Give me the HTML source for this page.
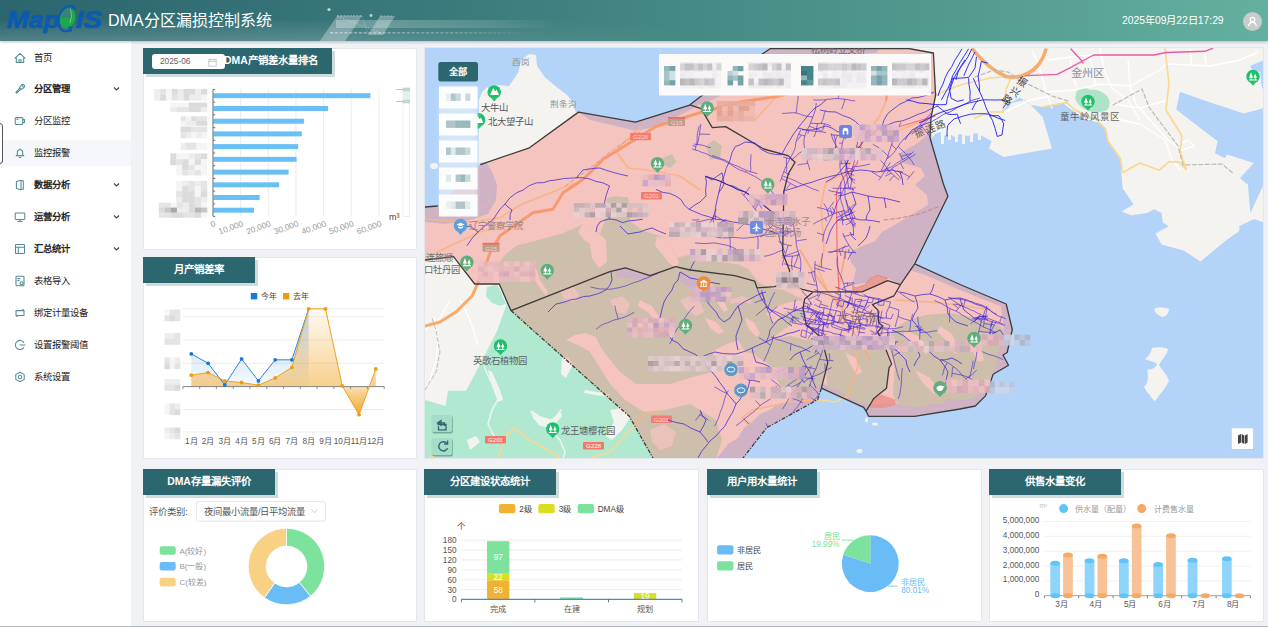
<!DOCTYPE html>
<html lang="zh-CN">
<head>
<meta charset="utf-8">
<title>DMA分区漏损控制系统</title>
<style>
*{box-sizing:border-box;margin:0;padding:0}
html,body{width:1268px;height:627px;overflow:hidden;background:#f0f2f5;font-family:"Liberation Sans",sans-serif;color:#222}
body{position:relative}
.abs{position:absolute}
/* header */
#hdr{position:absolute;left:0;top:0;width:1268px;height:41px;background:linear-gradient(90deg,#2c656e 0%,#3a7a7c 35%,#4f968c 70%,#64b09e 100%);box-shadow:0 1px 3px rgba(0,0,0,.25);z-index:5;overflow:hidden}
#hdr .vg{position:absolute;left:0;top:0;width:700px;height:41px;background:linear-gradient(180deg,rgba(0,0,0,0) 45%,rgba(255,255,255,.18) 100%);-webkit-mask-image:linear-gradient(90deg,#000 0%,#000 50%,transparent 100%)}
#logo{position:absolute;left:6.5px;top:4.5px;-webkit-text-stroke:.7px #0d5bb0;height:30px;font-size:24px;font-weight:bold;font-style:italic;color:#0d5bb0;line-height:30px;white-space:nowrap}
#logo b{position:absolute;top:0;font-weight:bold}
#ttl{position:absolute;left:108px;top:9.5px;font-size:16px;line-height:22px;color:#fff;white-space:nowrap}
#dt{position:absolute;left:1122px;top:13.5px;font-size:10.3px;line-height:14px;color:#fff;white-space:nowrap}
#ava{position:absolute;left:1243px;top:12px;width:19px;height:19px;border-radius:50%;background:#c9cbcc}
/* sidebar */
#side{position:absolute;left:0;top:41px;width:131px;height:586px;background:#fff}
.mi{position:absolute;left:0;width:131px;height:32px;font-size:9.4px;line-height:32px;color:#222;white-space:nowrap}
.mi span{position:absolute;left:34px;top:0}
.mi.b span{font-weight:bold}
.mi svg.ic{position:absolute;left:14px;top:10px;width:12px;height:12px;fill:none;stroke:#4f8c93;stroke-width:1.05;stroke-linecap:round;stroke-linejoin:round}
.mi svg.ch{position:absolute;left:113px;top:13px;width:7px;height:6px;fill:none;stroke:#444;stroke-width:1.2}
.mi.act{background:linear-gradient(#fff 0,#fff 3px,#f5f7fa 3px,#f5f7fa 29px,#fff 29px)}
/* panels */
.pn{position:absolute;background:#fff;border:1px solid #e3e6ea;border-radius:1px}
.tt{position:absolute;left:-1px;top:-1px;height:26px;background:#2c6770;color:#fff;font-size:10.4px;font-weight:bold;line-height:26px;text-align:center;box-shadow:3px 3px 0 #cfdcdd;white-space:nowrap;letter-spacing:0}
svg text{font-family:"Liberation Sans",sans-serif}
</style>
</head>
<body>

<!-- HEADER -->
<div id="hdr">
  <div class="vg"></div>
  <svg class="abs" style="left:318px;top:0" width="260" height="41" viewBox="318 0 260 41">
    <defs><linearGradient id="hf" x1="0" x2="1"><stop offset="0" stop-color="#fff" stop-opacity=".28"/><stop offset=".7" stop-color="#fff" stop-opacity=".12"/><stop offset="1" stop-color="#fff" stop-opacity="0"/></linearGradient><linearGradient id="hf2" gradientUnits="userSpaceOnUse" x1="330" y1="0" x2="535" y2="0"><stop offset="0" stop-color="#fff" stop-opacity=".55"/><stop offset=".6" stop-color="#fff" stop-opacity=".3"/><stop offset="1" stop-color="#fff" stop-opacity="0"/></linearGradient></defs>
    <polygon points="320,41 337,16 362,16 345,41" fill="#fff" fill-opacity=".3"/>
    <polygon points="368,35 380,16 395,16 383,35" fill="#fff" fill-opacity=".3"/>
    <rect x="336" y="20" width="220" height="8" fill="url(#hf)"/>
    <line x1="330" y1="32.800" x2="535" y2="32.800" stroke="url(#hf2)" stroke-width="1.300" stroke-dasharray="3.200 1.600"/>
    <polyline points="337,15.800 362,15.800" fill="none" stroke="#fff" stroke-opacity=".6" stroke-width=".9" stroke-dasharray="2 1.200"/><path d="M337 16 383 34M362 16 368 34" fill="none" stroke="#fff" stroke-opacity=".4" stroke-width=".7" stroke-dasharray="1.500 1.500"/>
    <polyline points="380,16 394,16" fill="none" stroke="#fff" stroke-opacity=".5" stroke-width=".8" stroke-dasharray="2 1.5"/>
    <circle cx="329" cy="9.5" r="1.6" fill="#fff" fill-opacity=".7"/>
    <circle cx="371" cy="15.5" r="1.4" fill="#fff" fill-opacity=".7"/>
  </svg>
  <div id="logo"><b style="left:0;transform:scaleX(1.1);transform-origin:0 0">Map</b><svg class="abs" style="left:45.500px;top:-2px" width="28" height="32" viewBox="52 4 28 32"><ellipse cx="67.600" cy="19" rx="7.800" ry="10.300" transform="rotate(13 67.600 19)" fill="#1ea84c"/><path d="M61.800 18.500l1.600 1.200 1.400-2 1.600 1.800 1.600-1.600 1.400 1.800 1.600-2.400.6-2.500-.4-3.500-2.400-3-3.600.8-2.800 4.200z" fill="#3b7c7c" fill-opacity=".9"/><path d="M70.500 9.800l1 7.500-1.500 7" fill="none" stroke="#9adfae" stroke-width=".6"/><path d="M74.800 9.600C72.500 5.600 66.500 5.800 62.200 11.200 57.800 17 57.200 26 60.600 30 63 32.800 67.500 33 70.800 30.500" fill="none" stroke="#0d5bb0" stroke-width="2.200" stroke-linecap="round"/><path d="M70.600 32.800l1.100-4.600-3.600.3" fill="none" stroke="#0d5bb0" stroke-width="1.600"/></svg><b style="left:69.200px;transform:scaleX(1.16);transform-origin:0 0">IS</b></div>
  <div id="ttl">DMA分区漏损控制系统</div>
  <div id="dt">2025年09月22日17:29</div>
  <div id="ava"><svg width="19" height="19" viewBox="0 0 19 19" fill="none" stroke="#fff" stroke-width="1.2"><circle cx="9.5" cy="7.6" r="2.3"/><path d="M5.6 14.2c.3-2.6 1.8-3.9 3.9-3.9s3.6 1.3 3.9 3.9"/></svg></div>
</div>

<!-- SIDEBAR -->
<div id="side">
  <div class="mi" style="top:0.5px"><svg class="ic" viewBox="0 0 12 12"><path d="M1 6.2 6 1.4l5 4.8M2.3 5.2v5.3h7.4V5.2M5 10.5V7.8h2v2.7"/></svg><span>首页</span></div>
  <div class="mi b" style="top:32.4px"><svg class="ic" viewBox="0 0 12 12"><g transform="rotate(45 6 6)"><rect x="4.300" y=".3" width="3.400" height="5.200" rx="1.600"/><path d="M5.200 5.500 5.500 11.300h1L6.800 5.500M5 2.200h2"/></g></svg><span>分区管理</span><svg class="ch" viewBox="0 0 7 6"><path d="M1 1.500 3.500 4 6 1.500"/></svg></div>
  <div class="mi" style="top:64.300px"><svg class="ic" viewBox="0 0 12 12"><rect x="1.200" y="2.600" width="7.600" height="6.800" rx="1"/><path d="M8.800 4.600h1.700v2.800H8.800M2.800 4.200h1.200"/></svg><span>分区监控</span></div>
  <div class="mi act" style="top:96.200px"><svg class="ic" viewBox="0 0 12 12"><path d="M3.300 8.600V5.400a2.700 2.700 0 0 1 5.400 0v3.200M2.200 8.600h7.600M5.200 10.400h1.600M6 2.700V1.800"/></svg><span>监控报警</span></div>
  <div class="mi b" style="top:128.100px"><svg class="ic" viewBox="0 0 12 12"><path d="M2.400 2.600 7 1.300v9.400L2.400 9.400zM7 1.800h2.300v8.400H7"/></svg><span>数据分析</span><svg class="ch" viewBox="0 0 7 6"><path d="M1 1.500 3.500 4 6 1.500"/></svg></div>
  <div class="mi b" style="top:160px"><svg class="ic" viewBox="0 0 12 12"><rect x="1.200" y="2" width="9.600" height="6.400" rx=".8"/><path d="M3.800 10.400h4.400M6 8.400v2"/></svg><span>运营分析</span><svg class="ch" viewBox="0 0 7 6"><path d="M1 1.500 3.500 4 6 1.500"/></svg></div>
  <div class="mi b" style="top:191.900px"><svg class="ic" viewBox="0 0 12 12"><rect x="1.500" y="1.500" width="9" height="9" rx=".8"/><path d="M1.500 4.300h9M4.300 4.300v6.200"/></svg><span>汇总统计</span><svg class="ch" viewBox="0 0 7 6"><path d="M1 1.500 3.500 4 6 1.500"/></svg></div>
  <div class="mi" style="top:223.800px"><svg class="ic" viewBox="0 0 12 12"><rect x="2" y="1.300" width="8" height="9.400" rx=".8"/><path d="M3.800 3.600h2M3.800 5.600h1.200"/><circle cx="7.600" cy="8.300" r="1.500"/></svg><span>表格导入</span></div>
  <div class="mi" style="top:255.700px"><svg class="ic" viewBox="0 0 12 12"><path d="M2 5V3.600h8v3.200M10 7v1.400H2V5.200M8.800 2.400 10 3.600M3.200 9.600 2 8.400"/></svg><span>绑定计量设备</span></div>
  <div class="mi" style="top:287.600px"><svg class="ic" viewBox="0 0 12 12"><path d="M9.800 3.400A4.600 4.600 0 1 0 9.800 8.600M6 6h5"/></svg><span>设置报警阈值</span></div>
  <div class="mi" style="top:319.500px"><svg class="ic" viewBox="0 0 12 12"><path d="M6 1.200 10.200 3.600v4.800L6 10.800 1.800 8.400V3.600z"/><circle cx="6" cy="6" r="1.700"/></svg><span>系统设置</span></div>
</div>
<div class="abs" style="left:-10px;top:123px;width:13px;height:41px;border:1.2px solid #555;border-radius:3px;background:#fff"></div>

<!-- PANEL 1 : DMA产销差水量排名 -->
<div class="pn" id="p1" style="left:143px;top:48px;width:274px;height:202px">
  <div class="tt" style="width:189px;text-align:left;padding-left:81px">DMA产销差水量排名</div>
  <div class="abs" style="left:8px;top:5px;width:73px;height:15px;background:#fff;border-radius:3px;font-size:8.300px;line-height:15px;color:#606266;padding-left:8px">2025-06
    <svg class="abs" style="left:56px;top:3.500px" width="9" height="9" viewBox="0 0 9 9" fill="none" stroke="#c0c4cc" stroke-width=".9"><rect x=".8" y="1.500" width="7.400" height="6.700"/><path d="M.8 3.600h7.400M2.800.5v2M6.200.5v2"/></svg>
  </div>
  <svg id="c1" class="abs" style="left:0;top:0" width="272" height="200" viewBox="144 49 272 200">
<defs><filter id="bl1" x="-10%" y="-10%" width="120%" height="120%"><feGaussianBlur stdDeviation=".7"/></filter></defs>
<line x1="240.7" y1="89" x2="240.7" y2="216.3" stroke="#e6e6e6" stroke-width=".8"/>
<line x1="268.3" y1="89" x2="268.3" y2="216.3" stroke="#e6e6e6" stroke-width=".8"/>
<line x1="295.9" y1="89" x2="295.9" y2="216.3" stroke="#e6e6e6" stroke-width=".8"/>
<line x1="323.6" y1="89" x2="323.6" y2="216.3" stroke="#e6e6e6" stroke-width=".8"/>
<line x1="351.2" y1="89" x2="351.2" y2="216.3" stroke="#e6e6e6" stroke-width=".8"/>
<line x1="378.9" y1="89" x2="378.9" y2="216.3" stroke="#e6e6e6" stroke-width=".8"/>
<rect x="213.5" y="93.2" width="156.9" height="5" fill="#69c0f7"/>
<rect x="213.5" y="106" width="114.6" height="5" fill="#69c0f7"/>
<rect x="213.5" y="118.7" width="90.6" height="5" fill="#69c0f7"/>
<rect x="213.5" y="131.4" width="88.3" height="5" fill="#69c0f7"/>
<rect x="213.5" y="144.1" width="84.7" height="5" fill="#69c0f7"/>
<rect x="213.5" y="156.8" width="83.1" height="5" fill="#69c0f7"/>
<rect x="213.5" y="169.6" width="75.1" height="5" fill="#69c0f7"/>
<rect x="213.5" y="182.3" width="65.7" height="5" fill="#69c0f7"/>
<rect x="213.5" y="195" width="46.2" height="5" fill="#69c0f7"/>
<rect x="213.5" y="207.7" width="40.5" height="5" fill="#69c0f7"/>
<path d="M213.0 89.400V216.3" stroke="#555" stroke-width=".9" fill="none"/>
<line x1="213.0" y1="89.4" x2="215.2" y2="89.4" stroke="#555" stroke-width=".8"/>
<line x1="213.0" y1="102.1" x2="215.2" y2="102.1" stroke="#555" stroke-width=".8"/>
<line x1="213.0" y1="114.8" x2="215.2" y2="114.8" stroke="#555" stroke-width=".8"/>
<line x1="213.0" y1="127.6" x2="215.2" y2="127.6" stroke="#555" stroke-width=".8"/>
<line x1="213.0" y1="140.3" x2="215.2" y2="140.3" stroke="#555" stroke-width=".8"/>
<line x1="213.0" y1="153" x2="215.2" y2="153" stroke="#555" stroke-width=".8"/>
<line x1="213.0" y1="165.7" x2="215.2" y2="165.7" stroke="#555" stroke-width=".8"/>
<line x1="213.0" y1="178.4" x2="215.2" y2="178.4" stroke="#555" stroke-width=".8"/>
<line x1="213.0" y1="191.2" x2="215.2" y2="191.2" stroke="#555" stroke-width=".8"/>
<line x1="213.0" y1="203.9" x2="215.2" y2="203.9" stroke="#555" stroke-width=".8"/>
<line x1="213.0" y1="216.6" x2="215.2" y2="216.6" stroke="#555" stroke-width=".8"/>
<g filter="url(#bl1)" opacity=".9">
<rect x="154.3" y="88.9" width="6.2" height="6.0" fill="#ececec"/><rect x="154.3" y="94.6" width="6.2" height="6.0" fill="#ececec"/><rect x="160.2" y="88.9" width="6.2" height="6.0" fill="#e2e2e2"/><rect x="160.2" y="94.6" width="6.2" height="6.0" fill="#d8d8d8"/><rect x="166.0" y="88.9" width="6.2" height="6.0" fill="#f4f4f4"/><rect x="166.0" y="94.6" width="6.2" height="6.0" fill="#f4f4f4"/><rect x="171.9" y="88.9" width="6.2" height="6.0" fill="#d8d8d8"/><rect x="171.9" y="94.6" width="6.2" height="6.0" fill="#e2e2e2"/><rect x="177.7" y="88.9" width="6.2" height="6.0" fill="#ececec"/><rect x="177.7" y="94.6" width="6.2" height="6.0" fill="#ececec"/><rect x="183.6" y="88.9" width="6.2" height="6.0" fill="#d8d8d8"/><rect x="183.6" y="94.6" width="6.2" height="6.0" fill="#d8d8d8"/><rect x="189.4" y="88.9" width="6.2" height="6.0" fill="#d8d8d8"/><rect x="189.4" y="94.6" width="6.2" height="6.0" fill="#ececec"/><rect x="195.3" y="88.9" width="6.2" height="6.0" fill="#ececec"/><rect x="195.3" y="94.6" width="6.2" height="6.0" fill="#ececec"/><rect x="201.1" y="88.9" width="6.2" height="6.0" fill="#d8d8d8"/><rect x="201.1" y="94.6" width="6.2" height="6.0" fill="#f4f4f4"/>
<rect x="170.3" y="102.6" width="6.4" height="4.9" fill="#f4f4f4"/><rect x="170.3" y="107.2" width="6.4" height="4.9" fill="#ececec"/><rect x="176.4" y="102.6" width="6.4" height="4.9" fill="#f4f4f4"/><rect x="176.4" y="107.2" width="6.4" height="4.9" fill="#e2e2e2"/><rect x="182.5" y="102.6" width="6.4" height="4.9" fill="#f4f4f4"/><rect x="182.5" y="107.2" width="6.4" height="4.9" fill="#e2e2e2"/><rect x="188.7" y="102.6" width="6.4" height="4.9" fill="#d8d8d8"/><rect x="188.7" y="107.2" width="6.4" height="4.9" fill="#d8d8d8"/><rect x="194.8" y="102.6" width="6.4" height="4.9" fill="#d8d8d8"/><rect x="194.8" y="107.2" width="6.4" height="4.9" fill="#d8d8d8"/><rect x="200.9" y="102.6" width="6.4" height="4.9" fill="#d8d8d8"/><rect x="200.9" y="107.2" width="6.4" height="4.9" fill="#ececec"/>
<rect x="180.6" y="116.3" width="5.6" height="4.9" fill="#e2e2e2"/><rect x="180.6" y="120.9" width="5.6" height="4.9" fill="#f4f4f4"/><rect x="185.9" y="116.3" width="5.6" height="4.9" fill="#f4f4f4"/><rect x="185.9" y="120.9" width="5.6" height="4.9" fill="#ececec"/><rect x="191.2" y="116.3" width="5.6" height="4.9" fill="#d8d8d8"/><rect x="191.2" y="120.9" width="5.6" height="4.9" fill="#ececec"/><rect x="196.4" y="116.3" width="5.6" height="4.9" fill="#e2e2e2"/><rect x="196.4" y="120.9" width="5.6" height="4.9" fill="#d8d8d8"/><rect x="201.7" y="116.3" width="5.6" height="4.9" fill="#e2e2e2"/><rect x="201.7" y="120.9" width="5.6" height="4.9" fill="#d8d8d8"/>
<rect x="180.6" y="126.6" width="5.6" height="6.0" fill="#d8d8d8"/><rect x="180.6" y="132.3" width="5.6" height="6.0" fill="#e2e2e2"/><rect x="185.9" y="126.6" width="5.6" height="6.0" fill="#d8d8d8"/><rect x="185.9" y="132.3" width="5.6" height="6.0" fill="#ececec"/><rect x="191.2" y="126.6" width="5.6" height="6.0" fill="#e2e2e2"/><rect x="191.2" y="132.3" width="5.6" height="6.0" fill="#f4f4f4"/><rect x="196.4" y="126.6" width="5.6" height="6.0" fill="#e2e2e2"/><rect x="196.4" y="132.3" width="5.6" height="6.0" fill="#ececec"/><rect x="201.7" y="126.6" width="5.6" height="6.0" fill="#e2e2e2"/><rect x="201.7" y="132.3" width="5.6" height="6.0" fill="#f4f4f4"/>
<rect x="180.6" y="142.6" width="5.6" height="7.2" fill="#ececec"/><rect x="185.9" y="142.6" width="5.6" height="7.2" fill="#e2e2e2"/><rect x="191.2" y="142.6" width="5.6" height="7.2" fill="#e2e2e2"/><rect x="196.4" y="142.6" width="5.6" height="7.2" fill="#f4f4f4"/><rect x="201.7" y="142.6" width="5.6" height="7.2" fill="#f4f4f4"/>
<rect x="170.3" y="153.4" width="6.4" height="6.0" fill="#d8d8d8"/><rect x="170.3" y="159.2" width="6.4" height="6.0" fill="#d8d8d8"/><rect x="176.4" y="153.4" width="6.4" height="6.0" fill="#f4f4f4"/><rect x="176.4" y="159.2" width="6.4" height="6.0" fill="#e2e2e2"/><rect x="182.5" y="153.4" width="6.4" height="6.0" fill="#f4f4f4"/><rect x="182.5" y="159.2" width="6.4" height="6.0" fill="#d8d8d8"/><rect x="188.7" y="153.4" width="6.4" height="6.0" fill="#ececec"/><rect x="188.7" y="159.2" width="6.4" height="6.0" fill="#f4f4f4"/><rect x="194.8" y="153.4" width="6.4" height="6.0" fill="#e2e2e2"/><rect x="194.8" y="159.2" width="6.4" height="6.0" fill="#d8d8d8"/><rect x="200.9" y="153.4" width="6.4" height="6.0" fill="#d8d8d8"/><rect x="200.9" y="159.2" width="6.4" height="6.0" fill="#f4f4f4"/>
<rect x="176.0" y="164.9" width="6.5" height="5.4" fill="#f4f4f4"/><rect x="176.0" y="170.1" width="6.5" height="5.4" fill="#f4f4f4"/><rect x="182.2" y="164.9" width="6.5" height="5.4" fill="#d8d8d8"/><rect x="182.2" y="170.1" width="6.5" height="5.4" fill="#e2e2e2"/><rect x="188.4" y="164.9" width="6.5" height="5.4" fill="#e2e2e2"/><rect x="188.4" y="170.1" width="6.5" height="5.4" fill="#ececec"/><rect x="194.6" y="164.9" width="6.5" height="5.4" fill="#f4f4f4"/><rect x="194.6" y="170.1" width="6.5" height="5.4" fill="#e2e2e2"/><rect x="200.8" y="164.9" width="6.5" height="5.4" fill="#f4f4f4"/><rect x="200.8" y="170.1" width="6.5" height="5.4" fill="#f4f4f4"/>
<rect x="176.0" y="180.9" width="6.5" height="5.4" fill="#f4f4f4"/><rect x="176.0" y="186.1" width="6.5" height="5.4" fill="#f4f4f4"/><rect x="182.2" y="180.9" width="6.5" height="5.4" fill="#ececec"/><rect x="182.2" y="186.1" width="6.5" height="5.4" fill="#d8d8d8"/><rect x="188.4" y="180.9" width="6.5" height="5.4" fill="#e2e2e2"/><rect x="188.4" y="186.1" width="6.5" height="5.4" fill="#e2e2e2"/><rect x="194.6" y="180.9" width="6.5" height="5.4" fill="#ececec"/><rect x="194.6" y="186.1" width="6.5" height="5.4" fill="#f4f4f4"/><rect x="200.8" y="180.9" width="6.5" height="5.4" fill="#e2e2e2"/><rect x="200.8" y="186.1" width="6.5" height="5.4" fill="#e2e2e2"/>
<rect x="176.0" y="191.2" width="6.5" height="6.0" fill="#e2e2e2"/><rect x="176.0" y="196.9" width="6.5" height="6.0" fill="#ececec"/><rect x="182.2" y="191.2" width="6.5" height="6.0" fill="#d8d8d8"/><rect x="182.2" y="196.9" width="6.5" height="6.0" fill="#d8d8d8"/><rect x="188.4" y="191.2" width="6.5" height="6.0" fill="#d8d8d8"/><rect x="188.4" y="196.9" width="6.5" height="6.0" fill="#d8d8d8"/><rect x="194.6" y="191.2" width="6.5" height="6.0" fill="#f4f4f4"/><rect x="194.6" y="196.9" width="6.5" height="6.0" fill="#e2e2e2"/><rect x="200.8" y="191.2" width="6.5" height="6.0" fill="#d8d8d8"/><rect x="200.8" y="196.9" width="6.5" height="6.0" fill="#ececec"/>
<rect x="158.9" y="202.6" width="6.3" height="5.3" fill="#e2e2e2"/><rect x="158.9" y="207.6" width="6.3" height="5.3" fill="#d8d8d8"/><rect x="158.9" y="212.5" width="6.3" height="5.3" fill="#e2e2e2"/><rect x="164.9" y="202.6" width="6.3" height="5.3" fill="#e2e2e2"/><rect x="164.9" y="207.6" width="6.3" height="5.3" fill="#c0c0c0"/><rect x="164.9" y="212.5" width="6.3" height="5.3" fill="#e2e2e2"/><rect x="170.9" y="202.6" width="6.3" height="5.3" fill="#f4f4f4"/><rect x="170.9" y="207.6" width="6.3" height="5.3" fill="#9e9e9e"/><rect x="170.9" y="212.5" width="6.3" height="5.3" fill="#d8d8d8"/><rect x="176.9" y="202.6" width="6.3" height="5.3" fill="#e2e2e2"/><rect x="176.9" y="207.6" width="6.3" height="5.3" fill="#ececec"/><rect x="176.9" y="212.5" width="6.3" height="5.3" fill="#d8d8d8"/><rect x="182.9" y="202.6" width="6.3" height="5.3" fill="#ececec"/><rect x="182.9" y="207.6" width="6.3" height="5.3" fill="#ececec"/><rect x="182.9" y="212.5" width="6.3" height="5.3" fill="#e2e2e2"/><rect x="189.0" y="202.6" width="6.3" height="5.3" fill="#d8d8d8"/><rect x="189.0" y="207.6" width="6.3" height="5.3" fill="#d8d8d8"/><rect x="189.0" y="212.5" width="6.3" height="5.3" fill="#e2e2e2"/><rect x="195.0" y="202.6" width="6.3" height="5.3" fill="#e2e2e2"/><rect x="195.0" y="207.6" width="6.3" height="5.3" fill="#b0b0b0"/><rect x="195.0" y="212.5" width="6.3" height="5.3" fill="#d8d8d8"/><rect x="201.0" y="202.6" width="6.3" height="5.3" fill="#f4f4f4"/><rect x="201.0" y="207.6" width="6.3" height="5.3" fill="#c0c0c0"/><rect x="201.0" y="212.5" width="6.3" height="5.3" fill="#f4f4f4"/>
</g>
<text x="214" y="219.800" font-size="8.400" fill="#999" text-anchor="end" transform="rotate(-20 214 219.800)" dominant-baseline="hanging">0</text>
<text x="241.7" y="219.800" font-size="8.400" fill="#999" text-anchor="end" transform="rotate(-20 241.7 219.800)" dominant-baseline="hanging">10,000</text>
<text x="269.3" y="219.800" font-size="8.400" fill="#999" text-anchor="end" transform="rotate(-20 269.3 219.800)" dominant-baseline="hanging">20,000</text>
<text x="296.9" y="219.800" font-size="8.400" fill="#999" text-anchor="end" transform="rotate(-20 296.9 219.800)" dominant-baseline="hanging">30,000</text>
<text x="324.6" y="219.800" font-size="8.400" fill="#999" text-anchor="end" transform="rotate(-20 324.6 219.800)" dominant-baseline="hanging">40,000</text>
<text x="352.2" y="219.800" font-size="8.400" fill="#999" text-anchor="end" transform="rotate(-20 352.2 219.800)" dominant-baseline="hanging">50,000</text>
<text x="379.9" y="219.800" font-size="8.400" fill="#999" text-anchor="end" transform="rotate(-20 379.9 219.800)" dominant-baseline="hanging">60,000</text>
<text x="389" y="220" font-size="9" fill="#444">m³</text>
<rect x="403" y="89.500" width="6.500" height="127" fill="#fff" stroke="#e4e7ed" stroke-width=".7"/>
<rect x="403" y="89.500" width="6.500" height="12" fill="#d9f2ee" fill-opacity=".9"/>
<path d="M396 89.500h7M396 101.500h7" stroke="#aab5b5" stroke-width=".8"/>
<rect x="402.500" y="87.700" width="7.500" height="3.600" fill="#c9d2d2"/><rect x="402.500" y="99.700" width="7.500" height="3.600" fill="#c9d2d2"/>
</svg>
</div>

<!-- PANEL 2 : 月产销差率 -->
<div class="pn" id="p2" style="left:143px;top:257px;width:274px;height:202px">
  <div class="tt" style="width:112px">月产销差率</div>
  <svg id="c2" class="abs" style="left:0;top:0" width="272" height="200" viewBox="144 258 272 200">
<line x1="182.9" y1="308.8" x2="384.2" y2="308.8" stroke="#e9e9e9" stroke-width=".8"/>
<line x1="182.9" y1="316.6" x2="384.2" y2="316.6" stroke="#e9e9e9" stroke-width=".8"/>
<line x1="182.9" y1="340.1" x2="384.2" y2="340.1" stroke="#e9e9e9" stroke-width=".8"/>
<line x1="182.9" y1="363.3" x2="384.2" y2="363.3" stroke="#e9e9e9" stroke-width=".8"/>
<line x1="182.9" y1="409.5" x2="384.2" y2="409.5" stroke="#e9e9e9" stroke-width=".8"/>
<line x1="182.9" y1="432" x2="384.2" y2="432" stroke="#e9e9e9" stroke-width=".8"/>
<defs><linearGradient id="gb" x1="0" y1="308" x2="0" y2="387" gradientUnits="userSpaceOnUse"><stop offset="0" stop-color="#1e7fe0" stop-opacity=".32"/><stop offset="1" stop-color="#1e7fe0" stop-opacity=".04"/></linearGradient><linearGradient id="go" x1="0" y1="308" x2="0" y2="387" gradientUnits="userSpaceOnUse"><stop offset="0" stop-color="#f2a01e" stop-opacity=".05"/><stop offset="1" stop-color="#f2a01e" stop-opacity=".5"/></linearGradient><linearGradient id="go2" x1="0" y1="387" x2="0" y2="415" gradientUnits="userSpaceOnUse"><stop offset="0" stop-color="#f2a01e" stop-opacity=".35"/><stop offset="1" stop-color="#f2a01e" stop-opacity=".95"/></linearGradient><filter id="bl2" x="-20%" y="-20%" width="140%" height="140%"><feGaussianBlur stdDeviation=".7"/></filter></defs>
<polygon points="191.3,386.6 191.3,353.9 208.1,363.3 224.8,385 241.6,358.9 258.4,380.9 275.2,359.8 291.9,359.8 308.7,308.8 308.7,386.6" fill="url(#gb)"/>
<polygon points="191.3,386.6 191.3,375.2 208.1,372.6 224.8,380.9 241.6,382.5 258.4,385.2 275.2,377.9 291.9,367.4 308.7,308.8 325.5,308.8 342.3,385.9" fill="url(#go)"/>
<polygon points="342.3,386.6 359,414.7 369.4,386.6" fill="url(#go2)"/>
<polygon points="369.4,386.6 375.8,369 375.8,386.6" fill="url(#go)"/>
<line x1="182.9" y1="386.6" x2="384.2" y2="386.6" stroke="#777" stroke-width=".9"/>
<line x1="182.9" y1="386.6" x2="182.9" y2="389.1" stroke="#777" stroke-width=".8"/>
<line x1="199.7" y1="386.6" x2="199.7" y2="389.1" stroke="#777" stroke-width=".8"/>
<line x1="216.4" y1="386.6" x2="216.4" y2="389.1" stroke="#777" stroke-width=".8"/>
<line x1="233.2" y1="386.6" x2="233.2" y2="389.1" stroke="#777" stroke-width=".8"/>
<line x1="250" y1="386.6" x2="250" y2="389.1" stroke="#777" stroke-width=".8"/>
<line x1="266.8" y1="386.6" x2="266.8" y2="389.1" stroke="#777" stroke-width=".8"/>
<line x1="283.6" y1="386.6" x2="283.6" y2="389.1" stroke="#777" stroke-width=".8"/>
<line x1="300.3" y1="386.6" x2="300.3" y2="389.1" stroke="#777" stroke-width=".8"/>
<line x1="317.1" y1="386.6" x2="317.1" y2="389.1" stroke="#777" stroke-width=".8"/>
<line x1="333.9" y1="386.6" x2="333.9" y2="389.1" stroke="#777" stroke-width=".8"/>
<line x1="350.6" y1="386.6" x2="350.6" y2="389.1" stroke="#777" stroke-width=".8"/>
<line x1="367.4" y1="386.6" x2="367.4" y2="389.1" stroke="#777" stroke-width=".8"/>
<line x1="384.2" y1="386.6" x2="384.2" y2="389.1" stroke="#777" stroke-width=".8"/>
<polyline points="191.3,353.9 208.1,363.3 224.8,385 241.6,358.9 258.4,380.9 275.2,359.8 291.9,359.8 308.7,308.8" fill="none" stroke="#2a86e2" stroke-width="1"/>
<polyline points="191.3,375.2 208.1,372.6 224.8,380.9 241.6,382.5 258.4,385.2 275.2,377.9 291.9,367.4 308.7,308.8 325.5,308.8 342.3,385.9 359,414.7 375.8,369" fill="none" stroke="#f0a01c" stroke-width="1"/>
<circle cx="191.3" cy="353.9" r="1.900" fill="#1777dc"/>
<circle cx="208.1" cy="363.3" r="1.900" fill="#1777dc"/>
<circle cx="224.8" cy="385" r="1.900" fill="#1777dc"/>
<circle cx="241.6" cy="358.9" r="1.900" fill="#1777dc"/>
<circle cx="258.4" cy="380.9" r="1.900" fill="#1777dc"/>
<circle cx="275.2" cy="359.8" r="1.900" fill="#1777dc"/>
<circle cx="291.9" cy="359.8" r="1.900" fill="#1777dc"/>
<circle cx="191.3" cy="375.2" r="1.900" fill="#f09a12"/>
<circle cx="208.1" cy="372.6" r="1.900" fill="#f09a12"/>
<circle cx="224.8" cy="380.9" r="1.900" fill="#f09a12"/>
<circle cx="241.6" cy="382.5" r="1.900" fill="#f09a12"/>
<circle cx="258.4" cy="385.2" r="1.900" fill="#f09a12"/>
<circle cx="275.2" cy="377.9" r="1.900" fill="#f09a12"/>
<circle cx="291.9" cy="367.4" r="1.900" fill="#f09a12"/>
<circle cx="308.7" cy="308.8" r="1.900" fill="#f09a12"/>
<circle cx="325.5" cy="308.8" r="1.900" fill="#f09a12"/>
<circle cx="342.3" cy="385.9" r="1.900" fill="#f09a12"/>
<circle cx="359" cy="414.7" r="1.900" fill="#f09a12"/>
<circle cx="375.8" cy="369" r="1.900" fill="#f09a12"/>
<rect x="250.800" y="293" width="6.400" height="6.400" fill="#1777dc"/><text x="260.500" y="299.400" font-size="8" fill="#444">今年</text>
<rect x="283" y="293" width="6.400" height="6.400" fill="#f09a12"/><text x="293" y="299.400" font-size="8" fill="#444">去年</text>
<text x="191.3" y="444" font-size="8.200" fill="#555" text-anchor="middle">1月</text>
<text x="208.1" y="444" font-size="8.200" fill="#555" text-anchor="middle">2月</text>
<text x="224.8" y="444" font-size="8.200" fill="#555" text-anchor="middle">3月</text>
<text x="241.6" y="444" font-size="8.200" fill="#555" text-anchor="middle">4月</text>
<text x="258.4" y="444" font-size="8.200" fill="#555" text-anchor="middle">5月</text>
<text x="275.2" y="444" font-size="8.200" fill="#555" text-anchor="middle">6月</text>
<text x="291.9" y="444" font-size="8.200" fill="#555" text-anchor="middle">7月</text>
<text x="308.7" y="444" font-size="8.200" fill="#555" text-anchor="middle">8月</text>
<text x="325.5" y="444" font-size="8.200" fill="#555" text-anchor="middle">9月</text>
<text x="342.3" y="444" font-size="8.200" fill="#555" text-anchor="middle">10月</text>
<text x="359" y="444" font-size="8.200" fill="#555" text-anchor="middle">11月</text>
<text x="375.8" y="444" font-size="8.200" fill="#555" text-anchor="middle">12月</text>
<g filter="url(#bl2)" opacity=".9">
<rect x="164.5" y="309.5" width="5.5" height="6.0" fill="#f4f4f4"/><rect x="164.5" y="315.2" width="5.5" height="6.0" fill="#e2e2e2"/><rect x="169.7" y="309.5" width="5.5" height="6.0" fill="#e2e2e2"/><rect x="169.7" y="315.2" width="5.5" height="6.0" fill="#d8d8d8"/><rect x="174.8" y="309.5" width="5.5" height="6.0" fill="#e2e2e2"/><rect x="174.8" y="315.2" width="5.5" height="6.0" fill="#e2e2e2"/>
<rect x="164.5" y="333.0" width="5.5" height="6.0" fill="#ececec"/><rect x="164.5" y="338.8" width="5.5" height="6.0" fill="#e2e2e2"/><rect x="169.7" y="333.0" width="5.5" height="6.0" fill="#ececec"/><rect x="169.7" y="338.8" width="5.5" height="6.0" fill="#e2e2e2"/><rect x="174.8" y="333.0" width="5.5" height="6.0" fill="#e2e2e2"/><rect x="174.8" y="338.8" width="5.5" height="6.0" fill="#e2e2e2"/>
<rect x="164.5" y="357.5" width="5.5" height="6.0" fill="#e2e2e2"/><rect x="164.5" y="363.2" width="5.5" height="6.0" fill="#d8d8d8"/><rect x="169.7" y="357.5" width="5.5" height="6.0" fill="#f4f4f4"/><rect x="169.7" y="363.2" width="5.5" height="6.0" fill="#f4f4f4"/><rect x="174.8" y="357.5" width="5.5" height="6.0" fill="#ececec"/><rect x="174.8" y="363.2" width="5.5" height="6.0" fill="#e2e2e2"/>
<rect x="164.5" y="379.0" width="5.5" height="6.0" fill="#ececec"/><rect x="164.5" y="384.8" width="5.5" height="6.0" fill="#e2e2e2"/><rect x="169.7" y="379.0" width="5.5" height="6.0" fill="#ececec"/><rect x="169.7" y="384.8" width="5.5" height="6.0" fill="#e2e2e2"/><rect x="174.8" y="379.0" width="5.5" height="6.0" fill="#ececec"/><rect x="174.8" y="384.8" width="5.5" height="6.0" fill="#d8d8d8"/>
<rect x="164.5" y="403.5" width="5.5" height="6.0" fill="#f4f4f4"/><rect x="164.5" y="409.2" width="5.5" height="6.0" fill="#f4f4f4"/><rect x="169.7" y="403.5" width="5.5" height="6.0" fill="#e2e2e2"/><rect x="169.7" y="409.2" width="5.5" height="6.0" fill="#e2e2e2"/><rect x="174.8" y="403.5" width="5.5" height="6.0" fill="#ececec"/><rect x="174.8" y="409.2" width="5.5" height="6.0" fill="#d8d8d8"/>
<rect x="164.5" y="427.5" width="5.5" height="6.0" fill="#ececec"/><rect x="164.5" y="433.2" width="5.5" height="6.0" fill="#f4f4f4"/><rect x="169.7" y="427.5" width="5.5" height="6.0" fill="#e2e2e2"/><rect x="169.7" y="433.2" width="5.5" height="6.0" fill="#ececec"/><rect x="174.8" y="427.5" width="5.5" height="6.0" fill="#d8d8d8"/><rect x="174.8" y="433.2" width="5.5" height="6.0" fill="#e2e2e2"/>
</g>
</svg>
</div>

<!-- MAP -->
<div class="pn" id="map" style="left:424px;top:47px;width:840px;height:412px;overflow:hidden;background:#b3d4f8;border-color:#e3e6ea">
<svg class="abs" style="left:0;top:0" width="838" height="410" viewBox="425 48 838 410">
<defs><filter id="mbl" x="-10%" y="-20%" width="120%" height="140%"><feGaussianBlur stdDeviation="1.600"/></filter><filter id="mb2" x="-10%" y="-20%" width="120%" height="140%"><feGaussianBlur stdDeviation=".75"/></filter><clipPath id="ovc"><polygon points="425,207 438,206 480.3,164.6 529.4,147.8 578.5,112.1 635.5,122.1 689,105.4 700,97 770.4,48 908.8,48 933.4,53 935.6,95.4 931,117.7 930,137.8 940.5,174 943.4,184 947.9,196.3 913.3,264.4 960,284.5 1006.2,304 1012.3,329.5 1007.2,352.5 1003,355 1008.5,365.2 993.2,374.2 985.5,395.9 975.3,406 960,409 914.6,416.3 868.7,416.3 863.6,407.4 821.4,388.2 817.6,399.7 766.6,427.8 742.3,459 653.5,459 629.3,416.3 510.6,310.4 499.3,284 474.7,284 453.5,256.6 425,260"/></clipPath></defs>
<rect x="425" y="48" width="839" height="411" fill="#f5f3ef"/>
<polygon points="425,48 770,48 745,66 720,84 700,98 689,106 660,115 636,123.5 610,119 578.5,113 575,111 574,103 567,95 556,86.4 545,77.5 537,66 536,55 529.4,54 521.6,59.6 518,73 509,86 496,85 487,87.5 482,92 479,100 478.5,163 484,175 490,190 489,206 470,207 425,207" fill="#b3d4f8"/>
<ellipse cx="434" cy="166" rx="4" ry="3" fill="#f5f3ef"/>
<polygon points="935,134 940,132 945,136 949,133 954,137 960,134 968,136 976,133 984,137 991.5,141 989,148.5 1003.7,157 1052,148.5 1042.6,117 1030.5,104.7 1025,100 1012,103 1008,108 1003,112 1008,104 1020,97.5 1030.5,104.7 1042.6,107 1066.9,102.3 1074,109.6 1096,119.3 1105.7,129 1108,141.2 1120.3,158.2 1121.5,174 1122.7,188.6 1133.7,204.4 1121.5,211.6 1131.2,215.3 1147,212.9 1154.3,209.2 1161.6,212.9 1162.8,222.6 1168.9,226.2 1155.5,233.5 1161.6,244.4 1183.5,250.5 1200.5,261.4 1227.2,239.6 1239.3,231 1239.3,226 1254,219 1264,222.6 1264,459 742,459 766.6,427.8 817.6,399.7 821.4,388.2 863.6,407.4 868.7,416.3 914.6,416.3 960,409 975.3,406 985.5,395.9 993.2,374.2 1008.5,365.2 1003,356 1007.2,352.5 1012.3,329.5 1006.2,304 960,284.5 913.3,264.4 947.9,196.3 943.4,184 936,160 931,140" fill="#b3d4f8"/>
<rect x="941" y="132" width="3" height="12" fill="#f5f3ef"/>
<rect x="948" y="132" width="3" height="8" fill="#f5f3ef"/>
<rect x="955" y="132" width="3" height="10" fill="#f5f3ef"/>
<rect x="962" y="132" width="3" height="12" fill="#f5f3ef"/>
<rect x="970" y="132" width="3" height="10" fill="#f5f3ef"/>
<rect x="978" y="132" width="3" height="8" fill="#f5f3ef"/>
<polygon points="1180,91.7 1203,100 1244,113.6 1264,108 1264,184 1250.3,212.9 1247.8,183.7 1246.6,184 1240,178 1253.8,163 1227,154.5 1224.8,158.2 1215,153.3 1217.5,141.2 1176.2,109.6" fill="#b3d4f8"/>
<polygon points="1250,66 1264,60 1264,90 1262,88 1260,72 1252,70" fill="#b3d4f8"/>
<polygon points="931,131 918,143 898,154 903,163 921,168 925,176 915,185 927,195 928,205 916,212 900,222 882,232 875,241 860,247 848.5,253 851,262 856,268.7 852.5,284.7 866,283 871,277 878,275 887.6,278.3 900,284 913.3,264.4 947.9,196.3 943.4,184 936,160 933,140" fill="#b3d4f8"/>
<path d="M1154 309c3-2 10-2 15 0 0 4-3 8-7 8-4-2-7-4-8-8z" fill="#f5f3ef"/>
<path d="M1152 348c5-1 12-1 16 1-1 6-6 10-9 16 4 6 9 11 10 16-4 8-10 14-14 20-4-2-4-6-8-9l-3-5c4-4 5-10 3-17 5-1 9-2 10-6-3-3-8-3-12-5 4-3 6-6 7-11z" fill="#f5f3ef"/>
<ellipse cx="866.500" cy="420" rx="1.500" ry="2.600" fill="#f5f3ef"/><ellipse cx="875" cy="424" rx="3" ry="1.500" fill="#f5f3ef"/><ellipse cx="859.500" cy="451" rx="3" ry="2" fill="#f5f3ef"/>
<polygon points="500,262 504.8,255 516.7,245.5 535.9,240.7 562.2,233.5 583.7,223.9 600.5,233.5 605.3,219.1 612,197 628,197 630.4,221.5 643.5,231.1 667.5,238.3 672.2,247.8 677,257.4 689,255 703.3,259.8 739.2,264.6 748.8,269.4 758,282 770,288 784,290 796,296 805,300 805,318 792,324 780,332 770,340 766,352 772,370 780,385 790,396 800,398 812,392 815,399 790,414 766,428 742,459 425,459 425,400 445.5,406 448,390.8 466,390.8 481,362.7 496.6,332 506.8,304 499.3,284" fill="#b1e8d0"/>
<polygon points="487,287 497,284.5 500,290 506,304 500,306 492,303 486,296" fill="#b1e8d0"/>
<polygon points="566,340 575,335 585.5,333 596,337 600,346 608.5,358 620,372 636,384 670,384 693,377 712,372 716,360 712,352 722,346 738,340 750,332 760,322 768,312 778,306 790,302 805,300 805,308 794,310 784,314 775,321 767,330 758,340 752,348 756,356 766,362 772,370 780,385 790,396 800,398 812,392 815,399 766,428 742,459 716,459 722,440 716,420 700,410 690,404 665,410 644,412 625,400 610,384 600.8,369 590,352 580,346" fill="#f5f3ef"/>
<polygon points="583,224 592,228 600,234 606,240 607,262 599,268 592,258 590,244 584,240 578,232" fill="#f5f3ef"/>
<polygon points="656.7,236.5 668,238 672,248 679,262 676,268 668,262 662,254 655,246" fill="#f5f3ef"/>
<polygon points="530,262 536,268 540,280 548,292 546,296 537,284 531,272" fill="#f5f3ef"/>
<polygon points="700,280 712,284 722,296 728,310 724,312 715,300 704,290" fill="#f5f3ef"/>
<polygon points="640,300 652,306 660,318 656,322 648,312 638,306" fill="#f5f3ef"/>
<polygon points="705,318 716,322 724,332 718,334 710,328" fill="#f5f3ef"/>
<polygon points="722,420 735,410 750,404 762,408 752,420 740,432 728,440" fill="#f5f3ef" fill-opacity=".75"/>
<polygon points="730,300 742,296 752,300 748,310 738,314 730,310" fill="#f5f3ef" fill-opacity=".75"/>
<polygon points="680,300 690,296 700,302 704,312 696,316 686,310" fill="#f5f3ef" fill-opacity=".75"/>
<polygon points="610,300 622,296 630,304 626,314 616,312" fill="#f5f3ef" fill-opacity=".75"/>
<polygon points="560,290 572,286 580,294 574,302 564,300" fill="#f5f3ef" fill-opacity=".75"/>
<polygon points="776,350 786,346 794,354 796,366 788,372 780,364" fill="#f5f3ef" fill-opacity=".75"/>
<polygon points="650,430 664,424 676,432 672,446 660,450 652,442" fill="#f5f3ef" fill-opacity=".75"/>
<polygon points="561.7,359 568,357 573,364 566,378 561,374" fill="#f5f3ef"/>
<polygon points="585,390 610,394 608,397 584,393" fill="#f5f3ef"/>
<polygon points="531,410 540,416 552,420 560,411 562,416 552,428 540,426 533,418" fill="#f5f3ef"/>
<polygon points="610,410 622,408 630,418 622,430 612,440 606,436 614,422" fill="#f5f3ef"/>
<polygon points="488,370 492,372 500,390 503,400 498,402 492,386" fill="#f5f3ef"/>
<polygon points="467,440 476,436 480,442 470,450" fill="#f5f3ef"/>
<polygon points="826,346 835,340 850,338 868,345 878,336 884,345 890,365 887,388 874,398 864,407 845,400 828,392 826,370" fill="#b1e8d0"/>
<polygon points="893,330 905,322 925,315 950,313 975,318 1000,326 1009,334 1005,352 1003,365 992,374 985,395 975,405 960,408 930,410 900,408 893,395 895,365 888,345" fill="#b1e8d0"/>
<polygon points="728,304 745,302 762,310 774,322 772,340 760,355 745,352 738,340 740,322 730,314" fill="#b1e8d0"/>
<polygon points="770,340 790,336 806,340 818,336 822.7,342.3 827.8,362.7 821.4,388.2 812,392 800,398 790,396 780,385 772,370 766,352" fill="#b1e8d0"/>
<polygon points="905,330 918,336 930,350 926,354 914,344 903,336" fill="#f5f3ef"/>
<polygon points="940,326 952,334 960,350 955,354 946,340 937,332" fill="#f5f3ef"/>
<polygon points="970,340 980,346 984,360 978,362 972,350" fill="#f5f3ef"/>
<polygon points="915,370 930,378 940,392 934,394 922,382" fill="#f5f3ef"/>
<polygon points="845,352 856,358 862,372 857,375 850,364" fill="#f5f3ef"/>
<polygon points="745,318 754,322 760,334 756,337 748,328" fill="#f5f3ef"/>
<polygon points="607,198 616,196 628,198 631,212 626,228 612,230 606,220" fill="#b1e8d0"/>
<polygon points="706,146 714,140 722,146 720,158 710,160" fill="#b1e8d0"/>
<polygon points="663,158 672,154 676,162 670,168 664,165" fill="#b1e8d0"/>
<path d="M1077 90c4-4 10-2 14 0 6-1 12 2 16 6 3 4 4 10 0 14-6 3-14 3-20 0-6-2-10-6-12-12z" fill="#aee3c8"/>
<polygon points="612.4,271 625,268 638,273 650.7,276 648,280 632,279 618,277" fill="#b3d4f8"/>
<polygon points="679.4,272 690,276 703.3,286 732,288 731,293 704,292 690,288 681,282" fill="#b3d4f8"/>
<polygon points="578.5,112 600,117 636,123 660,115 689,105.5 700,97.5 770,48.5 880,48.5 876,53 840,55 790,56 760,70 735,88 712,100 700,104 690,110 668,121 650,128 636,131 612,125 590,120" fill="#b3d4f8"/>
<polygon points="478.5,163 484,175 490,190 489,206 470,207 425,207 425,222 445,224 470,220 488,214 496,200 497,185 492,172 486,162" fill="#b3d4f8"/>
<polygon points="742,459 766.6,427.8 817.6,399.7 821.4,388.2 840,396.6 863.6,407.4 868.7,416.3 914.6,416.3 947.6,412.3 976.4,404.4 986.4,394.4 995,377.2 1008.5,365.2 1003,356 1007.2,352.5 1012.3,329.5 1006.2,304 1001,306 1004,330 999,350 997,362 989.3,384.4 983.5,394.4 977.8,394.4 972,398.7 963.4,400.1 946.2,398.7 943.3,404.4 931.9,403.7 920.4,407.3 908.9,406.6 897.4,403.7 868.7,403.7 858.7,403 848.6,397.3 840,391.5 828,386 822,383 814,388 806,393 796,395 788,402 778,404 770,410 760,414 752,422 744,428 738,438 728,444 722,452 716,459" fill="#b3d4f8"/>
<polygon points="913.3,264.4 960,284.5 1006.2,304 1000,306 960,290 925,275 910,270" fill="#b3d4f8"/>
<polyline points="1033,52 1040,70 1046,92 1052,108" fill="none" stroke="#ffffff" stroke-width="1.4" stroke-linecap="round" stroke-linejoin="round" />
<polyline points="1048,60 1080,56 1093,55" fill="none" stroke="#ffffff" stroke-width="1.4" stroke-linecap="round" stroke-linejoin="round" />
<polyline points="1046,92 1075,90 1100,84 1130,86" fill="none" stroke="#ffffff" stroke-width="1.4" stroke-linecap="round" stroke-linejoin="round" />
<polyline points="1100,48 1104,70 1112,88 1128,100 1140,120" fill="none" stroke="#ffffff" stroke-width="1.4" stroke-linecap="round" stroke-linejoin="round" />
<polyline points="1128,60 1130,86 1136,104" fill="none" stroke="#ffffff" stroke-width="1.4" stroke-linecap="round" stroke-linejoin="round" />
<polyline points="1130,86 1160,70 1166,64" fill="none" stroke="#ffffff" stroke-width="1.4" stroke-linecap="round" stroke-linejoin="round" />
<polyline points="1166,64 1210,66 1240,60 1258,52" fill="none" stroke="#ffffff" stroke-width="1.4" stroke-linecap="round" stroke-linejoin="round" />
<polyline points="1190,50 1192,65" fill="none" stroke="#ffffff" stroke-width="1.4" stroke-linecap="round" stroke-linejoin="round" />
<polyline points="1204,50 1206,65" fill="none" stroke="#ffffff" stroke-width="1.4" stroke-linecap="round" stroke-linejoin="round" />
<polyline points="1112,104 1140,108 1168,100" fill="none" stroke="#ffffff" stroke-width="1.4" stroke-linecap="round" stroke-linejoin="round" />
<polyline points="1112,118 1140,124 1165,140 1172,160 1180,170" fill="none" stroke="#ffffff" stroke-width="1.4" stroke-linecap="round" stroke-linejoin="round" />
<polyline points="1060,100 1084,118 1100,122" fill="none" stroke="#ffffff" stroke-width="1.4" stroke-linecap="round" stroke-linejoin="round" />
<polyline points="1005,112 1030,100 1050,96" fill="none" stroke="#ffffff" stroke-width="1.4" stroke-linecap="round" stroke-linejoin="round" />
<polyline points="1136,104 1150,120 1168,140 1182,150 1194,146 1188,140 1180,144" fill="none" stroke="#ffffff" stroke-width="1.4" stroke-linecap="round" stroke-linejoin="round" />
<polyline points="1070,60 1076,86" fill="none" stroke="#ffffff" stroke-width="1.4" stroke-linecap="round" stroke-linejoin="round" />
<polyline points="1090,56 1095,84" fill="none" stroke="#ffffff" stroke-width="1.4" stroke-linecap="round" stroke-linejoin="round" />
<polyline points="425,330 440,318 450,300" fill="none" stroke="#ffffff" stroke-width="1.2" stroke-linecap="round" stroke-linejoin="round" />
<polyline points="430,380 436,360 438,340 434,318" fill="none" stroke="#ffffff" stroke-width="1.2" stroke-linecap="round" stroke-linejoin="round" />
<polyline points="460,300 470,320 478,345" fill="none" stroke="#ffffff" stroke-width="1.2" stroke-linecap="round" stroke-linejoin="round" />
<polyline points="484,366 490,380 500,396 492,410 488,424 494,436" fill="none" stroke="#e9f6ef" stroke-width="1.6" stroke-linecap="round" stroke-linejoin="round" />
<polyline points="531,412 545,424 555,418 561,410" fill="none" stroke="#e9f6ef" stroke-width="1.6" stroke-linecap="round" stroke-linejoin="round" />
<polyline points="545,424 560,440 565,452 563,459" fill="none" stroke="#e9f6ef" stroke-width="1.6" stroke-linecap="round" stroke-linejoin="round" />
<polyline points="1165,49 1169,83 1166,110 1182,136 1180,151 1186,169" fill="none" stroke="#fbd792" stroke-width="1.7" stroke-linecap="round" stroke-linejoin="round" />
<polyline points="1042.6,107 1066.9,102.3 1074,109.6 1096,119.3 1105.7,129 1108,141.2 1120.3,158.2 1122.7,172.7 1139.7,163 1159,170.3 1169,161.8 1178.6,161.8 1186,169" fill="none" stroke="#fbd792" stroke-width="1.7" stroke-linecap="round" stroke-linejoin="round" />
<polyline points="1003,112 1006,90 1010,80" fill="none" stroke="#fbd792" stroke-width="1.7" stroke-linecap="round" stroke-linejoin="round" />
<polyline points="975,118 990,112 1003,112" fill="none" stroke="#fbd792" stroke-width="1.7" stroke-linecap="round" stroke-linejoin="round" />
<polyline points="887.6,97.7 880,115.5 862,141 844,174 826,182 821,205 824,250 818,270 828,292" fill="none" stroke="#fbd792" stroke-width="1.7" stroke-linecap="round" stroke-linejoin="round" />
<polyline points="640,127 618,148 618,154 628,168 655,171 680,176 700,190" fill="none" stroke="#fbd792" stroke-width="1.7" stroke-linecap="round" stroke-linejoin="round" />
<polyline points="425,258 450,246 480,232 505,225" fill="none" stroke="#fbd792" stroke-width="1.7" stroke-linecap="round" stroke-linejoin="round" />
<polyline points="425,219 470,222 500,218 520,205 545,195 583,180" fill="none" stroke="#fbd792" stroke-width="1.7" stroke-linecap="round" stroke-linejoin="round" />
<polyline points="817.6,399.7 835,402 848,396 853,380 858,366 856,352" fill="none" stroke="#fbd792" stroke-width="1.7" stroke-linecap="round" stroke-linejoin="round" />
<polyline points="742,418 752,410 790,402 817.6,399.7" fill="none" stroke="#fbd792" stroke-width="1.7" stroke-linecap="round" stroke-linejoin="round" />
<polyline points="742,418 748,424" fill="none" stroke="#fbd792" stroke-width="1.7" stroke-linecap="round" stroke-linejoin="round" />
<polyline points="425,459 438,455" fill="none" stroke="#fbd792" stroke-width="1.7" stroke-linecap="round" stroke-linejoin="round" />
<polyline points="498,459 506,436 514,428 530,440 548,450 562,459" fill="none" stroke="#fbd792" stroke-width="1.7" stroke-linecap="round" stroke-linejoin="round" />
<polyline points="586,459 610,452 632,428 645,414 660,412" fill="none" stroke="#fbd792" stroke-width="1.7" stroke-linecap="round" stroke-linejoin="round" />
<polyline points="935,95 960,85 990,78 1006,77" fill="none" stroke="#fbd792" stroke-width="1.7" stroke-linecap="round" stroke-linejoin="round" />
<polyline points="900,130 920,122 940,112" fill="none" stroke="#fbd792" stroke-width="1.7" stroke-linecap="round" stroke-linejoin="round" />
<polyline points="895,300 930,302 960,305 990,310" fill="none" stroke="#fbd792" stroke-width="1.7" stroke-linecap="round" stroke-linejoin="round" />
<polyline points="755,120 775,98 800,92 830,88" fill="none" stroke="#fbd792" stroke-width="1.4" stroke-linecap="round" stroke-linejoin="round" />
<polyline points="425,326 440,322 456,312 472,296 484,270 490,253 500,235.8 533.3,212.6 553,209.3 563,192.7 583,179.5 602.9,159.6 629.4,143 655.9,126.5 699,113 740,102 775,96.7 800,90 830,84" fill="none" stroke="#f8ab6b" stroke-width="3" stroke-linecap="round" stroke-linejoin="round" />
<path d="M972 48.500Q988 69 1006 76.500 1026 80 1039 64 1044.500 56 1046 48.500" fill="none" stroke="#f8ab6b" stroke-width="3.600"/>
<polyline points="887.6,60 889,80 886,100" fill="none" stroke="#f8ab6b" stroke-width="2" stroke-linecap="round" stroke-linejoin="round" />
<polyline points="846,250 842,270 838,292 845,320 862,345 870,360" fill="none" stroke="#f9c98a" stroke-width="2" stroke-linecap="round" stroke-linejoin="round" />
<polyline points="800,250 812,270 828,292 845,312" fill="none" stroke="#f9c98a" stroke-width="2" stroke-linecap="round" stroke-linejoin="round" />
<polyline points="1025.6,75.6 1057,74.4 1069,68.3 1093.6,55 1154,55 1166,52.5 1205,51.3 1212.6,48.4" fill="none" stroke="#ec5aa6" stroke-width="1.4" stroke-linecap="round" stroke-linejoin="round" />
<polyline points="1071,49 1081,60 1083,63" fill="none" stroke="#ec5aa6" stroke-width="1.4" stroke-linecap="round" stroke-linejoin="round" />
<polyline points="895,128 915,122 935,116" fill="none" stroke="#f05a90" stroke-width="1.3" stroke-linecap="round" stroke-linejoin="round" />
<polyline points="839,292 837,250 836.5,192 844,176.7 857,164 862,141" fill="none" stroke="#f0607e" stroke-width="1.2" stroke-linecap="round" stroke-linejoin="round" />
<polyline points="975,77 994,70 1008,72 1020,80 1052,96 1068,101" fill="none" stroke="#b9b9b9" stroke-width="1.2" stroke-linecap="round" stroke-linejoin="round" stroke-dasharray="4 2.5"/>
<polyline points="1113,105 1142,89 1149,107 1178,146 1183,165 1222,164 1234,174" fill="none" stroke="#b9b9b9" stroke-width="1.2" stroke-linecap="round" stroke-linejoin="round" stroke-dasharray="4 2.5"/>
<polyline points="425,390 436,372 440,352 436,330 432,318" fill="none" stroke="#bbb" stroke-width="1" stroke-linecap="round" stroke-linejoin="round" stroke-dasharray="4 2.5"/>
<polyline points="565,186 585,172 610,152 640,132" fill="none" stroke="#caa9a0" stroke-width="1" stroke-linecap="round" stroke-linejoin="round" stroke-dasharray="4 2.5"/>
<polyline points="884,220 900,218 920,214 940,206" fill="none" stroke="#a88" stroke-width="1" stroke-linecap="round" stroke-linejoin="round" stroke-dasharray="4 2.5"/>
<rect x="630" y="132.8" width="21" height="7.500" rx="1" fill="#f4786a"/><text x="640.5" y="139.0" font-size="6.200" fill="#fff" text-anchor="middle">G228</text>
<rect x="668" y="118.5" width="17" height="7.500" rx="1" fill="#8fb59a"/><text x="676.5" y="124.7" font-size="6.200" fill="#fff" text-anchor="middle">G15</text>
<rect x="482.5" y="244.3" width="17" height="7.500" rx="1" fill="#8fb59a"/><text x="491.0" y="250.5" font-size="6.200" fill="#fff" text-anchor="middle">G15</text>
<rect x="485" y="436" width="21" height="7.500" rx="1" fill="#f4786a"/><text x="495.5" y="442.2" font-size="6.200" fill="#fff" text-anchor="middle">G201</text>
<rect x="583" y="442" width="21" height="7.500" rx="1" fill="#f4786a"/><text x="593.5" y="448.2" font-size="6.200" fill="#fff" text-anchor="middle">G228</text>
<rect x="641" y="192" width="21" height="7.500" rx="1" fill="#f4786a"/><text x="651.5" y="198.2" font-size="6.200" fill="#fff" text-anchor="middle">G201</text>
<rect x="651" y="415.5" width="21" height="7.500" rx="1" fill="#f4786a"/><text x="661.5" y="421.7" font-size="6.200" fill="#fff" text-anchor="middle">G201</text>
<rect x="668" y="117" width="17" height="1.800" fill="#e8554a"/><rect x="482.500" y="242.800" width="17" height="1.800" fill="#e8554a"/>
<polygon id="ovp" points="425,207 438,206 480.3,164.6 529.4,147.8 578.5,112.1 635.5,122.1 689,105.4 700,97 770.4,48 908.8,48 933.4,53 935.6,95.4 931,117.7 930,137.8 940.5,174 943.4,184 947.9,196.3 913.3,264.4 960,284.5 1006.2,304 1012.3,329.5 1007.2,352.5 1003,355 1008.5,365.2 993.2,374.2 985.5,395.9 975.3,406 960,409 914.6,416.3 868.7,416.3 863.6,407.4 821.4,388.2 817.6,399.7 766.6,427.8 742.3,459 653.5,459 629.3,416.3 510.6,310.4 499.3,284 474.7,284 453.5,256.6 425,260" fill="#f5827a" fill-opacity=".42"/>
<polygon points="852.5,285.5 856,288 865.3,284.7 870,278.3 878,275 887.6,278.3 884.4,281.5 874.8,286.3 863.7,291 853.3,291.8" fill="#e58f86" fill-opacity=".75" stroke="#c88078" stroke-width=".6"/>
<polygon points="873.8,398.4 881.4,394.6 895.5,399.7 895.5,404.8 884,408.1 868.7,407.4" fill="#ee8f88" fill-opacity=".8"/>
<polyline points="425,207 438,206" stroke="#3c3c3c" stroke-width="1.300" fill="none" stroke-linejoin="round"/>
<polyline points="480.3,164.6 529.4,147.8 578.5,112.1 635.5,122.1 689,105.4 700,97 770.4,48.5 908.8,48.5 933.4,53 935.6,95.4 931,117.7 930,137.8 940.5,174 943.4,184 947.9,196.3 914.7,263.9 900.4,284.7 894,295.8 872.4,304.6 878,310.2 878.8,323 882.8,326 877.6,332 884,344.8 891.6,364 889,367.8 886.5,388.2 873.8,398.4 866.1,411.2 868.7,416.3 914.6,416.3 960,409 975.3,406 985.5,395.9 993.2,374.2 1008.5,365.2 1003,355 1007.2,352.5 1012.3,329.5 1006.2,304 960,284.5 914.7,263.9" stroke="#3c3c3c" stroke-width="1.300" fill="none" stroke-linejoin="round"/>
<polyline points="821.4,388.2 863.6,407.4 866.1,411.2" stroke="#3c3c3c" stroke-width="1.300" fill="none" stroke-linejoin="round"/>
<polyline points="425,260 453.5,256.6 474.7,284 499.3,284 511,310.6 609.8,271.6 625.4,267.8 650,275.6 675.6,266.7 690,270 734.7,275.6 754.7,281.2 757,287.9 774.8,286.7 789.5,281 802.3,289.4 812.6,291.8 862,291.8 874.8,286.3 887.6,280.7 900.4,284.7" stroke="#3c3c3c" stroke-width="1.300" fill="none" stroke-linejoin="round"/>
<polyline points="690,104.8 701,108.7 712.3,127.7 725.7,126.6 763.7,149 788,155.6 795,162.3 788.2,174 783.8,191.9 782.7,252 783.9,256 789.5,270.3 789.5,281" stroke="#3c3c3c" stroke-width="1.300" fill="none" stroke-linejoin="round"/>
<polyline points="812.6,292.6 804.7,299 803,308.6 806.3,324.5 819,335.7 822.7,342.3 827.8,362.7 821.4,388.2" stroke="#3c3c3c" stroke-width="1.300" fill="none" stroke-linejoin="round"/>
<polyline points="511,310.6 629.3,416.3 653.5,459" stroke="#3c3c3c" stroke-width="1.300" fill="none" stroke-linejoin="round" stroke-dasharray="4 1.500 1.200 1.500"/>
<polyline points="821.4,388.2 817.6,399.7 766.6,427.8 742.3,459" stroke="#3c3c3c" stroke-width="1.300" fill="none" stroke-linejoin="round" stroke-dasharray="4 1.500 1.200 1.500"/>
<path d="M467 245.7 L472.2 238.2 L478 232 L483.5 227 L488.5 223.2 L493.6 219.2 L496.6 214.1 L500.4 208.9 L505 204 L510.1 197.6 L516.7 192.7 L523.2 190 L529.3 185.6 L536.6 182.8 L543.3 182.7 L549.7 180.7 L556 180 L563.7 178.5 L570.2 178.2 L576.4 177.8 L582.6 177.7 L590 179 L596.1 181.5 L602.9 182.8 L609.5 186 L606.4 194.5 L604.5 202.7 L607.3 210.6 L609.5 219 L616.2 220 L622.7 222.6 L628.5 220.9 L636.3 220.2 L642.6 219.2 M576.4 177.8 L579.4 174.1 L583 170 L591.4 168.6 L600 168 L606.5 170.4 L612 172 L619.5 174.1 L628 176 M655.9 189.4 L662.6 192.3 L669.6 193.4 L675.8 196 L681.1 199.7 L684.5 205.3 L689 209.3 L695 211.8 L701.4 214.6 L709.4 216.9 L715.5 219.2 L724.3 220.1 L732.2 221.9 L740 223 L747.7 224.4 L755.2 225.9 L762.4 228.9 L768.4 230.6 L775 232.5 M705.5 176.2 L712 180 L716.3 176.8 L722.1 172.9 L723.3 179.3 L724 184 L722 188 L718.8 192.7 L717.2 199.2 L716 205 L714.9 212 L715.5 219.2 M718.8 192.7 L720.8 183.7 L724 176 L726.2 168.5 L730 160 L732 152.7 L735.4 146.4 L740 144.9 L745 142 L749.3 142.4 L755.2 143 L758.7 147.2 L762 150 L768.5 153 L775.7 154.5 L781.7 154.7 M689 209.3 L694.1 205.5 L700 202 L706 196 L705.6 190.1 L706.5 182.2 L705.5 176.2 M620 226 L623.4 229.5 L628 234 L633.5 233 L640 232 L646.2 229.6 L652 228 L658.1 230.9 L666 234 M548 312 L551.8 308.1 L556 304 L563.8 302.3 L570 300 L576.7 298.9 L583.7 296.5 L590 296 L598.7 293.5 L606 290 L609.7 285.5 L612 280 L611 272 M660 318 L661.8 309.8 L664 302 L667.3 296.2 L672 290 L674.2 284.2 L678 280 L680 272 M680 272 L684.5 274.4 L690 278 L696.7 279.2 L704 282 L711.1 282.4 L720 284 M706 300 L710.3 305.8 L716 312 L719.1 317.7 L724 322 L730 318 L734.2 311.4 L738 306 L744.6 301.7 L752 298 L758.8 294.3 L766 292 M738 306 L740.6 313.9 L742 320 L738.9 328 L736 336 L736.3 342.3 L738 350 M664 330 L667.7 334.6 L672 340 L678.6 343.4 L683.1 348.8 L690 352 L695.1 354.4 L700 358 L704.1 361.8 L708.1 368.2 L712 372 L716.7 377.7 L719.6 382.4 L724 388 L727.4 393.8 L732.1 399.2 L736 404 M700 358 L707.2 354.5 L715 352 L722.6 353.5 L729.6 353.9 L736 354 L744.6 351.4 L752 348 L758.5 345 L766 342 L773.7 338.2 L782 336 L787.2 333.6 L793.6 332.3 L800 330 M736 404 L732.8 411.9 L728 420 L724.8 426.2 L720.8 430.4 L716 436 L710.5 440.5 L706 446 L701.5 451.5 L698 458 M736 404 L739.2 400.7 L742 396 L745.6 392 L748 388 L750 380 M668 420 L676.3 422.5 L684 424 L691.3 428.3 L700 432 L704.7 437.5 L708 442 M700 432 L703.5 426 L706 420 L702.4 415.5 L700 410 M752 348 L753.7 355.5 L756 362 L762.8 363.8 L768 366 L772.8 369.8 L778 372 L786 368 M740 372 L744.4 375.4 L748 380 L753.3 380.4 L760 382 M766 342 L768.7 336.6 L770 330 L773.4 325.6 L778 320 L785.9 316.3 L792 312 L798.7 309.1 L806 306 M790 360 L794.3 355.1 L800 352 L806.8 349.3 L812 346 L816 341.8 L820 336 M800 352 L802.9 359.7 L806 366 L809.6 371.5 L812 378 L813.6 382.6 L816 388 M781.7 154.7 L785.4 147.5 L790 140 L793.6 133.9 L798 128 L801.3 123.7 L806 118 L810.2 112.9 L815 108 L820.7 104.7 L826 100 M798 128 L804.9 129.8 L812 130 L819 128.1 L826 126 L832 128.1 L838 132 L843.9 129.4 L850 128 M783 191 L790.6 189 L800 186 L805.4 184 L812.4 182.1 L818 180 L824.7 178 L832 176 L839.1 174.5 L846 172 L852.3 171.1 L860 170 L867.5 170.6 L876 172 L884.5 171 L892 170 L897.6 171.5 L903 172 M900 172 L902.2 178.4 L903 185 M826 182 L831.2 179 L836 176 L841 170.3 L846 164 L850.9 157.1 L856 150 L861 144.8 L866 138 L873.4 133.7 L880 128 L888.3 124.6 L895 122 L902.6 120.8 L910 118 L918.1 114.3 L925 112 L930.8 108.9 L938 106 M846 172 L846.2 165.5 L848 160 L851.2 155.3 L856 150 M820 110 L828.5 111.7 L836 112 L842.4 115.4 L850 118 L855.3 121.4 L860 126 L863.7 132.8 L866 138 M838 196 L844.5 194.8 L852 192 L859.8 194 L868 196 L876.9 197.6 L884 198 L891.4 199.9 L900 202 M852 192 L854 197.7 L856 204 L852.5 208.7 L850 214 L844.4 216.1 L838 220 M868 196 L869.1 202.9 L870 210 L867.1 214.7 L866 220 M884 198 L885.2 203 L886 208 M838 220 L844.2 219.9 L852 218 L859.5 219.8 L866 220 L872.3 220.6 L880 222 M850 232 L852.2 236.5 L856 240 M838 220 L833.6 225.3 L830 232 L827.9 238.7 L826 244 M870 226 L868.6 231.6 L866 238 L861.4 242.8 L858 246 M880 132 L882.1 126.4 L884 120 L887.3 114.2 L892 110 L896.3 106.9 L900 104 L905.2 101.8 L912 98 M912 98 L918.2 97.5 L924 96 L928.3 94.6 L934 92 M905 140 L907.7 135.7 L912 130 L918.4 126.7 L925 124 L931.6 121.8 L938 118 L943.6 114.3 L950 112 L957.5 107.5 L965 104 L971.8 100.4 L980 98 M900 292 L906.7 293.5 L915 296 L922.2 294.6 L930 294 L938 296.6 L945 300 L952.5 298.4 L960 298 L967.2 300.1 L975 304 L982.1 306.1 L990 310 M915 296 L916.9 302.1 L918 308 L914.4 314 L912 320 L916.8 325.3 L920 332 M945 300 L947.1 306.9 L948 314 L952 318.6 L956 322 L961.8 324 L968 326 M930 294 L932.3 289.9 L934 284 M960 298 L961.7 304.6 L964 310 L969.4 314.2 L974 318 L980.8 316.7 L988 316 M892 330 L897.2 332.3 L904 336 L909.2 340.4 L916 344 L921.6 346.4 L928 350 L933.3 355.6 L940 360 L944.7 366.3 L948 372 L946.6 377.5 L946 384 M916 344 L917.6 349.9 L920 356 L916.4 360.9 L914 366 M940 360 L945.6 359.8 L952 358 L957.9 361.1 L962 364 M884 344.8 L889.5 348.2 L896 350 L900.7 354.7 L906 360 L907.1 365.8 L910 372 M974 322 L980 316 L988 320 M992 334 L1000 330 L1004 336 L998 342 M478 232 L474 229 L470 226 L462 228 M505 204 L508 207 L512 210 L510.1 214.6 L510 220 M609.5 219 L604 220.3 L600 222 L597.2 226.1 L596 232 M757 287.9 L759.1 293.5 L762 300 L766.2 305.1 L770 310 L776.5 314.3 L782 318 L787.4 322.7 L792 326 M690 270 L694 262 L700 256 L706 250" fill="none" stroke="#3d22d4" stroke-width=".75" stroke-linejoin="round"/>
<path d="M705.5 176.2 L712.2 178.6 L719.7 181 L726 184 L732.6 186.8 L738.1 189.7 L745 192 L750.5 195.5 L755.3 199 L760 202 L764.6 206 L770 210.4 L775 214" fill="none" stroke="#30208f" stroke-width="1.100"/>
<g clip-path="url(#ovc)"><path d="M837.5 256.7 L837.1 260.1 L837.0 263.6 L837.5 267.1 L838.5 270.5 L839.6 273.8 L841.2 276.9 L842.4 280.2 L843.5 283.5 L844.5 286.9 L845.3 290.3 L845.9 293.7 M843.5 283.5 L847.0 283.2 L850.5 283.0 L853.9 282.4 M844.5 286.9 L847.8 285.8 L851.1 284.7 L854.4 283.5 M847.8 285.8 L847.1 282.4 M845.3 290.3 L841.9 289.4 L838.7 288.0 L835.3 287.1 M841.9 289.4 L844.4 286.9 M842.8 233.0 L843.9 236.3 L845.6 239.4 L847.3 242.5 L849.1 245.5 L851.1 248.3 L853.4 251.0 L855.9 253.4 M843.9 236.3 L847.3 235.7 L850.7 234.7 L854.2 234.3 M849.1 245.5 L845.8 246.7 L842.5 247.7 L839.3 249.2 L836.0 250.4 L832.8 251.7 L829.4 252.6 M839.3 249.2 L840.1 252.6 L841.1 255.9 M853.4 251.0 L851.2 253.7 L849.4 256.7 L847.9 259.8 M800.1 272.0 L800.7 268.6 L800.9 265.1 L800.8 261.6 L800.2 258.1 L799.3 254.7 L798.2 251.4 L797.1 248.1 L796.4 244.7 L796.1 241.2 L795.7 237.7 L795.2 234.3 L794.6 230.8 L794.0 227.4 L793.1 224.0 L791.8 220.7 L790.1 217.6 L789.0 214.3 M800.7 268.6 L797.4 267.7 L794.0 266.6 L790.7 265.6 L787.3 264.8 L784.0 263.6 M794.0 266.6 L795.3 263.3 L796.8 260.1 L797.6 256.7 L798.3 253.3 M799.3 254.7 L796.0 255.6 L792.5 256.1 L789.0 256.3 L785.5 256.1 L782.1 255.4 M792.5 256.1 L791.9 259.6 L791.6 263.0 L791.7 266.5 L792.2 270.0 M798.2 251.4 L794.8 252.4 L791.6 253.7 L788.2 254.7 L785.0 256.2 L781.9 257.7 M796.1 241.2 L799.5 240.5 L803.0 239.8 L806.5 239.4 M794.6 230.8 L791.3 231.9 L788.1 233.2 L785.1 235.0 L782.3 237.1 M788.1 233.2 L787.5 229.8 L786.5 226.4 M785.1 235.0 L782.5 232.7 L780.2 230.0 M793.1 224.0 L790.7 226.5 M831.4 133.3 L832.0 136.8 L833.1 140.1 L834.6 143.3 L836.5 146.3 L838.1 149.3 L839.8 152.4 L841.5 155.5 L843.3 158.4 L845.0 161.5 L846.2 164.8 L846.9 168.2 L847.6 171.7 L848.8 175.0 L850.5 178.0 L852.6 180.8 L854.9 183.5 M836.5 146.3 L833.8 148.6 L831.3 151.0 L828.7 153.3 L826.0 155.6 M845.0 161.5 L848.0 159.7 L850.8 157.6 L853.9 156.1 M846.9 168.2 L850.4 168.5 L853.8 169.4 M845.4 133.1 L844.4 136.5 L843.3 139.8 L842.4 143.2 L841.8 146.6 L841.3 150.1 L840.4 153.5 L840.1 157.0 L840.2 160.5 L839.9 164.0 L840.0 167.5 L840.6 170.9 L841.8 174.2 L842.9 177.5 L844.2 180.8 L844.9 184.2 L845.2 187.7 L844.8 191.2 L844.8 194.7 L845.2 198.1 L846.2 201.5 L847.2 204.9 L847.9 208.3 L848.7 211.7 L849.7 215.0 L850.9 218.3 L852.0 221.7 L852.8 225.1 L853.4 228.5 L853.5 232.0 L853.4 235.5 M844.4 136.5 L841.0 136.0 L837.5 135.3 L834.1 134.9 L830.6 134.9 M837.5 135.3 L836.2 138.5 L834.8 141.7 M834.1 134.9 L834.8 138.4 L835.5 141.8 L835.8 145.3 L835.7 148.8 M842.4 143.2 L839.0 143.0 M841.3 150.1 L844.6 151.2 L848.0 152.0 L851.3 153.2 L854.4 154.8 M851.3 153.2 L849.5 156.1 M840.4 153.5 L843.9 153.1 L847.4 152.6 L850.9 152.2 L854.2 151.3 M839.9 164.0 L843.4 163.4 L846.9 163.4 L850.4 163.6 M846.9 163.4 L846.6 166.9 M845.2 187.7 L848.7 187.9 L852.2 188.1 L855.7 187.9 M848.7 187.9 L848.1 184.5 L847.7 181.0 L847.2 177.5 L846.6 174.1 M852.2 188.1 L853.7 191.3 M848.7 211.7 L845.4 213.1 L842.4 214.9 L839.3 216.5 L836.1 217.9 M852.0 221.7 L848.9 223.3 L845.8 224.9 M852.8 225.1 L855.9 223.3 M815.2 261.0 L814.9 264.5 L814.8 268.0 L814.8 271.5 L814.8 275.0 L815.3 278.5 L816.3 281.8 L816.8 285.3 L817.3 288.7 L817.8 292.2 L818.2 295.7 M814.9 264.5 L818.1 265.9 L821.3 267.3 L824.7 268.2 L828.1 269.0 L831.5 269.8 M821.3 267.3 L821.6 263.8 L821.6 260.3 L822.1 256.8 L822.6 253.4 M814.8 268.0 L818.0 269.2 L821.4 270.1 L824.7 271.4 M814.8 271.5 L811.4 272.2 L808.0 273.1 M811.4 272.2 L812.3 275.6 L813.5 278.9 L814.7 282.1 M816.8 285.3 L813.3 284.8 L809.9 284.2 L806.6 283.0 M809.8 170.1 L809.0 166.7 L807.9 163.4 L806.9 160.1 L806.5 156.6 L805.8 153.2 L805.1 149.7 L804.2 146.3 L803.9 142.8 L804.1 139.3 L804.8 135.9 L806.0 132.6 L807.4 129.4 L809.1 126.4 L810.5 123.2 L811.7 119.9 L813.0 116.6 L814.2 113.3 L815.3 110.0 L815.8 106.5 L816.3 103.1 M807.9 163.4 L804.4 163.8 L800.9 164.3 L797.5 165.2 M806.9 160.1 L810.3 159.2 M805.1 149.7 L802.0 151.4 L799.1 153.3 L796.6 155.7 L793.9 157.9 L791.2 160.1 M804.8 135.9 L801.4 135.0 L798.1 133.8 M801.4 135.0 L799.3 137.8 L797.2 140.6 M809.1 126.4 L812.5 127.4 L815.7 128.8 L818.9 130.1 L822.2 131.4 M810.5 123.2 L814.0 123.3 L817.5 123.6 L821.0 123.5 L824.5 123.8 L827.9 124.7 L831.1 126.0 M817.5 123.6 L816.8 127.0 L816.3 130.5 L815.3 133.9 L813.8 137.0 M821.0 123.5 L822.5 120.3 L823.6 117.0 L824.3 113.6 L825.6 110.3 M824.5 123.8 L823.6 127.2 L822.5 130.5 M840.9 181.9 L840.8 185.4 L840.5 188.9 L840.8 192.4 L840.5 195.9 L840.7 199.4 L841.5 202.8 L842.8 206.1 L843.5 209.5 L844.5 212.9 L845.8 216.1 L847.7 219.1 L850.0 221.6 L852.2 224.4 L854.2 227.3 M840.8 192.4 L837.5 193.5 L834.4 195.2 M844.5 212.9 L847.3 210.8 L850.0 208.6 L852.5 206.2 L854.9 203.6 M850.0 208.6 L851.7 211.7 L853.4 214.7 L855.4 217.6 M845.8 216.1 L849.0 214.6 L852.0 212.8 L855.2 211.4 M852.0 212.8 L850.9 209.5 L849.3 206.4 M850.0 221.6 L852.6 219.2 L855.1 216.8 M800.8 129.8 L799.3 133.0 L797.8 136.1 L796.7 139.5 L795.8 142.8 L795.4 146.3 L794.5 149.7 L793.1 152.9 L791.4 156.0 L789.8 159.1 L788.1 162.2 L786.5 165.3 L785.1 168.5 L783.8 171.7 L782.5 175.0 L781.6 178.3 L780.0 181.5 M789.8 159.1 L786.6 157.8 L783.2 156.9 M786.6 157.8 L786.4 161.3 L786.5 164.8 L786.8 168.3 L786.6 171.8 M783.8 171.7 L787.0 173.3 L790.2 174.7 M781.6 178.3 L784.5 180.3 L787.7 181.7 L790.7 183.5 L793.7 185.2 L796.9 186.6 M790.7 183.5 L788.6 186.3 L786.1 188.7 M822.7 241.8 L823.0 238.3 L823.7 234.9 L824.6 231.5 L825.9 228.3 L827.5 225.1 L829.1 222.1 L830.8 219.0 L832.2 215.8 L833.8 212.6 L834.9 209.3 L835.9 206.0 L837.2 202.7 L838.8 199.6 L840.5 196.6 L842.0 193.4 L843.3 190.2 L844.6 186.9 L846.1 183.7 L847.4 180.5 L849.0 177.4 L851.0 174.5 L852.7 171.4 L854.5 168.4 M823.7 234.9 L820.4 233.9 L817.0 232.8 M833.8 212.6 L830.4 211.7 L827.2 210.2 L824.0 208.9 L820.6 208.1 L817.1 207.5 M827.2 210.2 L829.4 207.5 L831.7 204.8 L833.6 201.9 M842.0 193.4 L838.6 192.6 L835.2 191.8 L831.7 191.3 L828.4 190.2 M849.0 177.4 L852.2 178.8 L855.4 180.1 M852.2 178.8 L851.5 182.2 L850.8 185.6 L849.9 189.0 M851.0 174.5 L854.4 175.3 M846.3 199.9 L847.0 203.3 L848.2 206.6 L849.7 209.8 L851.0 213.0 L852.2 216.3 L853.0 219.7 L854.2 223.0 L855.4 226.3 M801.8 129.6 L805.3 129.9 L808.7 130.5 L812.2 131.1 L815.7 131.4 L819.1 131.7 L822.6 131.9 L826.0 132.7 M808.7 130.5 L807.8 133.9 M818.7 191.1 L815.4 189.7 L812.1 188.6 L809.0 187.1 L805.8 185.7 L802.5 184.3 L799.3 183.0 L796.3 181.3 L793.0 179.9 L789.8 178.6 L786.5 177.4 L783.2 176.1 M807.2 158.9 L810.7 159.2 L814.2 158.9 L817.7 158.9 L821.1 159.3 L824.6 159.9 L828.1 159.8 L831.6 159.5 L835.0 158.6 L838.2 157.4 L841.6 156.6 L845.1 156.0 M841.6 156.6 L841.9 160.1 L841.6 163.6 M813.0 117.3 L809.6 116.5 L806.1 116.0 L802.7 115.2 L799.4 113.9 L796.1 113.0 L792.6 112.7 L789.1 113.0 L785.6 113.3 L782.1 113.4 M796.1 113.0 L796.7 109.6 L796.9 106.1 L797.4 102.6 L798.0 99.2 L798.0 95.7 M813.3 99.8 L816.8 100.1 L820.3 100.0 L823.8 99.9 L827.3 99.4 L830.8 99.1 L834.2 98.6 L837.7 98.5 L841.2 98.9 L844.7 99.2 L848.2 99.8 L851.6 100.6 L855.0 100.9 M837.7 98.5 L839.4 95.4 M844.7 99.2 L844.0 102.6 L842.9 106.0 L841.7 109.2 M832.6 188.2 L836.1 188.4 L839.6 188.2 L843.1 188.4 L846.6 188.5 L850.0 189.0 L853.5 189.5 M827.7 252.0 L831.2 251.9 L834.6 251.4 L838.1 251.4 L841.6 251.4 L845.1 252.0 L848.6 252.3 L852.0 252.5 L855.5 252.5 M841.6 251.4 L843.2 248.3 L845.3 245.5 M845.1 252.0 L845.1 255.5 L844.7 259.0 M848.6 252.3 L849.1 248.9 M845.3 210.6 L841.8 211.2 L838.4 212.0 L835.2 213.4 L832.0 214.8 L828.8 216.2 L825.7 217.9 L822.5 219.3 L819.3 220.8 L816.2 222.3 L813.2 224.2 M841.8 211.2 L842.1 214.7 L842.2 218.2 L842.5 221.7 L842.8 225.2 M838.4 212.0 L840.1 215.1 L841.9 218.1 L843.7 221.1 M835.2 213.4 L833.9 210.1 L832.0 207.1 M832.0 214.8 L831.2 211.4 L830.1 208.1 M828.8 216.2 L828.1 212.8 L827.1 209.5 L825.6 206.3 L823.7 203.4 M825.7 217.9 L826.2 221.4 M778.5 241.4 L781.7 243.0 L784.9 244.3 L788.3 245.3 L791.8 245.7 M788.3 245.3 L787.1 248.6 L786.2 251.9 L785.2 255.3 L783.9 258.5 L783.0 261.9 L782.4 265.4 M699.1 219.6 L695.7 220.0 L692.2 219.9 M722.4 237.9 L718.9 237.6 L715.5 236.7 L712.0 236.3 L708.7 235.4 L705.2 234.9 L701.8 234.0 L698.5 232.9 L695.1 232.1 M715.5 236.7 L715.0 233.3 L714.5 229.8 L714.0 226.3 L713.5 222.9 L713.3 219.4 L713.6 215.9 M714.0 226.3 L717.1 224.7 L720.0 222.7 L723.1 221.1 L726.3 219.6 M713.3 219.4 L709.8 219.4 L706.3 219.9 L702.9 220.8 L699.5 221.5 L696.0 222.0 M705.2 234.9 L706.7 231.8 L708.1 228.6 L709.2 225.2 L710.5 222.0 L712.3 219.0 L713.6 215.7 L714.8 212.4 L716.3 209.3 M713.6 215.7 L716.9 216.8 L720.0 218.5 L722.8 220.6 L725.9 222.2 L729.0 223.7 L732.3 224.9 M776.1 198.4 L774.4 195.4 L772.5 192.4 L770.2 189.8 L768.2 186.9 L765.8 184.4 L763.3 182.0 L760.3 180.1 L757.5 178.0 L754.5 176.3 L751.3 174.8 L748.2 173.2 L745.3 171.2 M774.4 195.4 L771.1 196.6 L767.8 197.8 L764.6 199.3 L761.5 200.8 L758.4 202.6 L755.7 204.7 L753.2 207.2 M758.4 202.6 L760.3 205.6 L761.7 208.7 M782.7 228.5 L779.3 228.0 L775.9 226.9 L772.8 225.4 L769.8 223.5 L767.2 221.3 L764.8 218.7 L762.0 216.6 L759.2 214.4 L756.9 211.8 L755.0 208.9 L752.8 206.1 L750.5 203.5 L748.4 200.7 L746.1 198.0 L743.9 195.3 L741.3 193.0 M772.8 225.4 L770.2 227.8 L767.6 230.2 L765.5 233.0 L763.0 235.4 L760.0 237.3 M770.2 227.8 L768.6 224.7 L767.3 221.4 L765.5 218.4 L763.3 215.7 L760.7 213.3 M767.6 230.2 L770.9 231.3 L774.2 232.6 L777.6 233.5 M756.9 211.8 L754.4 214.2 L752.0 216.9 L749.5 219.3 L746.8 221.5 L744.2 223.8 L741.7 226.3 L739.0 228.5 L736.6 231.0 M755.0 208.9 L757.1 206.1 L759.4 203.5 L761.1 200.4 L762.7 197.3 L764.7 194.4 M743.9 195.3 L746.0 192.5 L747.9 189.6 L750.2 186.9 M746.0 192.5 L742.9 190.8 L739.7 189.3 L736.7 187.6 L733.4 186.2 L730.1 185.3 M722.9 237.8 L726.4 237.9 L729.9 237.6 L733.4 237.5 L736.9 237.6 L740.4 238.0 L743.9 238.2 L747.4 237.9 L750.8 237.5 L754.3 237.2 L757.7 236.4 L761.1 235.5 L764.6 235.2 L768.0 234.4 L771.5 234.1 L775.0 233.5 L778.4 233.1 L781.8 232.2 L785.3 231.7 L788.8 231.4 L792.2 230.9 M729.9 237.6 L730.3 241.1 L730.2 244.6 L730.3 248.1 L730.5 251.6 M757.7 236.4 L758.1 239.9 L758.1 243.4 L758.0 246.9 L757.3 250.3 L756.6 253.8 M778.4 233.1 L778.9 236.6 L779.8 239.9 L781.0 243.2 L782.4 246.4 L783.8 249.6 L785.0 252.9 M783.8 249.6 L780.6 250.8 L777.3 252.0 L774.2 253.6 L770.9 254.8 L767.5 255.7 L764.0 256.3 M712.1 155.5 L715.4 156.5 L718.7 157.7 L721.9 159.0 L725.3 160.2 L728.3 161.9 L731.3 163.8 L734.5 165.1 L737.8 166.3 L740.9 167.9 L744.1 169.3 L747.3 170.8 L750.6 171.8 L754.0 172.6 L757.3 173.8 M750.6 171.8 L750.8 168.3 L750.5 164.9 L750.7 161.4 L750.9 157.9 L751.1 154.4 M711.0 147.7 L707.5 147.0 L704.3 145.7 L700.9 144.9 L697.4 144.6 L693.9 144.0 M697.4 144.6 L698.1 141.1 L698.7 137.7 L699.5 134.3 L699.8 130.8 L700.5 127.4 L700.7 123.9 M699.5 134.3 L703.0 134.1 L706.5 134.3 L710.0 134.3 M736.0 248.9 L732.8 247.5 L729.6 246.2 L726.3 245.1 L722.8 244.6 L719.4 243.7 L716.0 243.1 L712.5 243.0 L709.0 243.3 L705.5 243.5 L702.0 243.4 L698.5 243.2 L695.0 243.0 M746.1 172.6 L743.0 171.0 L739.7 169.9 L736.6 168.3 L733.6 166.5 L730.8 164.4 L727.6 162.9 L724.6 161.0 L721.4 159.6 L718.1 158.8 L714.7 157.7 L711.5 156.3 L708.4 154.7 L705.2 153.3 L701.8 152.4 L698.6 150.9 L695.2 150.0 L692.0 148.6 M695.2 150.0 L695.9 146.6 L696.7 143.2 L697.2 139.7 L697.1 136.2 L697.6 132.7 L698.3 129.3 L699.3 126.0 M695.9 146.6 L692.5 145.6 M796.6 306.2 L794.8 311.5 M793.5 316.7 L799.0 318.9 M793.5 316.7 L792.0 322.5 M792.0 322.5 L796.7 323.6 M803.1 302.4 L808.4 304.1 M801.9 308.3 L806.9 308.6 M800.2 313.5 L805.3 314.4 M796.7 323.6 L802.4 324.8 M808.4 304.1 L806.9 308.6 M806.9 308.6 L813.0 310.9 M805.3 314.4 L803.2 320.2 M803.2 320.2 L810.5 321.1 M801.9 329.8 L806.4 331.4 M801.9 329.8 L800.8 336.1 M800.8 336.1 L805.9 337.8 M815.3 298.8 L821.4 301.6 M814.3 304.5 L819.2 307.1 M813.0 310.9 L818.2 312.8 M813.0 310.9 L810.8 315.6 M810.5 321.1 L815.7 323.1 M810.5 321.1 L807.9 326.5 M807.9 326.5 L813.5 327.8 M807.9 326.5 L806.4 331.4 M806.4 331.4 L812.5 334.3 M806.4 331.4 L805.9 337.8 M821.4 301.6 L819.2 307.1 M819.2 307.1 L825.3 308.1 M818.2 312.8 L824.0 312.5 M818.2 312.8 L816.0 316.5 M816.0 316.5 L821.4 318.8 M816.0 316.5 L815.7 323.1 M813.5 327.8 L818.3 328.9 M813.5 327.8 L812.5 334.3 M811.1 338.3 L816.1 340.5 M825.3 308.1 L830.4 309.6 M824.0 312.5 L821.4 318.8 M821.4 318.8 L827.5 319.9 M821.4 318.8 L819.7 323.5 M819.7 323.5 L818.3 328.9 M818.3 328.9 L824.0 330.9 M818.3 328.9 L818.5 334.2 M818.5 334.2 L822.2 336.7 M816.1 340.5 L822.6 341.4 M834.8 292.6 L840.3 295.3 M833.1 299.0 L838.9 299.7 M833.1 299.0 L831.8 303.0 M831.8 303.0 L830.4 309.6 M830.4 309.6 L836.4 310.7 M830.4 309.6 L828.8 315.1 M828.8 315.1 L834.3 316.8 M828.8 315.1 L827.5 319.9 M827.5 319.9 L832.1 320.5 M827.5 319.9 L826.0 325.1 M824.0 330.9 L829.7 332.0 M824.0 330.9 L822.2 336.7 M822.2 336.7 L828.4 337.3 M822.6 341.4 L827.6 343.4 M840.3 295.3 L838.9 299.7 M838.9 299.7 L836.6 305.0 M836.6 305.0 L842.9 306.8 M836.4 310.7 L840.9 312.0 M836.4 310.7 L834.3 316.8 M834.3 316.8 L832.1 320.5 M832.1 320.5 L838.0 322.6 M832.1 320.5 L831.8 326.6 M831.8 326.6 L837.4 328.7 M829.7 332.0 L834.7 333.9 M828.4 337.3 L827.6 343.4 M827.6 343.4 L832.5 344.8 M846.0 291.1 L851.9 291.0 M844.8 295.4 L851.1 298.3 M844.0 301.1 L849.0 302.4 M844.0 301.1 L842.9 306.8 M840.9 312.0 L839.8 317.9 M839.8 317.9 L838.0 322.6 M838.0 322.6 L844.1 324.1 M837.4 328.7 L842.0 329.9 M834.7 333.9 L840.6 334.6 M851.9 291.0 L858.3 293.3 M851.1 298.3 L849.0 302.4 M849.0 302.4 L847.1 307.9 M846.1 313.2 L852.3 315.5 M846.1 313.2 L844.6 319.8 M844.6 319.8 L851.0 321.1 M842.0 329.9 L848.2 331.2 M842.0 329.9 L840.6 334.6 M840.6 334.6 L839.5 341.4 M839.5 341.4 L845.7 341.6 M839.5 341.4 L838.1 346.9 M838.1 346.9 L843.7 347.4 M855.2 299.4 L861.8 299.4 M855.2 299.4 L854.3 304.4 M854.1 309.0 L858.9 311.3 M852.3 315.5 L857.2 317.0 M851.0 321.1 L855.4 321.9 M851.0 321.1 L848.4 326.3 M848.4 326.3 L853.6 326.6 M848.4 326.3 L848.2 331.2 M846.2 336.8 L845.7 341.6 M845.7 341.6 L849.7 343.0 M845.7 341.6 L843.7 347.4 M863.6 294.4 L868.1 297.0 M861.8 299.4 L859.5 305.5 M859.5 305.5 L864.8 307.0 M858.9 311.3 L864.8 313.0 M857.2 317.0 L855.4 321.9 M855.4 321.9 L853.6 326.6 M853.6 326.6 L859.8 328.0 M853.6 326.6 L853.2 332.4 M853.2 332.4 L851.4 338.9 M851.4 338.9 L856.6 338.9 M868.1 297.0 L873.6 297.9 M867.1 302.2 L872.1 302.8 M867.1 302.2 L864.8 307.0 M864.8 313.0 L869.3 313.4 M864.8 313.0 L862.3 318.7 M862.3 318.7 L867.9 319.2 M860.9 322.4 L859.8 328.0 M859.8 328.0 L864.7 329.5 M859.8 328.0 L859.0 333.4 M859.0 333.4 L856.6 338.9 M873.6 297.9 L878.8 298.5 M873.6 297.9 L872.1 302.8 M869.3 313.4 L874.2 315.7 M867.9 319.2 L866.8 324.4 M863.8 336.4 L868.5 337.5 M878.8 298.5 L884.1 300.7 M878.8 298.5 L878.1 305.1 M878.1 305.1 L883.5 305.3 M874.2 315.7 L880.7 317.6 M874.2 315.7 L873.9 320.9 M873.9 320.9 L872.1 325.7 M870.1 330.6 L876.1 333.5 M868.5 337.5 L874.1 338.3 M868.5 337.5 L868.1 342.4 M884.1 300.7 L890.6 301.9 M884.1 300.7 L883.5 305.3 M882.0 310.6 L880.7 317.6 M880.7 317.6 L886.4 318.1 M880.7 317.6 L879.8 321.9 M879.8 321.9 L884.1 322.9 M879.8 321.9 L877.2 327.2 M877.2 327.2 L882.6 328.4 M877.2 327.2 L876.1 333.5 M890.6 301.9 L889.1 306.8 M889.1 306.8 L893.5 308.2 M889.1 306.8 L886.3 312.9 M886.3 312.9 L886.4 318.1 M886.4 318.1 L891.0 318.9 M884.1 322.9 L890.1 325.4 M882.6 328.4 L887.8 330.1 M882.6 328.4 L881.0 334.5 M881.0 334.5 L879.8 339.4 M893.5 308.2 L898.9 310.0 M893.2 313.8 L891.0 318.9 M890.1 325.4 L887.8 330.1 M887.8 330.1 L887.5 336.6 M898.9 310.0 L898.1 316.5 M898.1 316.5 L896.5 321.6 M896.5 321.6 L895.2 326.9 M800.8 315.8 L807.6 318.7 M807.6 318.7 L816.8 320.6 M805.9 326.3 L813.7 329.2 M821.1 304.1 L828.3 306.7 M816.8 320.6 L824.0 322.7 M813.7 329.2 L822.7 331.2 M827.0 314.1 L834.6 317.0 M824.0 322.7 L833.3 324.5 M824.0 322.7 L822.7 331.2 M839.7 300.2 L847.5 302.3 M839.7 300.2 L836.7 308.4 M834.6 317.0 L833.3 324.5 M833.3 324.5 L840.9 327.7 M847.5 302.3 L855.6 304.4 M844.9 311.2 L842.9 318.5 M842.9 318.5 L851.0 321.1 M840.9 327.7 L849.4 330.0 M839.4 334.9 L846.9 336.8 M855.6 304.4 L863.6 307.1 M855.6 304.4 L853.4 313.1 M851.0 321.1 L849.4 330.0 M861.3 314.6 L869.1 317.0 M861.3 314.6 L859.2 323.3 M859.2 323.3 L867.1 326.0 M857.6 332.0 L865.1 332.9 M872.0 309.6 L869.1 317.0 M879.6 311.3 L877.1 319.2 M877.1 319.2 L875.9 328.1 M860.0 307.2 L856.6 306.1 L853.4 304.8 L850.1 303.5 L847.0 301.9 L844.0 300.1 L840.8 298.7 L837.5 297.8 L834.1 296.9 L830.7 295.9 L827.5 294.5 L824.1 293.7 L820.8 292.4 L817.6 291.0 L814.4 289.7 M853.4 304.8 L853.1 308.2 M850.1 303.5 L847.6 305.9 L845.5 308.7 L843.8 311.8 M840.8 298.7 L840.5 295.2 L840.5 291.7 M820.8 292.4 L819.4 295.6 L817.7 298.7 M845.1 301.8 L848.4 303.0 L851.6 304.4 L854.9 305.6 L858.0 307.1 L861.3 308.3 L864.5 309.9 L867.4 311.7 L870.6 313.2 L873.8 314.7 L877.1 315.8 L880.3 317.2 L883.3 319.0 M851.6 304.4 L852.2 300.9 L852.2 297.4 M858.0 307.1 L857.5 310.6 L857.0 314.0 M864.5 309.9 L867.0 307.4 L869.7 305.2 M873.8 314.7 L872.2 317.8 L871.1 321.1 L870.0 324.4 M865.6 328.5 L862.3 327.4 L859.1 325.9 L855.8 324.6 L852.5 323.6 L849.1 322.8 L845.6 322.4 L842.1 322.3 L838.6 322.1 L835.1 322.2 L831.7 322.9 L828.3 323.8 L824.8 324.4 L821.3 324.7 L817.8 324.5 L814.4 324.1 L810.9 323.7 L807.4 323.5 L803.9 323.9 M852.5 323.6 L851.0 326.8 L849.6 330.0 L848.0 333.1 M835.1 322.2 L833.1 319.3 L831.5 316.2 L830.5 312.9 M828.3 323.8 L828.0 327.3 M817.8 324.5 L818.9 321.1 L819.3 317.7 L820.3 314.3 M826.1 334.6 L822.7 333.7 L819.5 332.4 L816.3 330.9 L813.1 329.5 L810.1 327.7 L807.1 326.0 L804.1 324.2 L800.8 322.8 L797.9 321.0 L795.2 318.7 L792.7 316.2 L790.2 313.8 L787.4 311.7 M813.1 329.5 L811.7 332.7 L809.9 335.7 L808.1 338.7 M807.1 326.0 L809.8 323.8 L812.5 321.6 L815.2 319.3 M792.7 316.2 L791.5 319.5 L789.9 322.6 M889.1 341.5 L892.6 341.8 L896.1 341.9 L899.6 341.8 L903.1 341.6 M892.6 341.8 L891.7 345.2 M896.1 341.9 L894.9 345.2 M865.1 325.9 L868.6 326.0 L872.1 325.8 L875.6 326.0 L879.1 326.5 L882.4 327.5 L885.9 328.1 L889.3 328.6 L892.8 328.7 L896.3 328.3 L899.8 327.7 L903.1 326.6 M934.3 300.4 L937.5 301.9 L940.7 303.2 L943.8 304.9 L946.7 306.8 L949.8 308.4 L953.0 309.9 L956.2 311.2 L959.2 313.0 L962.1 315.0 L965.2 316.6 L968.1 318.6 L971.2 320.2 L974.3 321.8 L977.4 323.4 L980.4 325.2 L983.4 327.0 L986.7 328.3 L989.9 329.6 L993.0 331.2 L995.9 333.2 M949.8 308.4 L949.6 311.9 L949.6 315.4 L949.7 318.9 L949.3 322.4 M956.2 311.2 L958.3 308.3 L960.7 305.8 L962.8 303.0 M958.3 308.3 L955.6 306.0 L952.8 304.0 M960.7 305.8 L958.0 303.6 L955.0 301.8 L952.1 299.8 L949.4 297.5 M980.4 325.2 L981.2 321.8 L982.4 318.5 L983.6 315.3 L984.5 311.9 L985.8 308.6 M982.4 318.5 L978.9 318.7 L975.4 318.9 L971.9 319.0 M983.6 315.3 L986.4 317.4 M983.4 327.0 L983.9 323.5 L984.1 320.0 L983.9 316.5 M983.9 323.5 L987.3 324.1 L990.8 324.3 L994.2 325.0 M914.6 302.0 L911.4 300.6 L908.3 298.9 L905.5 296.9 L902.7 294.8 L899.8 292.7 L896.9 290.9 M974.5 319.0 L978.0 319.0 L981.5 319.2 L985.0 319.6 L988.3 320.6 L991.7 321.8 L995.1 322.5 L998.5 323.4 L1001.7 324.6 L1005.2 325.2 M985.0 319.6 L985.8 316.2 L986.2 312.7 L986.7 309.3 L986.7 305.8 M991.7 321.8 L990.9 325.2 L990.4 328.7 L990.1 332.1 L989.9 335.6 M870.7 325.0 L867.2 324.7 L863.7 324.9 L860.2 325.4 L856.9 326.5 L853.7 327.8 L850.3 328.9 L846.9 329.6 L843.4 329.9 M860.2 325.4 L859.3 322.0 L858.9 318.5 L858.8 315.0 M856.9 326.5 L857.7 329.9 M850.3 328.9 L848.9 325.6 L847.7 322.4 M996.8 314.2 L993.6 312.8 L990.7 310.8 L988.0 308.6 L985.1 306.7 L981.9 305.1 L978.6 304.0 L975.2 303.1 L972.0 301.8 L968.5 301.1 L965.1 300.4 L961.7 299.4 L958.3 299.0 L954.8 298.7 L951.3 298.1 L947.9 297.3 M965.1 300.4 L964.3 303.8 L963.5 307.2 M954.7 303.9 L958.1 304.8 L961.4 305.7 L964.6 307.3 L967.9 308.4 L971.0 310.0 L974.3 311.2 L977.3 313.0 L980.5 314.4 L983.6 316.1 L986.6 317.9 L989.9 319.1 L993.1 320.4 L996.4 321.5 L999.7 322.7 L1002.9 324.1 M980.5 314.4 L978.0 316.9 L975.5 319.4 L973.1 321.9 L970.3 324.0 M978.0 316.9 L980.1 319.7 L981.9 322.8 M993.1 320.4 L991.9 323.7 L991.1 327.1 M996.4 321.5 L994.6 324.4 L992.9 327.5 L991.2 330.5 L989.6 333.7 M999.7 322.7 L1000.6 319.4 L1002.0 316.1 M990.4 310.8 L993.2 312.8 L996.1 314.9 L999.2 316.4 L1002.6 317.4 L1005.8 318.7 M871.3 334.1 L874.8 334.2 L878.3 333.8 L881.7 333.0 L885.2 332.8 L888.6 332.3 L892.1 332.5 L895.6 332.1 L899.1 331.6 L902.5 331.2 L906.0 331.4 L909.5 331.3 L913.0 331.0 L916.5 330.7 L920.0 330.2 L923.3 329.1 M888.6 332.3 L889.2 335.8 L889.9 339.2 L890.9 342.5 M909.5 331.3 L910.2 327.8 L910.5 324.3 L910.8 320.9 L911.8 317.5 L912.6 314.1 M910.8 320.9 L907.5 319.8 L904.1 319.0 L900.8 317.7 L897.8 316.0 M920.0 330.2 L919.0 326.8 L918.6 323.3 L917.9 319.9 L917.8 316.4 M919.0 326.8 L915.5 326.5 M882.5 300.6 L879.1 299.9 L875.7 299.0 L872.3 298.3 L869.0 297.1 L865.6 296.4 L862.1 296.0 L858.7 295.0 L855.4 293.9 L852.2 292.7 L848.8 291.7 L845.5 290.4 M869.0 297.1 L867.7 300.4 L866.7 303.7 L865.1 306.8 L863.6 310.0 L861.8 313.0 M867.7 300.4 L864.2 300.5 L860.8 301.0 L857.4 301.7 M855.4 293.9 L857.1 290.8 M852.2 292.7 L850.8 295.9 L849.6 299.2 L848.3 302.4 L847.6 305.9 M919.8 339.8 L919.7 336.3 L919.9 332.8 L920.5 329.4 L921.2 326.0 M919.9 332.8 L923.3 332.4 L926.8 332.3 L930.3 331.7 L933.7 331.0 L937.2 330.9 M920.5 329.4 L923.6 330.9 L926.5 332.9 L929.1 335.2 L931.6 337.7 M981.0 385.3 L978.0 383.4 L975.2 381.3 L972.2 379.5 L969.2 377.8 L966.0 376.4 L962.6 375.4 L959.2 374.6 L955.8 373.9 L952.3 373.5 M969.2 377.8 L970.3 374.5 L971.2 371.1 L971.8 367.7 L972.6 364.3 L973.1 360.8 M902.4 368.0 L902.0 371.5 L901.6 375.0 L901.6 378.5 L901.4 382.0 L901.2 385.5 L900.6 388.9 L900.2 392.4 L899.4 395.8 L898.1 399.0 M899.7 380.1 L898.5 376.8 L897.4 373.5 L896.6 370.1 L895.6 366.7 L894.8 363.3 L893.9 359.9 L893.2 356.5 L892.2 353.1 L891.9 349.6 L891.4 346.2 L890.4 342.8 M893.2 356.5 L895.9 354.3 L899.0 352.6 L901.7 350.3 M973.6 369.1 L974.1 365.7 L974.9 362.3 L975.8 358.9 L976.5 355.5 L976.8 352.0 L977.4 348.5 L977.5 345.0 L977.5 341.5 L977.5 338.0 L978.1 334.6 L978.9 331.2 L979.8 327.8 L980.3 324.3 M978.9 331.2 L982.3 331.7 L985.8 332.1 L989.3 332.4 L992.8 332.4 L996.3 332.3 M972.0 344.5 L975.0 346.3 L977.9 348.2 L980.7 350.4 L983.6 352.3 L986.8 353.7 L990.1 354.9 L993.5 355.6 L996.8 356.9 L1000.1 358.2 L1003.2 359.6 M941.1 359.5 L944.2 361.1 L947.5 362.5 L950.4 364.3 L953.2 366.5 L956.0 368.5 L958.6 370.9 L960.8 373.6 L963.1 376.3 L965.6 378.6 L968.0 381.3 M947.5 362.5 L945.7 365.5 L944.2 368.6 L943.3 372.0 L942.5 375.4 M953.2 366.5 L952.3 369.9 L952.1 373.4 L951.6 376.9 M965.6 378.6 L968.7 376.9 L971.6 375.0 L974.2 372.6 L976.6 370.1 M782.5 409.2 L784.4 406.3 L786.2 403.3 L787.9 400.2 L789.9 397.4 L791.6 394.3 L793.8 391.6 L795.7 388.7 L798.0 386.0 L800.0 383.2 L802.2 380.4 L804.2 377.5 L805.6 374.3 L807.5 371.3 L809.6 368.6 L811.5 365.6 M789.9 397.4 L793.2 398.6 L796.5 399.8 L799.8 401.1 L802.8 402.9 M793.2 398.6 L793.9 395.1 L795.1 391.9 L796.8 388.8 L798.2 385.6 M791.6 394.3 L789.3 391.7 M804.2 377.5 L807.6 378.2 L811.1 378.6 L814.6 378.8 M779.1 422.4 L782.2 420.8 L785.1 418.8 L788.1 417.0 L790.8 414.8 L793.2 412.2 L795.2 409.3 L797.5 406.7 L799.6 403.9 L801.1 400.8 L803.2 398.0 L805.0 394.9 L806.8 391.9 L808.4 388.8 L809.8 385.6 L810.8 382.3 L812.0 379.0 L812.8 375.6 L814.1 372.3 L815.8 369.3 L817.0 366.0 L818.0 362.6 L819.5 359.4 L820.7 356.2 L821.9 352.9 L822.5 349.4 L823.1 346.0 L824.2 342.6 L825.2 339.3 L825.8 335.8 M805.0 394.9 L808.2 396.4 L811.3 397.9 L814.3 399.8 L817.2 401.7 M815.8 369.3 L812.5 368.2 L809.0 367.5 L805.7 366.5 L802.2 366.0 M805.7 366.5 L804.8 369.9 L803.8 373.3 L802.4 376.5 L801.4 379.8 M819.5 359.4 L822.9 359.8 L826.4 360.4 L829.9 360.5 L833.4 360.8 M829.9 360.5 L829.6 357.0 L829.1 353.5 M824.2 342.6 L827.6 343.4 L830.9 344.5 M736.0 425.7 L738.9 423.7 L741.6 421.5 L744.1 419.1 L747.0 417.0 L749.7 414.9 L752.5 412.7 L755.2 410.6 L757.6 408.0 L760.2 405.6 L762.9 403.5 L766.0 401.7 L768.9 399.9 L771.7 397.7 L774.3 395.3 L777.1 393.2 L780.0 391.3 L782.8 389.3 L785.7 387.2 L788.3 384.9 L791.2 382.9 L794.1 381.0 L797.0 379.0 L800.1 377.4 L803.0 375.4 L806.0 373.6 M744.1 419.1 L746.6 421.5 L749.1 424.0 M760.2 405.6 L757.9 402.9 L755.3 400.6 M780.0 391.3 L777.7 388.6 L775.8 385.7 M782.8 389.3 L780.2 386.9 L777.7 384.5 L774.9 382.4 L772.2 380.2 L769.5 378.0 M780.2 386.9 L777.6 389.2 L775.2 391.9 L773.0 394.5 L770.5 396.9 M788.3 384.9 L790.9 387.2 L793.4 389.7 L795.7 392.3 M790.9 387.2 L794.2 386.0 L797.3 384.4 L800.2 382.5 M800.1 377.4 L802.2 380.1 L804.4 382.9 M714.6 426.2 L716.2 423.1 L717.7 419.9 L718.9 416.6 L719.9 413.3 L721.2 410.0 L722.5 406.8 L723.5 403.4 L724.3 400.0 L725.3 396.7 L726.7 393.4 L728.4 390.4 M726.7 393.4 L723.5 391.9 L720.4 390.4 L717.5 388.4 L714.4 386.9 M701.7 412.1 L699.6 414.9 L697.6 417.8 L695.5 420.6 M699.6 414.9 L702.8 416.3 L705.8 418.1 L708.6 420.2 M814.6 353.5 L816.1 350.4 L818.1 347.5 L819.9 344.5 L821.4 341.4 L822.9 338.2 L824.6 335.1 M816.1 350.4 L818.4 353.0 L820.8 355.5 M818.4 353.0 L815.4 354.8 L812.5 356.6 L809.3 358.2 L806.5 360.2 M803.8 381.9 L806.7 379.9 L809.7 378.2 L812.9 376.7 L816.1 375.4 L819.4 374.1 L822.4 372.4 L825.3 370.5 L828.5 369.0 L831.7 367.5 M825.3 370.5 L825.0 367.0 L824.8 363.5 M763.6 361.5 L765.2 358.4 L766.6 355.1 L768.1 352.0 L769.2 348.6 L770.6 345.4 L771.9 342.2 L773.0 338.9 L773.6 335.4 M770.6 345.4 L767.8 343.3 L765.0 341.2 L761.9 339.5 L759.0 337.6 M753.7 443.0 L756.8 441.4 L759.9 439.9 L763.1 438.4 L766.5 437.6 L769.9 436.5 L773.2 435.5 L776.6 434.5 L779.9 433.3 L783.1 432.0 L786.2 430.3 L789.2 428.6 L792.2 426.7 L795.2 424.9 L797.8 422.6 L800.1 420.0 L802.6 417.5 L804.6 414.6 L806.7 411.8 L808.5 408.8 L810.1 405.7 L812.0 402.8 L814.3 400.1 L816.5 397.5 L818.6 394.7 L820.8 391.9 M769.9 436.5 L769.3 433.0 L768.6 429.6 L767.5 426.3 L765.9 423.2 M789.2 428.6 L791.7 431.1 L794.0 433.7 L796.0 436.6 M791.7 431.1 L794.5 429.1 L797.4 427.0 M795.2 424.9 L797.9 427.1 L800.3 429.7 L802.2 432.6 L804.5 435.2 L806.5 438.1 L809.0 440.6 M797.8 422.6 L801.0 424.1 L804.1 425.8 L807.1 427.6 M814.3 400.1 L817.0 402.4 L819.8 404.4 L822.9 406.1 L825.9 407.8 L829.0 409.5 M818.6 394.7 L816.7 391.7 L814.4 389.1 L811.8 386.8 L809.2 384.4 M886.5 159.1 L889.4 157.0 L891.9 154.6 L894.3 152.1 L896.3 149.2 L898.2 146.3 L900.1 143.3 L902.4 140.7 L904.7 138.0 L907.2 135.6 L910.0 133.5 L912.9 131.5 L915.5 129.2 L918.0 126.7 L920.5 124.2 L922.8 121.7 L925.4 119.2 L927.9 116.8 L930.2 114.2 L932.7 111.7 L935.5 109.7 M889.4 157.0 L886.8 154.7 L884.2 152.3 L881.6 150.0 L878.9 147.8 L875.9 146.0 L872.8 144.3 M896.3 149.2 L893.7 146.8 L891.5 144.1 M898.2 146.3 L900.5 148.9 L903.2 151.1 L905.6 153.7 L907.8 156.4 L910.2 159.0 L912.2 161.8 L913.9 164.9 M920.5 124.2 L922.4 127.1 L924.7 129.8 L926.8 132.6 L929.0 135.3 L930.9 138.3 M922.4 127.1 L919.4 128.9 M926.8 132.6 L930.1 131.6 L933.4 130.3 L936.5 128.8 M913.9 171.3 L911.9 174.1 L909.5 176.7 L907.5 179.6 M909.5 176.7 L906.4 175.1 L903.4 173.4 L900.1 172.2 L897.0 170.6 M890.0 162.5 L888.3 165.6 L886.3 168.4 L884.7 171.5 L882.7 174.4 L880.9 177.4 L878.8 180.2 M886.3 168.4 L889.0 170.6 L891.5 173.0 L893.9 175.6 L896.5 177.9 L899.3 180.0 M891.5 173.0 L888.4 174.6 L885.2 176.0 M893.9 175.6 L891.6 178.2 L889.5 181.0 M880.9 177.4 L877.8 175.8 L875.0 173.7 L871.9 172.1 M860.3 132.9 L859.1 136.2 L858.1 139.6 L857.4 143.0 L856.6 146.4 L855.9 149.8 L855.3 153.3 L854.9 156.8 L854.5 160.2 L853.8 163.7 L852.6 167.0 L851.9 170.4 L851.4 173.8 L851.1 177.3 L851.2 180.8 M856.6 146.4 L859.8 147.7 L863.2 148.8 L866.6 149.5 L870.1 149.8 L873.6 150.0 M852.6 167.0 L856.1 166.6 L859.6 166.2 L863.0 165.6 L866.4 164.9 L869.9 164.1 M851.4 173.8 L847.9 173.4 L844.6 172.4 M911.7 134.1 L914.5 132.0 L916.9 129.5 L919.8 127.4 L922.4 125.1 L924.9 122.7 L927.4 120.2 L929.9 117.7 L932.7 115.7 L935.8 114.1 M886.6 173.4 L889.3 171.1 L891.8 168.7 L894.6 166.6 L897.6 164.9 L900.5 162.9 L903.6 161.2 L906.6 159.4 L909.6 157.7 L912.7 156.0 L915.4 153.8 M889.3 171.1 L887.0 168.5 L885.1 165.5 L883.0 162.8 L880.4 160.4 M891.8 168.7 L894.4 171.1 L896.7 173.7 L899.2 176.2 L901.2 179.1 M900.5 162.9 L902.0 166.0 L903.7 169.1 M900.8 122.6 L899.2 125.7 L897.7 128.8 L896.2 132.0 L894.6 135.1 L893.4 138.4 L892.5 141.8 L891.4 145.1 L890.3 148.4 L889.1 151.7 L888.2 155.1 L887.0 158.4 L885.4 161.5 L884.2 164.8 L882.6 167.9 L880.9 171.0 M913.8 151.5 L911.2 153.9 L908.4 156.0 L905.5 158.0 L902.4 159.6 L899.5 161.5 L896.5 163.3 L893.8 165.5 L890.7 167.3 L887.4 168.5 L884.2 169.8 L881.2 171.7 M902.4 159.6 L901.2 156.4 L899.6 153.2 M901.2 156.4 L904.6 155.4 L907.9 154.3 L911.4 153.7 M806.6 307.1 L809.9 308.5 L813.2 309.6 L816.4 311.1 L819.5 312.7 L822.7 314.0 L825.9 315.4 L828.9 317.3 M816.4 311.1 L814.0 313.7 L811.7 316.3 L809.6 319.1 L807.8 322.1 L805.6 324.9 M822.7 314.0 L823.6 310.7 L824.2 307.2 M813.4 313.5 L816.0 315.9 L818.6 318.2 L820.8 320.9 L823.3 323.4 L825.6 326.0 L828.3 328.2 M816.0 315.9 L818.2 313.2 L820.2 310.3 M823.3 323.4 L820.5 325.6 L817.9 327.9 L815.0 329.7 M772.8 323.3 L771.4 320.1 L770.3 316.8 L769.3 313.4 L767.8 310.3 L766.8 306.9 L765.4 303.7 L764.3 300.4 L763.5 296.9 L762.5 293.6 L761.7 290.2 M769.3 313.4 L771.9 311.2 L774.6 309.0 L777.1 306.5 M766.8 306.9 L763.9 308.8 L761.2 311.1 L758.6 313.3 L755.9 315.6 M796.2 322.4 L793.4 320.3 L790.4 318.5 L787.2 317.1 L784.0 315.7 L780.9 314.0 L777.7 312.6 L774.5 311.2 L771.2 310.0 L768.2 308.3 L765.1 306.7 M768.2 308.3 L769.0 304.9 L770.2 301.6 L771.5 298.3 L773.2 295.3 L774.7 292.1 M765.4 301.8 L764.1 298.5 L762.7 295.3 L761.0 292.2 M764.1 298.5 L761.0 300.2 L757.8 301.6 L754.5 302.7 M806.7 306.3 L809.5 308.3 L812.5 310.2 L815.2 312.4 L817.6 314.9 L819.6 317.8 L822.0 320.4 L824.6 322.7 L827.5 324.7 M819.6 317.8 L817.1 320.3 L814.6 322.7 M824.6 322.7 L823.4 326.0 L822.9 329.5 L822.0 332.9 L821.3 336.3 L820.6 339.7 L819.9 343.2 M783.5 308.0 L786.9 308.8 L790.3 309.5 L793.8 310.1 L797.3 310.1 L800.7 310.6 L804.1 311.5 L807.6 312.1 L811.0 312.4 L814.5 312.9 L817.9 313.8 L821.3 314.7 L824.7 315.4 L828.2 315.8 M793.8 310.1 L794.3 306.6 L794.7 303.2 L795.3 299.7 M807.6 312.1 L808.6 308.8 L809.9 305.5 L810.8 302.1 M812.1 305.1 L810.3 302.1 L808.3 299.2 L806.5 296.2 L804.2 293.5 L801.9 290.9 M808.3 299.2 L811.5 297.8 L814.8 296.4 L818.0 295.1 M771.1 336.9 L774.3 338.4 L777.6 339.6 L781.0 340.4 L784.3 341.5 L787.6 342.8 L790.9 343.7 L794.1 345.1 L797.4 346.3 L800.8 347.1 L804.0 348.6 L807.0 350.3 L810.2 351.7 M790.9 343.7 L790.7 347.2 L790.4 350.7 M657.6 273.8 L654.2 274.7 L651.0 276.2 L647.8 277.7 L644.5 278.7 L641.3 280.1 L638.1 281.5 L634.7 282.4 L631.4 283.6 L628.2 284.9 L624.9 286.2 L621.5 287.0 L618.1 287.9 L614.7 288.4 L611.2 289.2 L607.7 289.3 L604.2 289.0 L600.7 289.0 L597.3 288.5 L593.9 287.7 L590.5 286.9 M694.5 306.1 L691.9 308.5 L689.7 311.2 L687.6 314.0 L685.6 316.8 L683.9 319.9 L681.7 322.7 L679.7 325.5 L677.5 328.3 L675.7 331.3 L674.0 334.3 L672.8 337.6 L671.5 340.8 L669.7 343.9 M634.1 312.4 L631.0 314.1 L627.9 315.7 L624.7 317.1 L621.4 318.2 L618.0 319.1 L614.6 319.9 L611.3 321.1 L608.1 322.6 L604.8 323.6 L601.6 325.1 L598.8 327.1 L596.1 329.4 M618.0 319.1 L617.3 315.7 L616.2 312.3 L615.5 308.9 L614.8 305.5" fill="none" stroke="#3d22d4" stroke-width=".6" stroke-linejoin="round"/></g>
<path d="M968.6 48.8 L964.5 55.3 L960.6 61.5 L956.5 69.1 L952.6 75.9 L950.5 82.3 L947.8 88.6 L944.5 94 L941.5 99.8 M971.8 48.8 L968.2 56.3 L963.8 63.1 L958.8 69.9 L954.2 77.5 L951.5 85.1 L949.4 91.8 L947.3 98.5 L946.2 104.6 M975 52 L971.8 58.4 L968.6 64.7 L966.2 70.2 L963.8 75.9 M976.5 56.8 L975.8 61.9 L975 67.9 L972.2 72.3 L968.6 77.5 L960.2 78.1 L952.6 78.3 L951.1 83.8 L949.4 88.6 L950.4 93.8 L951 98.2 L957.4 101.4 L963.8 99.8 M968.6 78.3 L969 84.6 L970.2 91.8 L969.9 96.9 L970.2 101.4 M973.4 78.3 L976.2 85.1 L979.7 91.8 L983.2 99.5 L986.1 107.8 L989.3 114.6 L992.5 120.5 L995.1 128.4 L997.3 136.5 L1002 134.9 L1002.8 129.1 L1003.7 123.7 L1001.8 120 L998.9 115.8 L994.3 115.6 L989.3 115.8 M987.7 63.1 L981.3 61.5 L979.9 68.7 L978.1 75.9 L979.2 83.7 L979.7 91.8 M1002 99.8 L996 100 L989.2 99.9 L982.9 99.8 L976.8 101.4 L970.6 102.5 L963.8 104.6 L957.8 106.9 L951.1 109.2 L944.7 111 L937.1 114 L930.3 117.4 L924.9 120.5 L919.1 122.9 M1005.2 120.5 L997.1 117.8 L989.3 114.2 L983.1 113.7 L976.2 113.8 L970.2 114.2 L962.3 116.4 L954.2 118.9 L950.8 122 L947.8 125.3 L947 131.3 L947 136.5 M946 104.6 L940.8 104.7 L935 104.6 L927 103.6 L919.1 103 L912.9 101.2 L906.4 99.8 M936.7 105.4 L942.7 110.3 L947.8 114.2 L952.8 114.5 L957.4 114.2 L958.6 118.6 L960.6 123.7 M965 60 L961.3 65.6 L958 72 L956 80 M972 110 L975 104 L978 100 M1002 99.8 L1008 102 L1003 108 M962 48.8 L958.4 54.9 L955 60 L951.8 66.5 L948 72 L945.2 77.7 L943 84 L940 89.8 L938 96" fill="none" stroke="#1d1dfa" stroke-width=".9" stroke-linejoin="round"/>
<g filter="url(#mb2)" opacity="0.9"><rect x="716.8" y="101.0" width="5.8" height="5.4" fill="#e8aca0"/><rect x="716.8" y="106.0" width="5.8" height="5.4" fill="#e4a698"/><rect x="716.8" y="111.0" width="5.8" height="5.4" fill="#dfa090"/><rect x="716.8" y="116.0" width="5.8" height="5.4" fill="#e8aca0"/><rect x="722.2" y="101.0" width="5.8" height="5.4" fill="#e8aca0"/><rect x="722.2" y="106.0" width="5.8" height="5.4" fill="#f0bcb0"/><rect x="722.2" y="111.0" width="5.8" height="5.4" fill="#ecb4a8"/><rect x="722.2" y="116.0" width="5.8" height="5.4" fill="#e8aca0"/><rect x="727.7" y="101.0" width="5.8" height="5.4" fill="#e8aca0"/><rect x="727.7" y="106.0" width="5.8" height="5.4" fill="#e4a698"/><rect x="727.7" y="111.0" width="5.8" height="5.4" fill="#dfa090"/><rect x="727.7" y="116.0" width="5.8" height="5.4" fill="#e8aca0"/><rect x="733.1" y="101.0" width="5.8" height="5.4" fill="#e8aca0"/><rect x="733.1" y="106.0" width="5.8" height="5.4" fill="#f0bcb0"/><rect x="733.1" y="111.0" width="5.8" height="5.4" fill="#ecb4a8"/><rect x="733.1" y="116.0" width="5.8" height="5.4" fill="#ecb4a8"/><rect x="738.5" y="101.0" width="5.8" height="5.4" fill="#e8aca0"/><rect x="738.5" y="106.0" width="5.8" height="5.4" fill="#dfa090"/><rect x="738.5" y="111.0" width="5.8" height="5.4" fill="#e8aca0"/><rect x="738.5" y="116.0" width="5.8" height="5.4" fill="#e8aca0"/><rect x="743.9" y="101.0" width="5.8" height="5.4" fill="#e8aca0"/><rect x="743.9" y="106.0" width="5.8" height="5.4" fill="#dfa090"/><rect x="743.9" y="111.0" width="5.8" height="5.4" fill="#f0bcb0"/><rect x="743.9" y="116.0" width="5.8" height="5.4" fill="#ecb4a8"/><rect x="749.4" y="101.0" width="5.8" height="5.4" fill="#e8aca0"/><rect x="749.4" y="106.0" width="5.8" height="5.4" fill="#f0bcb0"/><rect x="749.4" y="111.0" width="5.8" height="5.4" fill="#f0bcb0"/><rect x="749.4" y="116.0" width="5.8" height="5.4" fill="#ecb4a8"/></g>
<g filter="url(#mb2)" opacity="0.9"><rect x="854.0" y="124.5" width="6.0" height="6.1" fill="#e8c0cc"/><rect x="854.0" y="130.2" width="6.0" height="6.1" fill="#e8c0cc"/><rect x="854.0" y="135.8" width="6.0" height="6.1" fill="#e8c0cc"/><rect x="859.6" y="124.5" width="6.0" height="6.1" fill="#c0a0c5"/><rect x="859.6" y="130.2" width="6.0" height="6.1" fill="#e2b9cc"/><rect x="859.6" y="135.8" width="6.0" height="6.1" fill="#e2b9cc"/><rect x="865.1" y="124.5" width="6.0" height="6.1" fill="#dab3cc"/><rect x="865.1" y="130.2" width="6.0" height="6.1" fill="#c9a6c8"/><rect x="865.1" y="135.8" width="6.0" height="6.1" fill="#d2adca"/><rect x="870.7" y="124.5" width="6.0" height="6.1" fill="#e8c0cc"/><rect x="870.7" y="130.2" width="6.0" height="6.1" fill="#e2b3bc"/><rect x="870.7" y="135.8" width="6.0" height="6.1" fill="#e8c0cc"/><rect x="876.2" y="124.5" width="6.0" height="6.1" fill="#d2adca"/><rect x="876.2" y="130.2" width="6.0" height="6.1" fill="#edbfc0"/><rect x="876.2" y="135.8" width="6.0" height="6.1" fill="#c9a6c8"/><rect x="881.8" y="124.5" width="6.0" height="6.1" fill="#c0a0c5"/><rect x="881.8" y="130.2" width="6.0" height="6.1" fill="#b69ac2"/><rect x="881.8" y="135.8" width="6.0" height="6.1" fill="#e8c0cc"/><rect x="887.4" y="124.5" width="6.0" height="6.1" fill="#e2b9cc"/><rect x="887.4" y="130.2" width="6.0" height="6.1" fill="#d6a8b8"/><rect x="887.4" y="135.8" width="6.0" height="6.1" fill="#b69ac2"/><rect x="892.9" y="124.5" width="6.0" height="6.1" fill="#e8c0cc"/><rect x="892.9" y="130.2" width="6.0" height="6.1" fill="#b69ac2"/><rect x="892.9" y="135.8" width="6.0" height="6.1" fill="#c9a6c8"/></g>
<g filter="url(#mb2)" opacity="0.9"><rect x="801.6" y="148.0" width="5.7" height="6.4" fill="#e3cccd"/><rect x="801.6" y="154.0" width="5.7" height="6.4" fill="#dcc6c9"/><rect x="806.9" y="148.0" width="5.7" height="6.4" fill="#cbb8be"/><rect x="806.9" y="154.0" width="5.7" height="6.4" fill="#e2b9cc"/><rect x="812.3" y="148.0" width="5.7" height="6.4" fill="#cbb8be"/><rect x="812.3" y="154.0" width="5.7" height="6.4" fill="#e3cccd"/><rect x="817.6" y="148.0" width="5.7" height="6.4" fill="#e2b9cc"/><rect x="817.6" y="154.0" width="5.7" height="6.4" fill="#ebd2d2"/><rect x="822.9" y="148.0" width="5.7" height="6.4" fill="#c2b0b8"/><rect x="822.9" y="154.0" width="5.7" height="6.4" fill="#dcc6c9"/><rect x="828.3" y="148.0" width="5.7" height="6.4" fill="#a99ca6"/><rect x="828.3" y="154.0" width="5.7" height="6.4" fill="#dcc6c9"/><rect x="833.6" y="148.0" width="5.7" height="6.4" fill="#dcc6c9"/><rect x="833.6" y="154.0" width="5.7" height="6.4" fill="#cbb8be"/><rect x="838.9" y="148.0" width="5.7" height="6.4" fill="#c0a0c5"/><rect x="838.9" y="154.0" width="5.7" height="6.4" fill="#d2adca"/><rect x="844.3" y="148.0" width="5.7" height="6.4" fill="#d2adca"/><rect x="844.3" y="154.0" width="5.7" height="6.4" fill="#e8c0cc"/><rect x="849.6" y="148.0" width="5.7" height="6.4" fill="#b6a7b0"/><rect x="849.6" y="154.0" width="5.7" height="6.4" fill="#e2b9cc"/><rect x="854.9" y="148.0" width="5.7" height="6.4" fill="#ebd2d2"/><rect x="854.9" y="154.0" width="5.7" height="6.4" fill="#ebd2d2"/><rect x="860.3" y="148.0" width="5.7" height="6.4" fill="#cbb8be"/><rect x="860.3" y="154.0" width="5.7" height="6.4" fill="#d2adca"/><rect x="865.6" y="148.0" width="5.7" height="6.4" fill="#b6a7b0"/><rect x="865.6" y="154.0" width="5.7" height="6.4" fill="#e2b9cc"/><rect x="870.9" y="148.0" width="5.7" height="6.4" fill="#e8c0cc"/><rect x="870.9" y="154.0" width="5.7" height="6.4" fill="#d2adca"/><rect x="876.3" y="148.0" width="5.7" height="6.4" fill="#dcc6c9"/><rect x="876.3" y="154.0" width="5.7" height="6.4" fill="#e8c0cc"/></g>
<g filter="url(#mb2)" opacity="0.9"><rect x="642.6" y="174.5" width="6.0" height="6.2" fill="#e9bbc0"/><rect x="642.6" y="180.2" width="6.0" height="6.2" fill="#c9a6c8"/><rect x="648.2" y="174.5" width="6.0" height="6.2" fill="#e4b0b4"/><rect x="648.2" y="180.2" width="6.0" height="6.2" fill="#e8c0cc"/><rect x="653.8" y="174.5" width="6.0" height="6.2" fill="#b69ac2"/><rect x="653.8" y="180.2" width="6.0" height="6.2" fill="#e8c0cc"/><rect x="659.4" y="174.5" width="6.0" height="6.2" fill="#c9a6c8"/><rect x="659.4" y="180.2" width="6.0" height="6.2" fill="#e9bbc0"/><rect x="665.0" y="174.5" width="6.0" height="6.2" fill="#e2b9cc"/><rect x="665.0" y="180.2" width="6.0" height="6.2" fill="#e4b0b4"/></g>
<g filter="url(#mb2)" opacity="0.9"><rect x="574.0" y="203.0" width="5.7" height="5.1" fill="#c2b0b8"/><rect x="574.0" y="207.7" width="5.7" height="5.1" fill="#cbb8be"/><rect x="574.0" y="212.3" width="5.7" height="5.1" fill="#ebd2d2"/><rect x="579.3" y="203.0" width="5.7" height="5.1" fill="#c2b0b8"/><rect x="579.3" y="207.7" width="5.7" height="5.1" fill="#e3cccd"/><rect x="579.3" y="212.3" width="5.7" height="5.1" fill="#e3cccd"/><rect x="584.6" y="203.0" width="5.7" height="5.1" fill="#cbb8be"/><rect x="584.6" y="207.7" width="5.7" height="5.1" fill="#dcc6c9"/><rect x="584.6" y="212.3" width="5.7" height="5.1" fill="#c2b0b8"/><rect x="589.9" y="203.0" width="5.7" height="5.1" fill="#dcc6c9"/><rect x="589.9" y="207.7" width="5.7" height="5.1" fill="#e9bbc0"/><rect x="589.9" y="212.3" width="5.7" height="5.1" fill="#a99ca6"/><rect x="595.1" y="203.0" width="5.7" height="5.1" fill="#b6a7b0"/><rect x="595.1" y="207.7" width="5.7" height="5.1" fill="#ebd2d2"/><rect x="595.1" y="212.3" width="5.7" height="5.1" fill="#ebd2d2"/><rect x="600.4" y="203.0" width="5.7" height="5.1" fill="#b6a7b0"/><rect x="600.4" y="207.7" width="5.7" height="5.1" fill="#ebd2d2"/><rect x="600.4" y="212.3" width="5.7" height="5.1" fill="#e3cccd"/><rect x="605.7" y="203.0" width="5.7" height="5.1" fill="#e3cccd"/><rect x="605.7" y="207.7" width="5.7" height="5.1" fill="#dcadba"/><rect x="605.7" y="212.3" width="5.7" height="5.1" fill="#b6a7b0"/><rect x="611.0" y="203.0" width="5.7" height="5.1" fill="#a99ca6"/><rect x="611.0" y="207.7" width="5.7" height="5.1" fill="#dcc6c9"/><rect x="611.0" y="212.3" width="5.7" height="5.1" fill="#ebd2d2"/><rect x="616.3" y="203.0" width="5.7" height="5.1" fill="#e3cccd"/><rect x="616.3" y="207.7" width="5.7" height="5.1" fill="#a99ca6"/><rect x="616.3" y="212.3" width="5.7" height="5.1" fill="#e3cccd"/><rect x="621.6" y="203.0" width="5.7" height="5.1" fill="#a99ca6"/><rect x="621.6" y="207.7" width="5.7" height="5.1" fill="#ebd2d2"/><rect x="621.6" y="212.3" width="5.7" height="5.1" fill="#dcc6c9"/><rect x="626.9" y="203.0" width="5.7" height="5.1" fill="#d4bfc4"/><rect x="626.9" y="207.7" width="5.7" height="5.1" fill="#e9bbc0"/><rect x="626.9" y="212.3" width="5.7" height="5.1" fill="#a99ca6"/><rect x="632.1" y="203.0" width="5.7" height="5.1" fill="#d4bfc4"/><rect x="632.1" y="207.7" width="5.7" height="5.1" fill="#f0c4c2"/><rect x="632.1" y="212.3" width="5.7" height="5.1" fill="#b6a7b0"/><rect x="637.4" y="203.0" width="5.7" height="5.1" fill="#d4bfc4"/><rect x="637.4" y="207.7" width="5.7" height="5.1" fill="#e2b3bc"/><rect x="637.4" y="212.3" width="5.7" height="5.1" fill="#c2b0b8"/><rect x="642.7" y="203.0" width="5.7" height="5.1" fill="#dcc6c9"/><rect x="642.7" y="207.7" width="5.7" height="5.1" fill="#e3cccd"/><rect x="642.7" y="212.3" width="5.7" height="5.1" fill="#cbb8be"/></g>
<g filter="url(#mb2)" opacity="0.9"><rect x="669.0" y="222.5" width="5.8" height="5.1" fill="#ebd2d2"/><rect x="669.0" y="227.2" width="5.8" height="5.1" fill="#cbb8be"/><rect x="669.0" y="231.8" width="5.8" height="5.1" fill="#b6a7b0"/><rect x="674.4" y="222.5" width="5.8" height="5.1" fill="#c2b0b8"/><rect x="674.4" y="227.2" width="5.8" height="5.1" fill="#dab3cc"/><rect x="674.4" y="231.8" width="5.8" height="5.1" fill="#b6a7b0"/><rect x="679.8" y="222.5" width="5.8" height="5.1" fill="#cbb8be"/><rect x="679.8" y="227.2" width="5.8" height="5.1" fill="#e3cccd"/><rect x="679.8" y="231.8" width="5.8" height="5.1" fill="#dcc6c9"/><rect x="685.1" y="222.5" width="5.8" height="5.1" fill="#ebd2d2"/><rect x="685.1" y="227.2" width="5.8" height="5.1" fill="#cbb8be"/><rect x="685.1" y="231.8" width="5.8" height="5.1" fill="#dcc6c9"/><rect x="690.5" y="222.5" width="5.8" height="5.1" fill="#cbb8be"/><rect x="690.5" y="227.2" width="5.8" height="5.1" fill="#dcc6c9"/><rect x="690.5" y="231.8" width="5.8" height="5.1" fill="#e3cccd"/><rect x="695.9" y="222.5" width="5.8" height="5.1" fill="#b6a7b0"/><rect x="695.9" y="227.2" width="5.8" height="5.1" fill="#c9a6c8"/><rect x="695.9" y="231.8" width="5.8" height="5.1" fill="#ebd2d2"/><rect x="701.2" y="222.5" width="5.8" height="5.1" fill="#ebd2d2"/><rect x="701.2" y="227.2" width="5.8" height="5.1" fill="#dab3cc"/><rect x="701.2" y="231.8" width="5.8" height="5.1" fill="#c2b0b8"/><rect x="706.6" y="222.5" width="5.8" height="5.1" fill="#ebd2d2"/><rect x="706.6" y="227.2" width="5.8" height="5.1" fill="#d4bfc4"/><rect x="706.6" y="231.8" width="5.8" height="5.1" fill="#dcc6c9"/><rect x="712.0" y="222.5" width="5.8" height="5.1" fill="#ebd2d2"/><rect x="712.0" y="227.2" width="5.8" height="5.1" fill="#e8c0cc"/><rect x="712.0" y="231.8" width="5.8" height="5.1" fill="#e3cccd"/><rect x="717.4" y="222.5" width="5.8" height="5.1" fill="#b6a7b0"/><rect x="717.4" y="227.2" width="5.8" height="5.1" fill="#d2adca"/><rect x="717.4" y="231.8" width="5.8" height="5.1" fill="#cbb8be"/><rect x="722.8" y="222.5" width="5.8" height="5.1" fill="#b6a7b0"/><rect x="722.8" y="227.2" width="5.8" height="5.1" fill="#c0a0c5"/><rect x="722.8" y="231.8" width="5.8" height="5.1" fill="#e3cccd"/><rect x="728.1" y="222.5" width="5.8" height="5.1" fill="#c2b0b8"/><rect x="728.1" y="227.2" width="5.8" height="5.1" fill="#a99ca6"/><rect x="728.1" y="231.8" width="5.8" height="5.1" fill="#c2b0b8"/></g>
<g filter="url(#mb2)" opacity="0.9"><rect x="749.0" y="194.0" width="5.8" height="5.9" fill="#e8c0cc"/><rect x="749.0" y="199.5" width="5.8" height="5.9" fill="#e9bbc0"/><rect x="754.4" y="194.0" width="5.8" height="5.9" fill="#edbfc0"/><rect x="754.4" y="199.5" width="5.8" height="5.9" fill="#c0a0c5"/><rect x="759.9" y="194.0" width="5.8" height="5.9" fill="#e6b7be"/><rect x="759.9" y="199.5" width="5.8" height="5.9" fill="#e2b9cc"/><rect x="765.3" y="194.0" width="5.8" height="5.9" fill="#d6a8b8"/><rect x="765.3" y="199.5" width="5.8" height="5.9" fill="#e4b0b4"/><rect x="770.7" y="194.0" width="5.8" height="5.9" fill="#d2adca"/><rect x="770.7" y="199.5" width="5.8" height="5.9" fill="#b69ac2"/><rect x="776.1" y="194.0" width="5.8" height="5.9" fill="#c9a6c8"/><rect x="776.1" y="199.5" width="5.8" height="5.9" fill="#dcadba"/><rect x="781.6" y="194.0" width="5.8" height="5.9" fill="#c9a6c8"/><rect x="781.6" y="199.5" width="5.8" height="5.9" fill="#d6a8b8"/></g>
<g filter="url(#mb2)" opacity="0.9"><rect x="738.0" y="211.0" width="5.6" height="6.9" fill="#e8c0cc"/><rect x="738.0" y="217.5" width="5.6" height="6.9" fill="#a99ca6"/><rect x="743.2" y="211.0" width="5.6" height="6.9" fill="#b6a7b0"/><rect x="743.2" y="217.5" width="5.6" height="6.9" fill="#a99ca6"/><rect x="748.4" y="211.0" width="5.6" height="6.9" fill="#d4bfc4"/><rect x="748.4" y="217.5" width="5.6" height="6.9" fill="#e3cccd"/><rect x="753.5" y="211.0" width="5.6" height="6.9" fill="#ebd2d2"/><rect x="753.5" y="217.5" width="5.6" height="6.9" fill="#c2b0b8"/><rect x="758.7" y="211.0" width="5.6" height="6.9" fill="#b69ac2"/><rect x="758.7" y="217.5" width="5.6" height="6.9" fill="#dcc6c9"/><rect x="763.9" y="211.0" width="5.6" height="6.9" fill="#b69ac2"/><rect x="763.9" y="217.5" width="5.6" height="6.9" fill="#c0a0c5"/><rect x="769.1" y="211.0" width="5.6" height="6.9" fill="#a99ca6"/><rect x="769.1" y="217.5" width="5.6" height="6.9" fill="#a99ca6"/><rect x="774.3" y="211.0" width="5.6" height="6.9" fill="#d2adca"/><rect x="774.3" y="217.5" width="5.6" height="6.9" fill="#d4bfc4"/><rect x="779.5" y="211.0" width="5.6" height="6.9" fill="#e8c0cc"/><rect x="779.5" y="217.5" width="5.6" height="6.9" fill="#d2adca"/><rect x="784.6" y="211.0" width="5.6" height="6.9" fill="#dcc6c9"/><rect x="784.6" y="217.5" width="5.6" height="6.9" fill="#c0a0c5"/><rect x="789.8" y="211.0" width="5.6" height="6.9" fill="#cbb8be"/><rect x="789.8" y="217.5" width="5.6" height="6.9" fill="#b6a7b0"/></g>
<g filter="url(#mb2)" opacity="0.9"><rect x="690.0" y="249.0" width="5.8" height="6.4" fill="#c0a0c5"/><rect x="690.0" y="255.0" width="5.8" height="6.4" fill="#d4bfc4"/><rect x="695.4" y="249.0" width="5.8" height="6.4" fill="#dcc6c9"/><rect x="695.4" y="255.0" width="5.8" height="6.4" fill="#e8c0cc"/><rect x="700.8" y="249.0" width="5.8" height="6.4" fill="#a99ca6"/><rect x="700.8" y="255.0" width="5.8" height="6.4" fill="#e8c0cc"/><rect x="706.2" y="249.0" width="5.8" height="6.4" fill="#ebd2d2"/><rect x="706.2" y="255.0" width="5.8" height="6.4" fill="#ebd2d2"/><rect x="711.5" y="249.0" width="5.8" height="6.4" fill="#ebd2d2"/><rect x="711.5" y="255.0" width="5.8" height="6.4" fill="#b6a7b0"/><rect x="716.9" y="249.0" width="5.8" height="6.4" fill="#e2b9cc"/><rect x="716.9" y="255.0" width="5.8" height="6.4" fill="#e3cccd"/><rect x="722.3" y="249.0" width="5.8" height="6.4" fill="#e3cccd"/><rect x="722.3" y="255.0" width="5.8" height="6.4" fill="#a99ca6"/><rect x="727.7" y="249.0" width="5.8" height="6.4" fill="#c9a6c8"/><rect x="727.7" y="255.0" width="5.8" height="6.4" fill="#cbb8be"/><rect x="733.1" y="249.0" width="5.8" height="6.4" fill="#a99ca6"/><rect x="733.1" y="255.0" width="5.8" height="6.4" fill="#b6a7b0"/><rect x="738.5" y="249.0" width="5.8" height="6.4" fill="#b69ac2"/><rect x="738.5" y="255.0" width="5.8" height="6.4" fill="#a99ca6"/><rect x="743.8" y="249.0" width="5.8" height="6.4" fill="#e3cccd"/><rect x="743.8" y="255.0" width="5.8" height="6.4" fill="#e2b9cc"/><rect x="749.2" y="249.0" width="5.8" height="6.4" fill="#cbb8be"/><rect x="749.2" y="255.0" width="5.8" height="6.4" fill="#c9a6c8"/><rect x="754.6" y="249.0" width="5.8" height="6.4" fill="#ebd2d2"/><rect x="754.6" y="255.0" width="5.8" height="6.4" fill="#d4bfc4"/></g>
<g filter="url(#mb2)" opacity="0.9"><rect x="776.0" y="272.0" width="6.0" height="5.7" fill="#dcc6c9"/><rect x="776.0" y="277.3" width="6.0" height="5.7" fill="#c2b0b8"/><rect x="776.0" y="282.7" width="6.0" height="5.7" fill="#d4bfc4"/><rect x="781.6" y="272.0" width="6.0" height="5.7" fill="#cbb8be"/><rect x="781.6" y="277.3" width="6.0" height="5.7" fill="#7f7a88"/><rect x="781.6" y="282.7" width="6.0" height="5.7" fill="#e3cccd"/><rect x="787.2" y="272.0" width="6.0" height="5.7" fill="#d4bfc4"/><rect x="787.2" y="277.3" width="6.0" height="5.7" fill="#b6a7b0"/><rect x="787.2" y="282.7" width="6.0" height="5.7" fill="#cbb8be"/><rect x="792.8" y="272.0" width="6.0" height="5.7" fill="#e3cccd"/><rect x="792.8" y="277.3" width="6.0" height="5.7" fill="#7f7a88"/><rect x="792.8" y="282.7" width="6.0" height="5.7" fill="#cbb8be"/><rect x="798.4" y="272.0" width="6.0" height="5.7" fill="#cbb8be"/><rect x="798.4" y="277.3" width="6.0" height="5.7" fill="#dcc6c9"/><rect x="798.4" y="282.7" width="6.0" height="5.7" fill="#dcc6c9"/></g>
<g filter="url(#mb2)" opacity="0.9"><rect x="690.0" y="287.0" width="5.5" height="5.2" fill="#dab3cc"/><rect x="690.0" y="291.8" width="5.5" height="5.2" fill="#e4b0b4"/><rect x="690.0" y="296.7" width="5.5" height="5.2" fill="#e2b9cc"/><rect x="695.1" y="287.0" width="5.5" height="5.2" fill="#e2b9cc"/><rect x="695.1" y="291.8" width="5.5" height="5.2" fill="#dab3cc"/><rect x="695.1" y="296.7" width="5.5" height="5.2" fill="#e2b9cc"/><rect x="700.2" y="287.0" width="5.5" height="5.2" fill="#dab3cc"/><rect x="700.2" y="291.8" width="5.5" height="5.2" fill="#b69ac2"/><rect x="700.2" y="296.7" width="5.5" height="5.2" fill="#d2adca"/><rect x="705.4" y="287.0" width="5.5" height="5.2" fill="#c0a0c5"/><rect x="705.4" y="291.8" width="5.5" height="5.2" fill="#b69ac2"/><rect x="705.4" y="296.7" width="5.5" height="5.2" fill="#b69ac2"/><rect x="710.5" y="287.0" width="5.5" height="5.2" fill="#e2b9cc"/><rect x="710.5" y="291.8" width="5.5" height="5.2" fill="#c0a0c5"/><rect x="710.5" y="296.7" width="5.5" height="5.2" fill="#dab3cc"/><rect x="715.6" y="287.0" width="5.5" height="5.2" fill="#c9a6c8"/><rect x="715.6" y="291.8" width="5.5" height="5.2" fill="#c0a0c5"/><rect x="715.6" y="296.7" width="5.5" height="5.2" fill="#c0a0c5"/><rect x="720.8" y="287.0" width="5.5" height="5.2" fill="#b69ac2"/><rect x="720.8" y="291.8" width="5.5" height="5.2" fill="#e2b9cc"/><rect x="720.8" y="296.7" width="5.5" height="5.2" fill="#b69ac2"/><rect x="725.9" y="287.0" width="5.5" height="5.2" fill="#c9a6c8"/><rect x="725.9" y="291.8" width="5.5" height="5.2" fill="#f0c4c2"/><rect x="725.9" y="296.7" width="5.5" height="5.2" fill="#e2b9cc"/></g>
<g filter="url(#mb2)" opacity="0.9"><rect x="478.0" y="261.5" width="5.6" height="5.4" fill="#edbfc0"/><rect x="478.0" y="266.5" width="5.6" height="5.4" fill="#e2b3bc"/><rect x="478.0" y="271.5" width="5.6" height="5.4" fill="#edbfc0"/><rect x="478.0" y="276.5" width="5.6" height="5.4" fill="#edbfc0"/><rect x="483.2" y="261.5" width="5.6" height="5.4" fill="#e6b7be"/><rect x="483.2" y="266.5" width="5.6" height="5.4" fill="#edbfc0"/><rect x="483.2" y="271.5" width="5.6" height="5.4" fill="#e4b0b4"/><rect x="483.2" y="276.5" width="5.6" height="5.4" fill="#e9bbc0"/><rect x="488.4" y="261.5" width="5.6" height="5.4" fill="#e9bbc0"/><rect x="488.4" y="266.5" width="5.6" height="5.4" fill="#f0c4c2"/><rect x="488.4" y="271.5" width="5.6" height="5.4" fill="#e9bbc0"/><rect x="488.4" y="276.5" width="5.6" height="5.4" fill="#e9bbc0"/><rect x="493.5" y="261.5" width="5.6" height="5.4" fill="#e6b7be"/><rect x="493.5" y="266.5" width="5.6" height="5.4" fill="#e9bbc0"/><rect x="493.5" y="271.5" width="5.6" height="5.4" fill="#f0c4c2"/><rect x="493.5" y="276.5" width="5.6" height="5.4" fill="#f0c4c2"/><rect x="498.7" y="261.5" width="5.6" height="5.4" fill="#e6b7be"/><rect x="498.7" y="266.5" width="5.6" height="5.4" fill="#e6b7be"/><rect x="498.7" y="271.5" width="5.6" height="5.4" fill="#dcadba"/><rect x="498.7" y="276.5" width="5.6" height="5.4" fill="#e9bbc0"/><rect x="503.9" y="261.5" width="5.6" height="5.4" fill="#f0c4c2"/><rect x="503.9" y="266.5" width="5.6" height="5.4" fill="#e9bbc0"/><rect x="503.9" y="271.5" width="5.6" height="5.4" fill="#d6a8b8"/><rect x="503.9" y="276.5" width="5.6" height="5.4" fill="#e9bbc0"/><rect x="509.1" y="261.5" width="5.6" height="5.4" fill="#e9bbc0"/><rect x="509.1" y="266.5" width="5.6" height="5.4" fill="#e9bbc0"/><rect x="509.1" y="271.5" width="5.6" height="5.4" fill="#e9bbc0"/><rect x="509.1" y="276.5" width="5.6" height="5.4" fill="#e9bbc0"/><rect x="514.3" y="261.5" width="5.6" height="5.4" fill="#f0c4c2"/><rect x="514.3" y="266.5" width="5.6" height="5.4" fill="#dcadba"/><rect x="514.3" y="271.5" width="5.6" height="5.4" fill="#f0c4c2"/><rect x="514.3" y="276.5" width="5.6" height="5.4" fill="#e9bbc0"/><rect x="519.5" y="261.5" width="5.6" height="5.4" fill="#e6b7be"/><rect x="519.5" y="266.5" width="5.6" height="5.4" fill="#edbfc0"/><rect x="519.5" y="271.5" width="5.6" height="5.4" fill="#e4b0b4"/><rect x="519.5" y="276.5" width="5.6" height="5.4" fill="#f0c4c2"/><rect x="524.6" y="261.5" width="5.6" height="5.4" fill="#f0c4c2"/><rect x="524.6" y="266.5" width="5.6" height="5.4" fill="#edbfc0"/><rect x="524.6" y="271.5" width="5.6" height="5.4" fill="#e2b3bc"/><rect x="524.6" y="276.5" width="5.6" height="5.4" fill="#f0c4c2"/><rect x="529.8" y="261.5" width="5.6" height="5.4" fill="#e6b7be"/><rect x="529.8" y="266.5" width="5.6" height="5.4" fill="#e2b3bc"/><rect x="529.8" y="271.5" width="5.6" height="5.4" fill="#dcadba"/><rect x="529.8" y="276.5" width="5.6" height="5.4" fill="#e6b7be"/></g>
<g filter="url(#mb2)" opacity="0.9"><rect x="627.0" y="318.0" width="5.7" height="5.2" fill="#e2b3bc"/><rect x="627.0" y="322.8" width="5.7" height="5.2" fill="#edbfc0"/><rect x="627.0" y="327.5" width="5.7" height="5.2" fill="#c9a6c8"/><rect x="627.0" y="332.2" width="5.7" height="5.2" fill="#e2b3bc"/><rect x="632.3" y="318.0" width="5.7" height="5.2" fill="#d6a8b8"/><rect x="632.3" y="322.8" width="5.7" height="5.2" fill="#d6a8b8"/><rect x="632.3" y="327.5" width="5.7" height="5.2" fill="#e9bbc0"/><rect x="632.3" y="332.2" width="5.7" height="5.2" fill="#edbfc0"/><rect x="637.6" y="318.0" width="5.7" height="5.2" fill="#e2b3bc"/><rect x="637.6" y="322.8" width="5.7" height="5.2" fill="#f0c4c2"/><rect x="637.6" y="327.5" width="5.7" height="5.2" fill="#e4b0b4"/><rect x="637.6" y="332.2" width="5.7" height="5.2" fill="#e2b3bc"/><rect x="642.8" y="318.0" width="5.7" height="5.2" fill="#e9bbc0"/><rect x="642.8" y="322.8" width="5.7" height="5.2" fill="#e2b3bc"/><rect x="642.8" y="327.5" width="5.7" height="5.2" fill="#e2b3bc"/><rect x="642.8" y="332.2" width="5.7" height="5.2" fill="#e9bbc0"/><rect x="648.1" y="318.0" width="5.7" height="5.2" fill="#dcadba"/><rect x="648.1" y="322.8" width="5.7" height="5.2" fill="#f0c4c2"/><rect x="648.1" y="327.5" width="5.7" height="5.2" fill="#e2b9cc"/><rect x="648.1" y="332.2" width="5.7" height="5.2" fill="#edbfc0"/><rect x="653.4" y="318.0" width="5.7" height="5.2" fill="#dcadba"/><rect x="653.4" y="322.8" width="5.7" height="5.2" fill="#b69ac2"/><rect x="653.4" y="327.5" width="5.7" height="5.2" fill="#d6a8b8"/><rect x="653.4" y="332.2" width="5.7" height="5.2" fill="#dcadba"/><rect x="658.7" y="318.0" width="5.7" height="5.2" fill="#f0c4c2"/><rect x="658.7" y="322.8" width="5.7" height="5.2" fill="#e6b7be"/><rect x="658.7" y="327.5" width="5.7" height="5.2" fill="#e4b0b4"/><rect x="658.7" y="332.2" width="5.7" height="5.2" fill="#d6a8b8"/><rect x="663.9" y="318.0" width="5.7" height="5.2" fill="#e2b3bc"/><rect x="663.9" y="322.8" width="5.7" height="5.2" fill="#c9a6c8"/><rect x="663.9" y="327.5" width="5.7" height="5.2" fill="#e4b0b4"/><rect x="663.9" y="332.2" width="5.7" height="5.2" fill="#d6a8b8"/><rect x="669.2" y="318.0" width="5.7" height="5.2" fill="#dcadba"/><rect x="669.2" y="322.8" width="5.7" height="5.2" fill="#e2b9cc"/><rect x="669.2" y="327.5" width="5.7" height="5.2" fill="#edbfc0"/><rect x="669.2" y="332.2" width="5.7" height="5.2" fill="#f0c4c2"/></g>
<g filter="url(#mb2)" opacity="0.9"><rect x="648.0" y="356.0" width="5.7" height="5.4" fill="#e3cccd"/><rect x="648.0" y="361.0" width="5.7" height="5.4" fill="#a99ca6"/><rect x="648.0" y="366.0" width="5.7" height="5.4" fill="#d4bfc4"/><rect x="653.3" y="356.0" width="5.7" height="5.4" fill="#dcc6c9"/><rect x="653.3" y="361.0" width="5.7" height="5.4" fill="#b6a7b0"/><rect x="653.3" y="366.0" width="5.7" height="5.4" fill="#e3cccd"/><rect x="658.6" y="356.0" width="5.7" height="5.4" fill="#e3cccd"/><rect x="658.6" y="361.0" width="5.7" height="5.4" fill="#e3cccd"/><rect x="658.6" y="366.0" width="5.7" height="5.4" fill="#dcc6c9"/><rect x="663.8" y="356.0" width="5.7" height="5.4" fill="#dcc6c9"/><rect x="663.8" y="361.0" width="5.7" height="5.4" fill="#d4bfc4"/><rect x="663.8" y="366.0" width="5.7" height="5.4" fill="#e3cccd"/><rect x="669.1" y="356.0" width="5.7" height="5.4" fill="#e3cccd"/><rect x="669.1" y="361.0" width="5.7" height="5.4" fill="#d4bfc4"/><rect x="669.1" y="366.0" width="5.7" height="5.4" fill="#ebd2d2"/><rect x="674.4" y="356.0" width="5.7" height="5.4" fill="#ebd2d2"/><rect x="674.4" y="361.0" width="5.7" height="5.4" fill="#b6a7b0"/><rect x="674.4" y="366.0" width="5.7" height="5.4" fill="#ebd2d2"/><rect x="679.7" y="356.0" width="5.7" height="5.4" fill="#dcc6c9"/><rect x="679.7" y="361.0" width="5.7" height="5.4" fill="#e3cccd"/><rect x="679.7" y="366.0" width="5.7" height="5.4" fill="#e3cccd"/><rect x="684.9" y="356.0" width="5.7" height="5.4" fill="#dcc6c9"/><rect x="684.9" y="361.0" width="5.7" height="5.4" fill="#c2b0b8"/><rect x="684.9" y="366.0" width="5.7" height="5.4" fill="#dcc6c9"/><rect x="690.2" y="356.0" width="5.7" height="5.4" fill="#e3cccd"/><rect x="690.2" y="361.0" width="5.7" height="5.4" fill="#e3cccd"/><rect x="690.2" y="366.0" width="5.7" height="5.4" fill="#d4bfc4"/><rect x="695.5" y="356.0" width="5.7" height="5.4" fill="#e3cccd"/><rect x="695.5" y="361.0" width="5.7" height="5.4" fill="#cbb8be"/><rect x="695.5" y="366.0" width="5.7" height="5.4" fill="#e3cccd"/><rect x="700.8" y="356.0" width="5.7" height="5.4" fill="#dcc6c9"/><rect x="700.8" y="361.0" width="5.7" height="5.4" fill="#dcc6c9"/><rect x="700.8" y="366.0" width="5.7" height="5.4" fill="#dcc6c9"/><rect x="706.1" y="356.0" width="5.7" height="5.4" fill="#d4bfc4"/><rect x="706.1" y="361.0" width="5.7" height="5.4" fill="#e3cccd"/><rect x="706.1" y="366.0" width="5.7" height="5.4" fill="#d4bfc4"/><rect x="711.3" y="356.0" width="5.7" height="5.4" fill="#d4bfc4"/><rect x="711.3" y="361.0" width="5.7" height="5.4" fill="#a99ca6"/><rect x="711.3" y="366.0" width="5.7" height="5.4" fill="#ebd2d2"/><rect x="716.6" y="356.0" width="5.7" height="5.4" fill="#e3cccd"/><rect x="716.6" y="361.0" width="5.7" height="5.4" fill="#e3cccd"/><rect x="716.6" y="366.0" width="5.7" height="5.4" fill="#d4bfc4"/><rect x="721.9" y="356.0" width="5.7" height="5.4" fill="#dcc6c9"/><rect x="721.9" y="361.0" width="5.7" height="5.4" fill="#dcc6c9"/><rect x="721.9" y="366.0" width="5.7" height="5.4" fill="#dcc6c9"/><rect x="727.2" y="356.0" width="5.7" height="5.4" fill="#ebd2d2"/><rect x="727.2" y="361.0" width="5.7" height="5.4" fill="#a99ca6"/><rect x="727.2" y="366.0" width="5.7" height="5.4" fill="#dcc6c9"/><rect x="732.4" y="356.0" width="5.7" height="5.4" fill="#dcc6c9"/><rect x="732.4" y="361.0" width="5.7" height="5.4" fill="#d4bfc4"/><rect x="732.4" y="366.0" width="5.7" height="5.4" fill="#e3cccd"/><rect x="737.7" y="356.0" width="5.7" height="5.4" fill="#dcc6c9"/><rect x="737.7" y="361.0" width="5.7" height="5.4" fill="#b6a7b0"/><rect x="737.7" y="366.0" width="5.7" height="5.4" fill="#e3cccd"/></g>
<g filter="url(#mb2)" opacity="0.9"><rect x="738.6" y="367.0" width="5.9" height="6.4" fill="#c0a0c5"/><rect x="738.6" y="373.0" width="5.9" height="6.4" fill="#edbfc0"/><rect x="744.1" y="367.0" width="5.9" height="6.4" fill="#e9bbc0"/><rect x="744.1" y="373.0" width="5.9" height="6.4" fill="#dab3cc"/><rect x="749.6" y="367.0" width="5.9" height="6.4" fill="#f0c4c2"/><rect x="749.6" y="373.0" width="5.9" height="6.4" fill="#c9a6c8"/><rect x="755.1" y="367.0" width="5.9" height="6.4" fill="#d2adca"/><rect x="755.1" y="373.0" width="5.9" height="6.4" fill="#edbfc0"/><rect x="760.6" y="367.0" width="5.9" height="6.4" fill="#c9a6c8"/><rect x="760.6" y="373.0" width="5.9" height="6.4" fill="#e6b7be"/><rect x="766.1" y="367.0" width="5.9" height="6.4" fill="#b69ac2"/><rect x="766.1" y="373.0" width="5.9" height="6.4" fill="#edbfc0"/><rect x="771.6" y="367.0" width="5.9" height="6.4" fill="#edbfc0"/><rect x="771.6" y="373.0" width="5.9" height="6.4" fill="#e2b9cc"/><rect x="777.1" y="367.0" width="5.9" height="6.4" fill="#e2b9cc"/><rect x="777.1" y="373.0" width="5.9" height="6.4" fill="#e2b9cc"/><rect x="782.6" y="367.0" width="5.9" height="6.4" fill="#e6b7be"/><rect x="782.6" y="373.0" width="5.9" height="6.4" fill="#e2b3bc"/><rect x="788.1" y="367.0" width="5.9" height="6.4" fill="#b69ac2"/><rect x="788.1" y="373.0" width="5.9" height="6.4" fill="#d2adca"/><rect x="793.6" y="367.0" width="5.9" height="6.4" fill="#e4b0b4"/><rect x="793.6" y="373.0" width="5.9" height="6.4" fill="#dcadba"/><rect x="799.1" y="367.0" width="5.9" height="6.4" fill="#c0a0c5"/><rect x="799.1" y="373.0" width="5.9" height="6.4" fill="#c0a0c5"/></g>
<g filter="url(#mb2)" opacity="0.9"><rect x="750.0" y="386.7" width="5.6" height="6.2" fill="#a99ca6"/><rect x="750.0" y="392.4" width="5.6" height="6.2" fill="#e9bbc0"/><rect x="755.2" y="386.7" width="5.6" height="6.2" fill="#edbfc0"/><rect x="755.2" y="392.4" width="5.6" height="6.2" fill="#d4bfc4"/><rect x="760.3" y="386.7" width="5.6" height="6.2" fill="#cbb8be"/><rect x="760.3" y="392.4" width="5.6" height="6.2" fill="#b6a7b0"/><rect x="765.5" y="386.7" width="5.6" height="6.2" fill="#f0c4c2"/><rect x="765.5" y="392.4" width="5.6" height="6.2" fill="#f0c4c2"/><rect x="770.7" y="386.7" width="5.6" height="6.2" fill="#c2b0b8"/><rect x="770.7" y="392.4" width="5.6" height="6.2" fill="#e2b3bc"/><rect x="775.8" y="386.7" width="5.6" height="6.2" fill="#dcadba"/><rect x="775.8" y="392.4" width="5.6" height="6.2" fill="#cbb8be"/><rect x="781.0" y="386.7" width="5.6" height="6.2" fill="#dcc6c9"/><rect x="781.0" y="392.4" width="5.6" height="6.2" fill="#c2b0b8"/><rect x="786.2" y="386.7" width="5.6" height="6.2" fill="#ebd2d2"/><rect x="786.2" y="392.4" width="5.6" height="6.2" fill="#edbfc0"/><rect x="791.3" y="386.7" width="5.6" height="6.2" fill="#e6b7be"/><rect x="791.3" y="392.4" width="5.6" height="6.2" fill="#e2b3bc"/><rect x="796.5" y="386.7" width="5.6" height="6.2" fill="#dcadba"/><rect x="796.5" y="392.4" width="5.6" height="6.2" fill="#b6a7b0"/><rect x="801.7" y="386.7" width="5.6" height="6.2" fill="#a99ca6"/><rect x="801.7" y="392.4" width="5.6" height="6.2" fill="#edbfc0"/><rect x="806.8" y="386.7" width="5.6" height="6.2" fill="#d6a8b8"/><rect x="806.8" y="392.4" width="5.6" height="6.2" fill="#d6a8b8"/></g>
<g filter="url(#mb2)" opacity="0.9"><rect x="812.5" y="336.0" width="5.9" height="4.9" fill="#c9a6c8"/><rect x="812.5" y="340.5" width="5.9" height="4.9" fill="#dcc6c9"/><rect x="812.5" y="345.0" width="5.9" height="4.9" fill="#d2adca"/><rect x="818.0" y="336.0" width="5.9" height="4.9" fill="#dab3cc"/><rect x="818.0" y="340.5" width="5.9" height="4.9" fill="#a99ca6"/><rect x="818.0" y="345.0" width="5.9" height="4.9" fill="#dab3cc"/><rect x="823.4" y="336.0" width="5.9" height="4.9" fill="#b69ac2"/><rect x="823.4" y="340.5" width="5.9" height="4.9" fill="#b6a7b0"/><rect x="823.4" y="345.0" width="5.9" height="4.9" fill="#d2adca"/><rect x="828.9" y="336.0" width="5.9" height="4.9" fill="#dab3cc"/><rect x="828.9" y="340.5" width="5.9" height="4.9" fill="#c2b0b8"/><rect x="828.9" y="345.0" width="5.9" height="4.9" fill="#d2adca"/><rect x="834.4" y="336.0" width="5.9" height="4.9" fill="#d2adca"/><rect x="834.4" y="340.5" width="5.9" height="4.9" fill="#dab3cc"/><rect x="834.4" y="345.0" width="5.9" height="4.9" fill="#d2adca"/><rect x="839.8" y="336.0" width="5.9" height="4.9" fill="#b69ac2"/><rect x="839.8" y="340.5" width="5.9" height="4.9" fill="#c9a6c8"/><rect x="839.8" y="345.0" width="5.9" height="4.9" fill="#e8c0cc"/><rect x="845.3" y="336.0" width="5.9" height="4.9" fill="#e2b9cc"/><rect x="845.3" y="340.5" width="5.9" height="4.9" fill="#b6a7b0"/><rect x="845.3" y="345.0" width="5.9" height="4.9" fill="#dab3cc"/><rect x="850.8" y="336.0" width="5.9" height="4.9" fill="#e2b9cc"/><rect x="850.8" y="340.5" width="5.9" height="4.9" fill="#dcc6c9"/><rect x="850.8" y="345.0" width="5.9" height="4.9" fill="#d2adca"/><rect x="856.2" y="336.0" width="5.9" height="4.9" fill="#dab3cc"/><rect x="856.2" y="340.5" width="5.9" height="4.9" fill="#a99ca6"/><rect x="856.2" y="345.0" width="5.9" height="4.9" fill="#c9a6c8"/><rect x="861.7" y="336.0" width="5.9" height="4.9" fill="#c0a0c5"/><rect x="861.7" y="340.5" width="5.9" height="4.9" fill="#c9a6c8"/><rect x="861.7" y="345.0" width="5.9" height="4.9" fill="#e8c0cc"/><rect x="867.2" y="336.0" width="5.9" height="4.9" fill="#b69ac2"/><rect x="867.2" y="340.5" width="5.9" height="4.9" fill="#d2adca"/><rect x="867.2" y="345.0" width="5.9" height="4.9" fill="#b69ac2"/><rect x="872.6" y="336.0" width="5.9" height="4.9" fill="#e2b9cc"/><rect x="872.6" y="340.5" width="5.9" height="4.9" fill="#c9a6c8"/><rect x="872.6" y="345.0" width="5.9" height="4.9" fill="#c9a6c8"/><rect x="878.1" y="336.0" width="5.9" height="4.9" fill="#d2adca"/><rect x="878.1" y="340.5" width="5.9" height="4.9" fill="#e2b9cc"/><rect x="878.1" y="345.0" width="5.9" height="4.9" fill="#c9a6c8"/><rect x="883.6" y="336.0" width="5.9" height="4.9" fill="#c9a6c8"/><rect x="883.6" y="340.5" width="5.9" height="4.9" fill="#c2b0b8"/><rect x="883.6" y="345.0" width="5.9" height="4.9" fill="#e2b9cc"/><rect x="889.0" y="336.0" width="5.9" height="4.9" fill="#e8c0cc"/><rect x="889.0" y="340.5" width="5.9" height="4.9" fill="#ebd2d2"/><rect x="889.0" y="345.0" width="5.9" height="4.9" fill="#c9a6c8"/></g>
<g filter="url(#mb2)" opacity="0.9"><rect x="898.0" y="341.0" width="5.5" height="5.7" fill="#e4b0b4"/><rect x="898.0" y="346.2" width="5.5" height="5.7" fill="#edbfc0"/><rect x="903.1" y="341.0" width="5.5" height="5.7" fill="#e2b3bc"/><rect x="903.1" y="346.2" width="5.5" height="5.7" fill="#edbfc0"/><rect x="908.3" y="341.0" width="5.5" height="5.7" fill="#dcc6c9"/><rect x="908.3" y="346.2" width="5.5" height="5.7" fill="#cbb8be"/><rect x="913.4" y="341.0" width="5.5" height="5.7" fill="#e2b3bc"/><rect x="913.4" y="346.2" width="5.5" height="5.7" fill="#d4bfc4"/><rect x="918.6" y="341.0" width="5.5" height="5.7" fill="#ebd2d2"/><rect x="918.6" y="346.2" width="5.5" height="5.7" fill="#e4b0b4"/><rect x="923.7" y="341.0" width="5.5" height="5.7" fill="#d4bfc4"/><rect x="923.7" y="346.2" width="5.5" height="5.7" fill="#ebd2d2"/><rect x="928.9" y="341.0" width="5.5" height="5.7" fill="#b6a7b0"/><rect x="928.9" y="346.2" width="5.5" height="5.7" fill="#cbb8be"/><rect x="934.0" y="341.0" width="5.5" height="5.7" fill="#e2b3bc"/><rect x="934.0" y="346.2" width="5.5" height="5.7" fill="#edbfc0"/><rect x="939.1" y="341.0" width="5.5" height="5.7" fill="#e2b3bc"/><rect x="939.1" y="346.2" width="5.5" height="5.7" fill="#dcc6c9"/><rect x="944.3" y="341.0" width="5.5" height="5.7" fill="#b6a7b0"/><rect x="944.3" y="346.2" width="5.5" height="5.7" fill="#d4bfc4"/><rect x="949.4" y="341.0" width="5.5" height="5.7" fill="#f0c4c2"/><rect x="949.4" y="346.2" width="5.5" height="5.7" fill="#e9bbc0"/><rect x="954.6" y="341.0" width="5.5" height="5.7" fill="#e2b3bc"/><rect x="954.6" y="346.2" width="5.5" height="5.7" fill="#cbb8be"/><rect x="959.7" y="341.0" width="5.5" height="5.7" fill="#cbb8be"/><rect x="959.7" y="346.2" width="5.5" height="5.7" fill="#c2b0b8"/><rect x="964.9" y="341.0" width="5.5" height="5.7" fill="#e2b3bc"/><rect x="964.9" y="346.2" width="5.5" height="5.7" fill="#d6a8b8"/></g>
<g filter="url(#mb2)" opacity="0.9"><rect x="970.0" y="341.0" width="6.4" height="5.7" fill="#edbfc0"/><rect x="970.0" y="346.2" width="6.4" height="5.7" fill="#f0c4c2"/><rect x="976.0" y="341.0" width="6.4" height="5.7" fill="#edbfc0"/><rect x="976.0" y="346.2" width="6.4" height="5.7" fill="#edbfc0"/></g>
<g filter="url(#mb2)" opacity="0.9"><rect x="982.0" y="334.6" width="5.9" height="5.7" fill="#d6a8b8"/><rect x="982.0" y="339.9" width="5.9" height="5.7" fill="#e9bbc0"/><rect x="987.5" y="334.6" width="5.9" height="5.7" fill="#e9bbc0"/><rect x="987.5" y="339.9" width="5.9" height="5.7" fill="#d6a8b8"/><rect x="993.0" y="334.6" width="5.9" height="5.7" fill="#d6a8b8"/><rect x="993.0" y="339.9" width="5.9" height="5.7" fill="#d6a8b8"/><rect x="998.5" y="334.6" width="5.9" height="5.7" fill="#dcadba"/><rect x="998.5" y="339.9" width="5.9" height="5.7" fill="#e6b7be"/></g>
<g filter="url(#mb2)" opacity="0.9"><rect x="1004.0" y="334.6" width="5.6" height="5.7" fill="#c4d0e4"/><rect x="1004.0" y="339.9" width="5.6" height="5.7" fill="#b9c6dc"/><rect x="1009.2" y="334.6" width="5.6" height="5.7" fill="#cdd8ea"/><rect x="1009.2" y="339.9" width="5.6" height="5.7" fill="#cdd8ea"/><rect x="1014.4" y="334.6" width="5.6" height="5.7" fill="#aab8d0"/><rect x="1014.4" y="339.9" width="5.6" height="5.7" fill="#c4d0e4"/><rect x="1019.6" y="334.6" width="5.6" height="5.7" fill="#b9c6dc"/><rect x="1019.6" y="339.9" width="5.6" height="5.7" fill="#aab8d0"/><rect x="1024.8" y="334.6" width="5.6" height="5.7" fill="#aab8d0"/><rect x="1024.8" y="339.9" width="5.6" height="5.7" fill="#b9c6dc"/></g>
<g filter="url(#mb2)" opacity="0.9"><rect x="946.0" y="379.5" width="5.9" height="6.9" fill="#e6b7be"/><rect x="946.0" y="386.0" width="5.9" height="6.9" fill="#e6b7be"/><rect x="951.5" y="379.5" width="5.9" height="6.9" fill="#f0c4c2"/><rect x="951.5" y="386.0" width="5.9" height="6.9" fill="#e6b7be"/><rect x="957.0" y="379.5" width="5.9" height="6.9" fill="#e9bbc0"/><rect x="957.0" y="386.0" width="5.9" height="6.9" fill="#d6a8b8"/><rect x="962.5" y="379.5" width="5.9" height="6.9" fill="#dcadba"/><rect x="962.5" y="386.0" width="5.9" height="6.9" fill="#dcadba"/><rect x="968.0" y="379.5" width="5.9" height="6.9" fill="#edbfc0"/><rect x="968.0" y="386.0" width="5.9" height="6.9" fill="#e9bbc0"/><rect x="973.5" y="379.5" width="5.9" height="6.9" fill="#edbfc0"/><rect x="973.5" y="386.0" width="5.9" height="6.9" fill="#e2b3bc"/><rect x="979.0" y="379.5" width="5.9" height="6.9" fill="#dcadba"/><rect x="979.0" y="386.0" width="5.9" height="6.9" fill="#edbfc0"/><rect x="984.5" y="379.5" width="5.9" height="6.9" fill="#f0c4c2"/><rect x="984.5" y="386.0" width="5.9" height="6.9" fill="#dcadba"/></g>
<g filter="url(#mb2)" opacity="0.9"><rect x="990.0" y="381.5" width="5.2" height="6.2" fill="#aab8d0"/><rect x="990.0" y="387.2" width="5.2" height="6.2" fill="#b9c6dc"/><rect x="994.8" y="381.5" width="5.2" height="6.2" fill="#c4d0e4"/><rect x="994.8" y="387.2" width="5.2" height="6.2" fill="#cdd8ea"/><rect x="999.6" y="381.5" width="5.2" height="6.2" fill="#b9c6dc"/><rect x="999.6" y="387.2" width="5.2" height="6.2" fill="#cdd8ea"/><rect x="1004.4" y="381.5" width="5.2" height="6.2" fill="#c4d0e4"/><rect x="1004.4" y="387.2" width="5.2" height="6.2" fill="#cdd8ea"/><rect x="1009.2" y="381.5" width="5.2" height="6.2" fill="#b9c6dc"/><rect x="1009.2" y="387.2" width="5.2" height="6.2" fill="#c4d0e4"/></g>
<path d="M494.2 101.39999999999999l-2.800-3.200h5.600z" fill="#1fc06c"/><circle cx="494.2" cy="92" r="6.8" fill="#1fc06c"/><path d="M490.0 95l3.400-7 1.900 3.400 1.300-1.800 2.400 5.400z" fill="#fff"/>
<path d="M478.5 129.3l-2.800-3.200h5.600z" fill="#1fc06c"/><circle cx="478.5" cy="119.9" r="6.8" fill="#1fc06c"/><path d="M474.3 122.9l3.400-7 1.900 3.400 1.300-1.800 2.400 5.400z" fill="#fff"/>
<path d="M1253 85.8l-2.800-3.200h5.600z" fill="#1fc06c"/><circle cx="1253" cy="76.5" r="6.7" fill="#1fc06c"/><path d="M1251 72.3l2 5.400h-4zM1255.2 73.5l1.700 4.200h-3.400zM1249.1 79.4h8v1.100h-8zM1250.6 77.7h.9v2h-.9zM1254.8 77.7h.9v2h-.9z" fill="#fff"/>
<path d="M1088 110.8l-2.800-3.200h5.600z" fill="#1fc06c"/><circle cx="1088" cy="101.5" r="6.7" fill="#1fc06c"/><path d="M1086 97.3l2 5.400h-4zM1090.2 98.5l1.700 4.200h-3.400zM1084.1 104.4h8v1.100h-8zM1085.6 102.7h.9v2h-.9zM1089.8 102.7h.9v2h-.9z" fill="#fff"/>
<path d="M500.5 355.3l-2.800-3.200h5.600z" fill="#1fc06c"/><circle cx="500.5" cy="346" r="6.7" fill="#1fc06c"/><path d="M498.5 341.8l2 5.400h-4zM502.7 343l1.700 4.200h-3.400zM496.6 348.9h8v1.100h-8zM498.1 347.2h.9v2h-.9zM502.3 347.2h.9v2h-.9z" fill="#fff"/>
<path d="M552.7 438.3l-2.800-3.200h5.600z" fill="#1fc06c"/><circle cx="552.7" cy="429" r="6.7" fill="#1fc06c"/><path d="M550.7 424.8l2 5.400h-4zM554.9000000000001 426l1.700 4.200h-3.400zM548.8000000000001 431.9h8v1.100h-8zM550.3000000000001 430.2h.9v2h-.9zM554.5 430.2h.9v2h-.9z" fill="#fff"/>
<path d="M657.5 172.89999999999998l-2.800-3.200h5.600z" fill="#5fae7c"/><circle cx="657.5" cy="163.6" r="6.7" fill="#5fae7c"/><path d="M655.5 159.4l2 5.400h-4zM659.7 160.6l1.700 4.200h-3.400zM653.6 166.5h8v1.100h-8zM655.1 164.79999999999998h.9v2h-.9zM659.3 164.79999999999998h.9v2h-.9z" fill="#fff"/>
<path d="M707.2 117.3l-2.800-3.200h5.600z" fill="#5fae7c"/><circle cx="707.2" cy="108" r="6.7" fill="#5fae7c"/><path d="M705.2 103.8l2 5.400h-4zM709.4000000000001 105l1.700 4.200h-3.400zM703.3000000000001 110.9h8v1.100h-8zM704.8000000000001 109.2h.9v2h-.9zM709.0 109.2h.9v2h-.9z" fill="#fff"/>
<path d="M767.8 193.79999999999998l-2.800-3.200h5.600z" fill="#5fae7c"/><circle cx="767.8" cy="184.5" r="6.7" fill="#5fae7c"/><path d="M765.8 180.3l2 5.400h-4zM770.0 181.5l1.700 4.200h-3.400zM763.9 187.4h8v1.100h-8zM765.4 185.7h.9v2h-.9zM769.5999999999999 185.7h.9v2h-.9z" fill="#fff"/>
<path d="M466.9 271.5l-2.800-3.200h5.600z" fill="#5fae7c"/><circle cx="466.9" cy="262.2" r="6.7" fill="#5fae7c"/><path d="M464.9 258.0l2 5.400h-4zM469.09999999999997 259.2l1.700 4.200h-3.400zM463.0 265.09999999999997h8v1.100h-8zM464.5 263.4h.9v2h-.9zM468.7 263.4h.9v2h-.9z" fill="#fff"/>
<path d="M547.3 279.7l-2.800-3.200h5.600z" fill="#5fae7c"/><circle cx="547.3" cy="270.4" r="6.7" fill="#5fae7c"/><path d="M545.3 266.2l2 5.400h-4zM549.5 267.4l1.700 4.200h-3.400zM543.4 273.29999999999995h8v1.100h-8zM544.9 271.59999999999997h.9v2h-.9zM549.0999999999999 271.59999999999997h.9v2h-.9z" fill="#fff"/>
<path d="M685.5 334.8l-2.800-3.200h5.600z" fill="#5fae7c"/><circle cx="685.5" cy="325.5" r="6.7" fill="#5fae7c"/><path d="M683.5 321.3l2 5.400h-4zM687.7 322.5l1.700 4.200h-3.400zM681.6 328.4h8v1.100h-8zM683.1 326.7h.9v2h-.9zM687.3 326.7h.9v2h-.9z" fill="#fff"/>
<path d="M974 347.8l-2.800-3.200h5.600z" fill="#5fae7c"/><circle cx="974" cy="338.5" r="6.7" fill="#5fae7c"/><path d="M972 334.3l2 5.400h-4zM976.2 335.5l1.700 4.200h-3.400zM970.1 341.4h8v1.100h-8zM971.6 339.7h.9v2h-.9zM975.8 339.7h.9v2h-.9z" fill="#fff"/>
<path d="M940.1 397.1l-2.800-3.200h5.600z" fill="#5fae7c"/><circle cx="940.1" cy="387.7" r="6.8" fill="#5fae7c"/><path d="M936.3000000000001 388.3c1.300-3.200 4.600-3.600 6.400-2l2-.6-1.300 2c0 2.600-2.600 3.800-5.200 3.200z" fill="#fff"/>
<path d="M460.500 235l-2.800-3.200h5.600z" fill="#5e9fd8"/><circle cx="460.500" cy="225.500" r="6.800" fill="#5e9fd8"/><path d="M456.500 224.500l4-1.800 4 1.800-4 1.800zM458 226.200v1.600c1.600 1.100 3.400 1.100 5 0v-1.600l-2.500 1.100z" fill="#fff"/>
<path d="M845.500 139.500l-2.200-2.800h4.400z" fill="#6d84e0"/><rect x="839" y="125" width="13" height="13" rx="2.500" fill="#6d84e0"/><path d="M842.700 134.500v-4a2.800 2.800 0 0 1 5.600 0v4h-1.600v-3.500h-2.400v3.500z" fill="#fff"/>
<path d="M756.500 235l-2.200-2.800h4.400z" fill="#6d8ce0"/><rect x="750" y="221" width="13" height="13" rx="2" fill="#6d8ce0"/><path d="M756.500 223.200c.5 0 .7.600.7 1.400v1.800l3.300 2v.9l-3.300-1v1.800l1 .8v.7l-1.700-.5-1.700.5v-.7l1-.8v-1.800l-3.300 1v-.9l3.300-2v-1.800c0-.8.200-1.400.7-1.400z" fill="#fff"/>
<path d="M703.700 292l-2.300-2.800h4.600z" fill="#ee8a3c"/><circle cx="703.700" cy="283.300" r="7" fill="#ee8a3c"/><path d="M700 282l3.700-2.300 3.700 2.300v.7h-7.400zM700.800 283.300h1v2.400h-1zM703.200 283.300h1v2.400h-1zM705.600 283.300h1v2.400h-1zM700 286.200h7.400v.9h-7.400z" fill="#fff"/>
<circle cx="731" cy="369.5" r="6.800" fill="#4e93c4" fill-opacity=".9"/><ellipse cx="731" cy="369.5" rx="3.800" ry="2.500" fill="none" stroke="#fff" stroke-width=".9"/>
<circle cx="741" cy="390.3" r="6.800" fill="#4e93c4" fill-opacity=".9"/><ellipse cx="741" cy="390.3" rx="3.800" ry="2.500" fill="none" stroke="#fff" stroke-width=".9"/>
<text x="511.5" y="64.8" font-size="8.5" fill="#8d9097" >西岗</text>
<text x="549.5" y="106.5" font-size="8.5" fill="#8d9097" >荆条沟</text>
<text x="480.5" y="110.5" font-size="9.4" fill="#50545c" >大牛山</text>
<text x="488" y="124.5" font-size="9.4" fill="#50545c" >北大望子山</text>
<text x="1071" y="77" font-size="11.3" fill="#8a90a2" >金州区</text>
<text x="1060" y="120" font-size="9.5" fill="#5e626b" >童牛岭风景区</text>
<text x="1022" y="82.3" font-size="10" fill="#3a3a3a" text-anchor="middle" dominant-baseline="central" transform="rotate(35 1022 82.3)">振</text>
<text x="1014.8" y="91.8" font-size="10" fill="#3a3a3a" text-anchor="middle" dominant-baseline="central" transform="rotate(35 1014.8 91.8)">兴</text>
<text x="1006.8" y="99.8" font-size="10" fill="#3a3a3a" text-anchor="middle" dominant-baseline="central" transform="rotate(35 1006.8 99.8)">路</text>
<text x="919" y="132.5" font-size="10" fill="#5a5a5a" text-anchor="middle" dominant-baseline="central" transform="rotate(-22 919 132.5)">振</text>
<text x="930.3" y="129.3" font-size="10" fill="#5a5a5a" text-anchor="middle" dominant-baseline="central" transform="rotate(-22 930.3 129.3)">连</text>
<text x="940.7" y="124.5" font-size="10" fill="#5a5a5a" text-anchor="middle" dominant-baseline="central" transform="rotate(-22 940.7 124.5)">路</text>
<text x="472.5" y="364" font-size="9.4" fill="#5a5e66" >英歌石植物园</text>
<text x="561" y="433.8" font-size="9.4" fill="#5a5e66" >龙王塘樱花园</text>
<text x="469" y="229" font-size="9.3" fill="#94828a" >辽宁警察学院</text>
<text x="425.5" y="260.5" font-size="9.3" fill="#777" >连旅顺</text>
<text x="424" y="272.5" font-size="9.3" fill="#666" >口牡丹园</text>
<text x="765" y="224.5" font-size="9.3" fill="#a08a94" >大连周水子</text>
<text x="765" y="235.5" font-size="9.3" fill="#a08a94" >国际机场</text>
<text x="836" y="322" font-size="13" fill="#7d6458" fill-opacity=".75" letter-spacing="1">大连市</text>
<text x="811" y="52.5" font-size="9.4" fill="#7a6468" >松树岭立交桥</text>
<g filter="url(#mb2)"><rect x="659" y="54" width="272" height="41.500" fill="#fdfcfc" /></g>
<rect x="660" y="55" width="270" height="39.500" fill="#fcf9f9" fill-opacity=".93"/>
<g filter="url(#mb2)" opacity="0.95"><rect x="680.0" y="62.0" width="5.0" height="5.6" fill="#eeecef"/><rect x="680.0" y="67.2" width="5.0" height="5.6" fill="#f0eef4"/><rect x="680.0" y="72.4" width="5.0" height="5.6" fill="#ebe9ee"/><rect x="680.0" y="77.6" width="5.0" height="5.6" fill="#eeecef"/><rect x="680.0" y="82.8" width="5.0" height="5.6" fill="#f3f1f3"/><rect x="684.6" y="62.0" width="5.0" height="5.6" fill="#eeecef"/><rect x="684.6" y="67.2" width="5.0" height="5.6" fill="#ebe9ee"/><rect x="684.6" y="72.4" width="5.0" height="5.6" fill="#f0eef4"/><rect x="684.6" y="77.6" width="5.0" height="5.6" fill="#eeecef"/><rect x="684.6" y="82.8" width="5.0" height="5.6" fill="#f3f1f3"/><rect x="689.1" y="62.0" width="5.0" height="5.6" fill="#eeecef"/><rect x="689.1" y="67.2" width="5.0" height="5.6" fill="#f3f1f3"/><rect x="689.1" y="72.4" width="5.0" height="5.6" fill="#f0eef4"/><rect x="689.1" y="77.6" width="5.0" height="5.6" fill="#eeecef"/><rect x="689.1" y="82.8" width="5.0" height="5.6" fill="#f3f1f3"/><rect x="693.7" y="62.0" width="5.0" height="5.6" fill="#f3f1f3"/><rect x="693.7" y="67.2" width="5.0" height="5.6" fill="#eeecef"/><rect x="693.7" y="72.4" width="5.0" height="5.6" fill="#f6f4f6"/><rect x="693.7" y="77.6" width="5.0" height="5.6" fill="#eeecef"/><rect x="693.7" y="82.8" width="5.0" height="5.6" fill="#f3f1f3"/><rect x="698.2" y="62.0" width="5.0" height="5.6" fill="#f3f1f3"/><rect x="698.2" y="67.2" width="5.0" height="5.6" fill="#ebe9ee"/><rect x="698.2" y="72.4" width="5.0" height="5.6" fill="#f6f4f6"/><rect x="698.2" y="77.6" width="5.0" height="5.6" fill="#eeecef"/><rect x="698.2" y="82.8" width="5.0" height="5.6" fill="#eeecef"/><rect x="702.8" y="62.0" width="5.0" height="5.6" fill="#f3f1f3"/><rect x="702.8" y="67.2" width="5.0" height="5.6" fill="#f6f4f6"/><rect x="702.8" y="72.4" width="5.0" height="5.6" fill="#f6f4f6"/><rect x="702.8" y="77.6" width="5.0" height="5.6" fill="#ebe9ee"/><rect x="702.8" y="82.8" width="5.0" height="5.6" fill="#f3f1f3"/><rect x="707.3" y="62.0" width="5.0" height="5.6" fill="#f3f1f3"/><rect x="707.3" y="67.2" width="5.0" height="5.6" fill="#f3f1f3"/><rect x="707.3" y="72.4" width="5.0" height="5.6" fill="#f6f4f6"/><rect x="707.3" y="77.6" width="5.0" height="5.6" fill="#f3f1f3"/><rect x="707.3" y="82.8" width="5.0" height="5.6" fill="#eeecef"/><rect x="711.9" y="62.0" width="5.0" height="5.6" fill="#f3f1f3"/><rect x="711.9" y="67.2" width="5.0" height="5.6" fill="#eeecef"/><rect x="711.9" y="72.4" width="5.0" height="5.6" fill="#eeecef"/><rect x="711.9" y="77.6" width="5.0" height="5.6" fill="#eeecef"/><rect x="711.9" y="82.8" width="5.0" height="5.6" fill="#eeecef"/><rect x="716.4" y="62.0" width="5.0" height="5.6" fill="#eeecef"/><rect x="716.4" y="67.2" width="5.0" height="5.6" fill="#f6f4f6"/><rect x="716.4" y="72.4" width="5.0" height="5.6" fill="#f3f1f3"/><rect x="716.4" y="77.6" width="5.0" height="5.6" fill="#f6f4f6"/><rect x="716.4" y="82.8" width="5.0" height="5.6" fill="#f3f1f3"/></g>
<g filter="url(#mb2)" opacity="0.95"><rect x="680.0" y="63.5" width="5.0" height="6.9" fill="#d5d3d4"/><rect x="684.6" y="63.5" width="5.0" height="6.9" fill="#c2c0c3"/><rect x="689.1" y="63.5" width="5.0" height="6.9" fill="#c2c0c3"/><rect x="693.7" y="63.5" width="5.0" height="6.9" fill="#d5d3d4"/><rect x="698.2" y="63.5" width="5.0" height="6.9" fill="#c2c0c3"/><rect x="702.8" y="63.5" width="5.0" height="6.9" fill="#d5d3d4"/><rect x="707.3" y="63.5" width="5.0" height="6.9" fill="#c2c0c3"/><rect x="716.4" y="63.5" width="5.0" height="6.9" fill="#d5d3d4"/></g>
<g filter="url(#mb2)" opacity="0.95"><rect x="680.0" y="78.5" width="5.3" height="6.9" fill="#b8b6b9"/><rect x="684.9" y="78.5" width="5.3" height="6.9" fill="#c2c0c3"/><rect x="689.7" y="78.5" width="5.3" height="6.9" fill="#b8b6b9"/><rect x="694.6" y="78.5" width="5.3" height="6.9" fill="#cbc9cb"/><rect x="699.5" y="78.5" width="5.3" height="6.9" fill="#d5d3d4"/><rect x="704.3" y="78.5" width="5.3" height="6.9" fill="#c2c0c3"/><rect x="709.2" y="78.5" width="5.3" height="6.9" fill="#cbc9cb"/></g>
<g filter="url(#mb2)" opacity="0.95"><rect x="664.0" y="66.0" width="5.9" height="5.2" fill="#8fb3b8"/><rect x="664.0" y="70.8" width="5.9" height="5.2" fill="#a3c2c6"/><rect x="664.0" y="75.5" width="5.9" height="5.2" fill="#a3c2c6"/><rect x="664.0" y="80.2" width="5.9" height="5.2" fill="#8fb3b8"/><rect x="669.5" y="66.0" width="5.9" height="5.2" fill="#6f9da4"/><rect x="669.5" y="70.8" width="5.9" height="5.2" fill="#cfe0e2"/><rect x="669.5" y="75.5" width="5.9" height="5.2" fill="#cfe0e2"/><rect x="669.5" y="80.2" width="5.9" height="5.2" fill="#6f9da4"/></g>
<g filter="url(#mb2)" opacity="0.95"><rect x="748.5" y="62.0" width="5.1" height="5.6" fill="#eeecef"/><rect x="748.5" y="67.2" width="5.1" height="5.6" fill="#f6f4f6"/><rect x="748.5" y="72.4" width="5.1" height="5.6" fill="#eeecef"/><rect x="748.5" y="77.6" width="5.1" height="5.6" fill="#f0eef4"/><rect x="748.5" y="82.8" width="5.1" height="5.6" fill="#eeecef"/><rect x="753.2" y="62.0" width="5.1" height="5.6" fill="#f3f1f3"/><rect x="753.2" y="67.2" width="5.1" height="5.6" fill="#f6f4f6"/><rect x="753.2" y="72.4" width="5.1" height="5.6" fill="#f0eef4"/><rect x="753.2" y="77.6" width="5.1" height="5.6" fill="#f6f4f6"/><rect x="753.2" y="82.8" width="5.1" height="5.6" fill="#eeecef"/><rect x="757.8" y="62.0" width="5.1" height="5.6" fill="#f3f1f3"/><rect x="757.8" y="67.2" width="5.1" height="5.6" fill="#f6f4f6"/><rect x="757.8" y="72.4" width="5.1" height="5.6" fill="#f6f4f6"/><rect x="757.8" y="77.6" width="5.1" height="5.6" fill="#f6f4f6"/><rect x="757.8" y="82.8" width="5.1" height="5.6" fill="#eeecef"/><rect x="762.5" y="62.0" width="5.1" height="5.6" fill="#eeecef"/><rect x="762.5" y="67.2" width="5.1" height="5.6" fill="#f0eef4"/><rect x="762.5" y="72.4" width="5.1" height="5.6" fill="#ebe9ee"/><rect x="762.5" y="77.6" width="5.1" height="5.6" fill="#f6f4f6"/><rect x="762.5" y="82.8" width="5.1" height="5.6" fill="#eeecef"/><rect x="767.2" y="62.0" width="5.1" height="5.6" fill="#eeecef"/><rect x="767.2" y="67.2" width="5.1" height="5.6" fill="#f6f4f6"/><rect x="767.2" y="72.4" width="5.1" height="5.6" fill="#ebe9ee"/><rect x="767.2" y="77.6" width="5.1" height="5.6" fill="#eeecef"/><rect x="767.2" y="82.8" width="5.1" height="5.6" fill="#eeecef"/><rect x="771.8" y="62.0" width="5.1" height="5.6" fill="#eeecef"/><rect x="771.8" y="67.2" width="5.1" height="5.6" fill="#f0eef4"/><rect x="771.8" y="72.4" width="5.1" height="5.6" fill="#eeecef"/><rect x="771.8" y="77.6" width="5.1" height="5.6" fill="#ebe9ee"/><rect x="771.8" y="82.8" width="5.1" height="5.6" fill="#f3f1f3"/><rect x="776.5" y="62.0" width="5.1" height="5.6" fill="#eeecef"/><rect x="776.5" y="67.2" width="5.1" height="5.6" fill="#f0eef4"/><rect x="776.5" y="72.4" width="5.1" height="5.6" fill="#ebe9ee"/><rect x="776.5" y="77.6" width="5.1" height="5.6" fill="#f0eef4"/><rect x="776.5" y="82.8" width="5.1" height="5.6" fill="#eeecef"/><rect x="781.2" y="62.0" width="5.1" height="5.6" fill="#f3f1f3"/><rect x="781.2" y="67.2" width="5.1" height="5.6" fill="#f0eef4"/><rect x="781.2" y="72.4" width="5.1" height="5.6" fill="#eeecef"/><rect x="781.2" y="77.6" width="5.1" height="5.6" fill="#eeecef"/><rect x="781.2" y="82.8" width="5.1" height="5.6" fill="#f3f1f3"/><rect x="785.8" y="62.0" width="5.1" height="5.6" fill="#f3f1f3"/><rect x="785.8" y="67.2" width="5.1" height="5.6" fill="#eeecef"/><rect x="785.8" y="72.4" width="5.1" height="5.6" fill="#eeecef"/><rect x="785.8" y="77.6" width="5.1" height="5.6" fill="#f0eef4"/><rect x="785.8" y="82.8" width="5.1" height="5.6" fill="#eeecef"/></g>
<g filter="url(#mb2)" opacity="0.95"><rect x="748.5" y="63.5" width="5.1" height="6.9" fill="#d5d3d4"/><rect x="753.2" y="63.5" width="5.1" height="6.9" fill="#cbc9cb"/><rect x="757.8" y="63.5" width="5.1" height="6.9" fill="#c2c0c3"/><rect x="762.5" y="63.5" width="5.1" height="6.9" fill="#b8b6b9"/><rect x="771.8" y="63.5" width="5.1" height="6.9" fill="#d5d3d4"/><rect x="776.5" y="63.5" width="5.1" height="6.9" fill="#c2c0c3"/><rect x="785.8" y="63.5" width="5.1" height="6.9" fill="#c2c0c3"/></g>
<g filter="url(#mb2)" opacity="0.95"><rect x="748.5" y="78.5" width="5.4" height="6.9" fill="#c2c0c3"/><rect x="758.5" y="78.5" width="5.4" height="6.9" fill="#c2c0c3"/><rect x="763.5" y="78.5" width="5.4" height="6.9" fill="#b8b6b9"/><rect x="768.5" y="78.5" width="5.4" height="6.9" fill="#c2c0c3"/><rect x="773.4" y="78.5" width="5.4" height="6.9" fill="#cbc9cb"/><rect x="778.4" y="78.5" width="5.4" height="6.9" fill="#b8b6b9"/></g>
<g filter="url(#mb2)" opacity="0.95"><rect x="727.5" y="70.8" width="5.6" height="5.2" fill="#b5ced1"/><rect x="727.5" y="75.5" width="5.6" height="5.2" fill="#8fb3b8"/><rect x="727.5" y="80.2" width="5.6" height="5.2" fill="#6f9da4"/><rect x="732.7" y="66.0" width="5.6" height="5.2" fill="#8fb3b8"/><rect x="732.7" y="70.8" width="5.6" height="5.2" fill="#cfe0e2"/><rect x="732.7" y="75.5" width="5.6" height="5.2" fill="#a3c2c6"/><rect x="737.8" y="66.0" width="5.6" height="5.2" fill="#6f9da4"/><rect x="737.8" y="75.5" width="5.6" height="5.2" fill="#6f9da4"/><rect x="737.8" y="80.2" width="5.6" height="5.2" fill="#6f9da4"/></g>
<g filter="url(#mb2)" opacity="0.95"><rect x="818.0" y="62.0" width="5.2" height="5.6" fill="#eeecef"/><rect x="818.0" y="67.2" width="5.2" height="5.6" fill="#ebe9ee"/><rect x="818.0" y="72.4" width="5.2" height="5.6" fill="#f6f4f6"/><rect x="818.0" y="77.6" width="5.2" height="5.6" fill="#f6f4f6"/><rect x="818.0" y="82.8" width="5.2" height="5.6" fill="#f3f1f3"/><rect x="822.8" y="62.0" width="5.2" height="5.6" fill="#eeecef"/><rect x="822.8" y="67.2" width="5.2" height="5.6" fill="#f3f1f3"/><rect x="822.8" y="72.4" width="5.2" height="5.6" fill="#ebe9ee"/><rect x="822.8" y="77.6" width="5.2" height="5.6" fill="#f0eef4"/><rect x="822.8" y="82.8" width="5.2" height="5.6" fill="#f3f1f3"/><rect x="827.6" y="62.0" width="5.2" height="5.6" fill="#f3f1f3"/><rect x="827.6" y="67.2" width="5.2" height="5.6" fill="#f6f4f6"/><rect x="827.6" y="72.4" width="5.2" height="5.6" fill="#f6f4f6"/><rect x="827.6" y="77.6" width="5.2" height="5.6" fill="#f0eef4"/><rect x="827.6" y="82.8" width="5.2" height="5.6" fill="#f3f1f3"/><rect x="832.4" y="62.0" width="5.2" height="5.6" fill="#f3f1f3"/><rect x="832.4" y="67.2" width="5.2" height="5.6" fill="#f0eef4"/><rect x="832.4" y="72.4" width="5.2" height="5.6" fill="#f0eef4"/><rect x="832.4" y="77.6" width="5.2" height="5.6" fill="#f0eef4"/><rect x="832.4" y="82.8" width="5.2" height="5.6" fill="#eeecef"/><rect x="837.2" y="62.0" width="5.2" height="5.6" fill="#f3f1f3"/><rect x="837.2" y="67.2" width="5.2" height="5.6" fill="#f6f4f6"/><rect x="837.2" y="72.4" width="5.2" height="5.6" fill="#f3f1f3"/><rect x="837.2" y="77.6" width="5.2" height="5.6" fill="#f0eef4"/><rect x="837.2" y="82.8" width="5.2" height="5.6" fill="#eeecef"/><rect x="842.0" y="62.0" width="5.2" height="5.6" fill="#eeecef"/><rect x="842.0" y="67.2" width="5.2" height="5.6" fill="#ebe9ee"/><rect x="842.0" y="72.4" width="5.2" height="5.6" fill="#ebe9ee"/><rect x="842.0" y="77.6" width="5.2" height="5.6" fill="#eeecef"/><rect x="842.0" y="82.8" width="5.2" height="5.6" fill="#eeecef"/><rect x="846.8" y="62.0" width="5.2" height="5.6" fill="#f3f1f3"/><rect x="846.8" y="67.2" width="5.2" height="5.6" fill="#f3f1f3"/><rect x="846.8" y="72.4" width="5.2" height="5.6" fill="#ebe9ee"/><rect x="846.8" y="77.6" width="5.2" height="5.6" fill="#ebe9ee"/><rect x="846.8" y="82.8" width="5.2" height="5.6" fill="#f3f1f3"/><rect x="851.6" y="62.0" width="5.2" height="5.6" fill="#eeecef"/><rect x="851.6" y="67.2" width="5.2" height="5.6" fill="#f0eef4"/><rect x="851.6" y="72.4" width="5.2" height="5.6" fill="#f0eef4"/><rect x="851.6" y="77.6" width="5.2" height="5.6" fill="#f3f1f3"/><rect x="851.6" y="82.8" width="5.2" height="5.6" fill="#f3f1f3"/><rect x="856.4" y="62.0" width="5.2" height="5.6" fill="#f3f1f3"/><rect x="856.4" y="67.2" width="5.2" height="5.6" fill="#f3f1f3"/><rect x="856.4" y="72.4" width="5.2" height="5.6" fill="#ebe9ee"/><rect x="856.4" y="77.6" width="5.2" height="5.6" fill="#ebe9ee"/><rect x="856.4" y="82.8" width="5.2" height="5.6" fill="#f3f1f3"/><rect x="861.2" y="62.0" width="5.2" height="5.6" fill="#f3f1f3"/><rect x="861.2" y="67.2" width="5.2" height="5.6" fill="#f3f1f3"/><rect x="861.2" y="72.4" width="5.2" height="5.6" fill="#eeecef"/><rect x="861.2" y="77.6" width="5.2" height="5.6" fill="#ebe9ee"/><rect x="861.2" y="82.8" width="5.2" height="5.6" fill="#f3f1f3"/></g>
<g filter="url(#mb2)" opacity="0.95"><rect x="818.0" y="63.5" width="5.2" height="6.9" fill="#cbc9cb"/><rect x="822.8" y="63.5" width="5.2" height="6.9" fill="#cbc9cb"/><rect x="827.6" y="63.5" width="5.2" height="6.9" fill="#d5d3d4"/><rect x="832.4" y="63.5" width="5.2" height="6.9" fill="#d5d3d4"/><rect x="837.2" y="63.5" width="5.2" height="6.9" fill="#d5d3d4"/><rect x="842.0" y="63.5" width="5.2" height="6.9" fill="#cbc9cb"/><rect x="846.8" y="63.5" width="5.2" height="6.9" fill="#d5d3d4"/><rect x="851.6" y="63.5" width="5.2" height="6.9" fill="#b8b6b9"/><rect x="856.4" y="63.5" width="5.2" height="6.9" fill="#c2c0c3"/><rect x="861.2" y="63.5" width="5.2" height="6.9" fill="#cbc9cb"/></g>
<g filter="url(#mb2)" opacity="0.95"><rect x="818.0" y="78.5" width="4.7" height="6.9" fill="#cbc9cb"/><rect x="822.3" y="78.5" width="4.7" height="6.9" fill="#c2c0c3"/><rect x="826.6" y="78.5" width="4.7" height="6.9" fill="#cbc9cb"/><rect x="831.0" y="78.5" width="4.7" height="6.9" fill="#cbc9cb"/><rect x="835.3" y="78.5" width="4.7" height="6.9" fill="#c2c0c3"/></g>
<g filter="url(#mb2)" opacity="0.95"><rect x="801.0" y="66.0" width="6.4" height="5.2" fill="#3f7d86"/><rect x="801.0" y="70.8" width="6.4" height="5.2" fill="#2f6d76"/><rect x="801.0" y="75.5" width="6.4" height="5.2" fill="#8fb3b8"/><rect x="801.0" y="80.2" width="6.4" height="5.2" fill="#3f7d86"/><rect x="807.0" y="66.0" width="6.4" height="5.2" fill="#3f7d86"/><rect x="807.0" y="70.8" width="6.4" height="5.2" fill="#3f7d86"/><rect x="807.0" y="75.5" width="6.4" height="5.2" fill="#3f7d86"/><rect x="807.0" y="80.2" width="6.4" height="5.2" fill="#5a9199"/></g>
<g filter="url(#mb2)" opacity="0.95"><rect x="892.0" y="62.0" width="5.0" height="5.6" fill="#eeecef"/><rect x="892.0" y="67.2" width="5.0" height="5.6" fill="#f6f4f6"/><rect x="892.0" y="72.4" width="5.0" height="5.6" fill="#f0eef4"/><rect x="892.0" y="77.6" width="5.0" height="5.6" fill="#ebe9ee"/><rect x="892.0" y="82.8" width="5.0" height="5.6" fill="#f3f1f3"/><rect x="896.6" y="62.0" width="5.0" height="5.6" fill="#eeecef"/><rect x="896.6" y="67.2" width="5.0" height="5.6" fill="#eeecef"/><rect x="896.6" y="72.4" width="5.0" height="5.6" fill="#f3f1f3"/><rect x="896.6" y="77.6" width="5.0" height="5.6" fill="#ebe9ee"/><rect x="896.6" y="82.8" width="5.0" height="5.6" fill="#f3f1f3"/><rect x="901.2" y="62.0" width="5.0" height="5.6" fill="#eeecef"/><rect x="901.2" y="67.2" width="5.0" height="5.6" fill="#eeecef"/><rect x="901.2" y="72.4" width="5.0" height="5.6" fill="#f0eef4"/><rect x="901.2" y="77.6" width="5.0" height="5.6" fill="#ebe9ee"/><rect x="901.2" y="82.8" width="5.0" height="5.6" fill="#eeecef"/><rect x="905.9" y="62.0" width="5.0" height="5.6" fill="#eeecef"/><rect x="905.9" y="67.2" width="5.0" height="5.6" fill="#f6f4f6"/><rect x="905.9" y="72.4" width="5.0" height="5.6" fill="#f0eef4"/><rect x="905.9" y="77.6" width="5.0" height="5.6" fill="#eeecef"/><rect x="905.9" y="82.8" width="5.0" height="5.6" fill="#eeecef"/><rect x="910.5" y="62.0" width="5.0" height="5.6" fill="#f3f1f3"/><rect x="910.5" y="67.2" width="5.0" height="5.6" fill="#eeecef"/><rect x="910.5" y="72.4" width="5.0" height="5.6" fill="#ebe9ee"/><rect x="910.5" y="77.6" width="5.0" height="5.6" fill="#ebe9ee"/><rect x="910.5" y="82.8" width="5.0" height="5.6" fill="#eeecef"/><rect x="915.1" y="62.0" width="5.0" height="5.6" fill="#eeecef"/><rect x="915.1" y="67.2" width="5.0" height="5.6" fill="#f0eef4"/><rect x="915.1" y="72.4" width="5.0" height="5.6" fill="#f6f4f6"/><rect x="915.1" y="77.6" width="5.0" height="5.6" fill="#f3f1f3"/><rect x="915.1" y="82.8" width="5.0" height="5.6" fill="#f3f1f3"/><rect x="919.8" y="62.0" width="5.0" height="5.6" fill="#eeecef"/><rect x="919.8" y="67.2" width="5.0" height="5.6" fill="#ebe9ee"/><rect x="919.8" y="72.4" width="5.0" height="5.6" fill="#f6f4f6"/><rect x="919.8" y="77.6" width="5.0" height="5.6" fill="#eeecef"/><rect x="919.8" y="82.8" width="5.0" height="5.6" fill="#f3f1f3"/><rect x="924.4" y="62.0" width="5.0" height="5.6" fill="#f3f1f3"/><rect x="924.4" y="67.2" width="5.0" height="5.6" fill="#f6f4f6"/><rect x="924.4" y="72.4" width="5.0" height="5.6" fill="#f3f1f3"/><rect x="924.4" y="77.6" width="5.0" height="5.6" fill="#ebe9ee"/><rect x="924.4" y="82.8" width="5.0" height="5.6" fill="#f3f1f3"/></g>
<g filter="url(#mb2)" opacity="0.95"><rect x="892.0" y="63.5" width="5.0" height="6.9" fill="#c2c0c3"/><rect x="896.6" y="63.5" width="5.0" height="6.9" fill="#cbc9cb"/><rect x="901.2" y="63.5" width="5.0" height="6.9" fill="#cbc9cb"/><rect x="905.9" y="63.5" width="5.0" height="6.9" fill="#d5d3d4"/><rect x="910.5" y="63.5" width="5.0" height="6.9" fill="#d5d3d4"/><rect x="915.1" y="63.5" width="5.0" height="6.9" fill="#c2c0c3"/><rect x="919.8" y="63.5" width="5.0" height="6.9" fill="#cbc9cb"/><rect x="924.4" y="63.5" width="5.0" height="6.9" fill="#c2c0c3"/></g>
<g filter="url(#mb2)" opacity="0.95"><rect x="892.0" y="78.5" width="5.4" height="6.9" fill="#b8b6b9"/><rect x="897.0" y="78.5" width="5.4" height="6.9" fill="#cbc9cb"/><rect x="902.0" y="78.5" width="5.4" height="6.9" fill="#cbc9cb"/><rect x="907.1" y="78.5" width="5.4" height="6.9" fill="#b8b6b9"/><rect x="912.1" y="78.5" width="5.4" height="6.9" fill="#c2c0c3"/><rect x="917.1" y="78.5" width="5.4" height="6.9" fill="#d5d3d4"/><rect x="922.1" y="78.5" width="5.4" height="6.9" fill="#b8b6b9"/></g>
<g filter="url(#mb2)" opacity="0.95"><rect x="871.0" y="66.0" width="5.7" height="5.2" fill="#8fb3b8"/><rect x="871.0" y="70.8" width="5.7" height="5.2" fill="#cfe0e2"/><rect x="871.0" y="75.5" width="5.7" height="5.2" fill="#8fb3b8"/><rect x="871.0" y="80.2" width="5.7" height="5.2" fill="#8fb3b8"/><rect x="876.3" y="66.0" width="5.7" height="5.2" fill="#6f9da4"/><rect x="876.3" y="70.8" width="5.7" height="5.2" fill="#a3c2c6"/><rect x="876.3" y="75.5" width="5.7" height="5.2" fill="#6f9da4"/><rect x="876.3" y="80.2" width="5.7" height="5.2" fill="#6f9da4"/><rect x="881.7" y="66.0" width="5.7" height="5.2" fill="#8fb3b8"/><rect x="881.7" y="70.8" width="5.7" height="5.2" fill="#a3c2c6"/><rect x="881.7" y="75.5" width="5.7" height="5.2" fill="#8fb3b8"/><rect x="881.7" y="80.2" width="5.7" height="5.2" fill="#8fb3b8"/></g>
<rect x="438.300" y="62" width="39.700" height="19.500" rx="2.500" fill="#2c6770"/><text x="458.200" y="75.300" font-size="9.300" font-weight="bold" fill="#fff" text-anchor="middle">全部</text>
<g filter="url(#mbl)"><rect x="439" y="87" width="38.500" height="128" fill="#eef3f8" fill-opacity=".55"/></g>
<g filter="url(#mb2)"><rect x="439" y="86.5" width="38.500" height="22" fill="#fff" fill-opacity=".93"/></g>
<g filter="url(#mb2)" opacity="0.9"><rect x="446.0" y="93.5" width="5.2" height="7.4" fill="#e9efef"/><rect x="450.8" y="93.5" width="5.2" height="7.4" fill="#a9c0c4"/><rect x="455.6" y="93.5" width="5.2" height="7.4" fill="#c4d4d6"/><rect x="465.2" y="93.5" width="5.2" height="7.4" fill="#c4d4d6"/></g>
<g filter="url(#mb2)"><rect x="439" y="113.5" width="38.500" height="22" fill="#fff" fill-opacity=".93"/></g>
<g filter="url(#mb2)" opacity="0.9"><rect x="446.0" y="120.5" width="5.2" height="7.4" fill="#a9c0c4"/><rect x="450.8" y="120.5" width="5.2" height="7.4" fill="#a9c0c4"/><rect x="455.6" y="120.5" width="5.2" height="7.4" fill="#8fb0b5"/><rect x="460.4" y="120.5" width="5.2" height="7.4" fill="#8fb0b5"/><rect x="465.2" y="120.5" width="5.2" height="7.4" fill="#8fb0b5"/></g>
<g filter="url(#mb2)"><rect x="439" y="140.5" width="38.500" height="22" fill="#fff" fill-opacity=".93"/></g>
<g filter="url(#mb2)" opacity="0.9"><rect x="446.0" y="147.5" width="5.2" height="7.4" fill="#a9c0c4"/><rect x="450.8" y="147.5" width="5.2" height="7.4" fill="#dfe8e9"/><rect x="455.6" y="147.5" width="5.2" height="7.4" fill="#a9c0c4"/><rect x="460.4" y="147.5" width="5.2" height="7.4" fill="#a9c0c4"/><rect x="465.2" y="147.5" width="5.2" height="7.4" fill="#c4d4d6"/></g>
<g filter="url(#mb2)"><rect x="439" y="167.5" width="38.500" height="22" fill="#fff" fill-opacity=".93"/></g>
<g filter="url(#mb2)" opacity="0.9"><rect x="446.0" y="174.5" width="5.2" height="7.4" fill="#dfe8e9"/><rect x="455.6" y="174.5" width="5.2" height="7.4" fill="#a9c0c4"/><rect x="460.4" y="174.5" width="5.2" height="7.4" fill="#8fb0b5"/><rect x="465.2" y="174.5" width="5.2" height="7.4" fill="#c4d4d6"/></g>
<g filter="url(#mb2)"><rect x="439" y="194.5" width="38.500" height="22" fill="#fff" fill-opacity=".93"/></g>
<g filter="url(#mb2)" opacity="0.9"><rect x="446.0" y="201.5" width="5.2" height="7.4" fill="#e9efef"/><rect x="450.8" y="201.5" width="5.2" height="7.4" fill="#dfe8e9"/><rect x="455.6" y="201.5" width="5.2" height="7.4" fill="#a9c0c4"/><rect x="460.4" y="201.5" width="5.2" height="7.4" fill="#a9c0c4"/><rect x="465.2" y="201.5" width="5.2" height="7.4" fill="#dfe8e9"/></g>
<rect x="432.300" y="416" width="20.500" height="17.500" rx="2" fill="#6fae9c"/><rect x="431.500" y="415" width="20.500" height="17" rx="2" fill="#a6dcc8"/>
<rect x="432.300" y="439" width="20.500" height="17.500" rx="2" fill="#6fae9c"/><rect x="431.500" y="438" width="20.500" height="17" rx="2" fill="#a6dcc8"/>
<path d="M437.500 424.500h8.500v5.300h-7.500v-3.600M441 420.500l-3.500 2.400 3.500 2.400zM438 422.900h6.500v3" fill="none" stroke="#2c6770" stroke-width="1.300"/>
<path d="M446.800 443.200a4.600 4.600 0 1 0 .8 5" fill="none" stroke="#2c6770" stroke-width="1.400"/><path d="M447.600 440.500v3.500h-3.500" fill="none" stroke="#2c6770" stroke-width="1.300"/>
<rect x="1232.300" y="429" width="21.600" height="21" fill="#000" fill-opacity=".12" filter="url(#mb2)"/><rect x="1231.800" y="428.300" width="21.600" height="21" rx="1" fill="#fff"/>
<path d="M1238 435.500l3-1.500v8.500l-3 1.500zM1241.600 434l2.800 1.500v8.500l-2.800-1.500zM1245 435.500l2.600-1.500v8.500l-2.600 1.500z" fill="#444"/>
</svg>
</div>

<!-- PANEL 3 -->
<div class="pn" id="p3" style="left:143px;top:469px;width:274px;height:153px">
  <div class="tt" style="width:132px">DMA存量漏失评价</div>
  <svg class="abs" style="left:0;top:0" width="272" height="151" viewBox="144 470 272 151">
<text x="149.200" y="514.600" font-size="9.300" fill="#555">评价类别:</text>
<rect x="196.300" y="501.500" width="129.200" height="19.700" rx="2.500" fill="#fff" stroke="#dcdfe6" stroke-width=".8"/>
<text x="203.900" y="514.600" font-size="9.300" fill="#555">夜间最小流量/日平均流量</text>
<path d="M311.500 509.500l3 3.200 3-3.200" fill="none" stroke="#c0c4cc" stroke-width=".8"/>
<path d="M286.5 528.3A38.2 38.2 0 0 1 310.5 596.2L299.3 582.4A20.4 20.4 0 0 0 286.5 546.1Z" fill="#7de29b" stroke="#fff" stroke-width=".8"/>
<path d="M310.5 596.2A38.2 38.2 0 0 1 264.4 597.7L274.7 583.1A20.4 20.4 0 0 0 299.3 582.4Z" fill="#69bcf5" stroke="#fff" stroke-width=".8"/>
<path d="M264.4 597.7A38.2 38.2 0 0 1 286.5 528.3L286.5 546.1A20.4 20.4 0 0 0 274.7 583.1Z" fill="#f9d184" stroke="#fff" stroke-width=".8"/>
<rect x="159.700" y="546.2" width="16" height="8.600" rx="2" fill="#7de29b"/><text x="179.400" y="553.5" font-size="8" fill="#999">A(较好)</text>
<rect x="159.700" y="562" width="16" height="8.600" rx="2" fill="#69bcf5"/><text x="179.400" y="569.3" font-size="8" fill="#999">B(一般)</text>
<rect x="159.700" y="577.8" width="16" height="8.600" rx="2" fill="#f9d184"/><text x="179.400" y="585.1" font-size="8" fill="#999">C(较差)</text>
  </svg>
</div>
<!-- PANEL 4 -->
<div class="pn" id="p4" style="left:424px;top:469px;width:275px;height:153px">
  <div class="tt" style="width:132px">分区建设状态统计</div>
  <svg class="abs" style="left:0;top:0" width="273" height="151" viewBox="425 470 273 151">
<rect x="499" y="504.100" width="16.400" height="9.200" rx="2" fill="#f0b230"/><text x="519.3" y="511.800" font-size="8.200" fill="#444">2级</text>
<rect x="538.3" y="504.100" width="16.400" height="9.200" rx="2" fill="#d9df20"/><text x="558.8" y="511.800" font-size="8.200" fill="#444">3级</text>
<rect x="577.7" y="504.100" width="16.400" height="9.200" rx="2" fill="#7de29b"/><text x="597.7" y="511.800" font-size="8.200" fill="#444">DMA级</text>
<text x="461.400" y="528.800" font-size="8.500" fill="#444" text-anchor="middle">个</text>
<text x="456.500" y="602.4" font-size="8.200" fill="#555" text-anchor="end">0</text>
<line x1="461.400" y1="589.5" x2="682" y2="589.5" stroke="#e8e8e8" stroke-width=".8"/>
<text x="456.500" y="592.5" font-size="8.200" fill="#555" text-anchor="end">30</text>
<line x1="461.400" y1="579.7" x2="682" y2="579.7" stroke="#e8e8e8" stroke-width=".8"/>
<text x="456.500" y="582.7" font-size="8.200" fill="#555" text-anchor="end">60</text>
<line x1="461.400" y1="569.8" x2="682" y2="569.8" stroke="#e8e8e8" stroke-width=".8"/>
<text x="456.500" y="572.8" font-size="8.200" fill="#555" text-anchor="end">90</text>
<line x1="461.400" y1="559.9" x2="682" y2="559.9" stroke="#e8e8e8" stroke-width=".8"/>
<text x="456.500" y="562.9" font-size="8.200" fill="#555" text-anchor="end">120</text>
<line x1="461.400" y1="550" x2="682" y2="550" stroke="#e8e8e8" stroke-width=".8"/>
<text x="456.500" y="553" font-size="8.200" fill="#555" text-anchor="end">150</text>
<line x1="461.400" y1="540.2" x2="682" y2="540.2" stroke="#e8e8e8" stroke-width=".8"/>
<text x="456.500" y="543.2" font-size="8.200" fill="#555" text-anchor="end">180</text>
<rect x="487" y="580.3" width="22.4" height="19.1" fill="#f0b230"/>
<rect x="487" y="573.1" width="22.4" height="7.2" fill="#d9df20"/>
<rect x="487" y="541.2" width="22.4" height="31.9" fill="#7de29b"/>
<text x="498.2" y="592.9" font-size="8.200" fill="#fff" text-anchor="middle">58</text>
<text x="498.2" y="579.7" font-size="8.200" fill="#fff" text-anchor="middle">22</text>
<text x="498.2" y="560.1" font-size="8.200" fill="#fff" text-anchor="middle">97</text>
<rect x="560.100" y="597.4" width="22.900" height="2" fill="#7de29b"/>
<rect x="633.800" y="593.1" width="22.400" height="6.3" fill="#d9df20"/><text x="645" y="599.3" font-size="8.200" fill="#fff" text-anchor="middle">19</text>
<line x1="461.400" y1="599.4" x2="682" y2="599.4" stroke="#3a8ee6" stroke-width="1.300"/>
<line x1="461.4" y1="599.4" x2="461.4" y2="602.4" stroke="#555" stroke-width=".8"/>
<line x1="534.9" y1="599.4" x2="534.9" y2="602.4" stroke="#555" stroke-width=".8"/>
<line x1="608.5" y1="599.4" x2="608.5" y2="602.4" stroke="#555" stroke-width=".8"/>
<line x1="682" y1="599.4" x2="682" y2="602.4" stroke="#555" stroke-width=".8"/>
<text x="498.2" y="611.600" font-size="8.200" fill="#555" text-anchor="middle">完成</text>
<text x="571.7" y="611.600" font-size="8.200" fill="#555" text-anchor="middle">在建</text>
<text x="645.2" y="611.600" font-size="8.200" fill="#555" text-anchor="middle">规划</text>
  </svg>
</div>
<!-- PANEL 5 -->
<div class="pn" id="p5" style="left:707px;top:469px;width:275px;height:153px">
  <div class="tt" style="width:110px">用户用水量统计</div>
  <svg class="abs" style="left:0;top:0" width="273" height="151" viewBox="708 470 273 151">
<rect x="717.100" y="545.200" width="16.300" height="9.400" rx="2" fill="#69bcf5"/><text x="736.800" y="553" font-size="8.200" fill="#444">非居民</text>
<rect x="717.100" y="561.200" width="16.300" height="9.400" rx="2" fill="#7de29b"/><text x="736.800" y="569" font-size="8.200" fill="#444">居民</text>
<path d="M870.3 563.6L870.3 535.2A28.4 28.4 0 1 1 843.3 554.8Z" fill="#69bcf5"/>
<path d="M870.3 563.6L843.3 554.8A28.4 28.4 0 0 1 870.3 535.2Z" fill="#7de29b"/>
<path d="M842 540.200h12" stroke="#7de29b" stroke-width=".8" fill="none"/><path d="M888.200 586.200h9.200" stroke="#69bcf5" stroke-width=".8" fill="none"/>
<text x="839.500" y="538.600" font-size="8.200" fill="#7de29b" text-anchor="end">居民</text><text x="839.500" y="546.800" font-size="8.200" fill="#7de29b" text-anchor="end">19.99%</text>
<text x="901.300" y="585.200" font-size="8.200" fill="#69bcf5">非居民</text><text x="901.300" y="593.200" font-size="8.200" fill="#69bcf5">80.01%</text>
  </svg>
</div>
<!-- PANEL 6 -->
<div class="pn" id="p6" style="left:989px;top:469px;width:275px;height:153px">
  <div class="tt" style="width:132px">供售水量变化</div>
  <svg class="abs" style="left:0;top:0" width="273" height="151" viewBox="990 470 273 151">
<text x="1039.400" y="508" font-size="6.500" fill="#bbb">m³</text>
<circle cx="1063.600" cy="508.600" r="4.500" fill="#5fc4f9"/><text x="1074.600" y="511.600" font-size="8" fill="#999">供水量（配量）</text>
<circle cx="1141.700" cy="508.600" r="4.500" fill="#f5a964"/><text x="1153.800" y="511.600" font-size="8" fill="#999">计费售水量</text>
<text x="1039.300" y="597.2" font-size="8.200" fill="#555" text-anchor="end">0</text>
<line x1="1044.400" y1="580.9" x2="1250.400" y2="580.9" stroke="#eee" stroke-width=".8"/>
<text x="1039.300" y="582.4" font-size="8.200" fill="#555" text-anchor="end">1,000,000</text>
<line x1="1044.400" y1="566" x2="1250.400" y2="566" stroke="#eee" stroke-width=".8"/>
<text x="1039.300" y="567.5" font-size="8.200" fill="#555" text-anchor="end">2,000,000</text>
<line x1="1044.400" y1="551.2" x2="1250.400" y2="551.2" stroke="#eee" stroke-width=".8"/>
<text x="1039.300" y="552.7" font-size="8.200" fill="#555" text-anchor="end">3,000,000</text>
<line x1="1044.400" y1="536.3" x2="1250.400" y2="536.3" stroke="#eee" stroke-width=".8"/>
<text x="1039.300" y="537.8" font-size="8.200" fill="#555" text-anchor="end">4,000,000</text>
<line x1="1044.400" y1="521.5" x2="1250.400" y2="521.5" stroke="#eee" stroke-width=".8"/>
<text x="1039.300" y="523" font-size="8.200" fill="#555" text-anchor="end">5,000,000</text>
<line x1="1044.400" y1="595.7" x2="1250.400" y2="595.7" stroke="#888" stroke-width=".8"/>
<line x1="1044.4" y1="595.7" x2="1044.4" y2="598.2" stroke="#666" stroke-width=".8"/>
<line x1="1078.7" y1="595.7" x2="1078.7" y2="598.2" stroke="#666" stroke-width=".8"/>
<line x1="1113.1" y1="595.7" x2="1113.1" y2="598.2" stroke="#666" stroke-width=".8"/>
<line x1="1147.4" y1="595.7" x2="1147.4" y2="598.2" stroke="#666" stroke-width=".8"/>
<line x1="1181.7" y1="595.7" x2="1181.7" y2="598.2" stroke="#666" stroke-width=".8"/>
<line x1="1216.1" y1="595.7" x2="1216.1" y2="598.2" stroke="#666" stroke-width=".8"/>
<line x1="1250.4" y1="595.7" x2="1250.4" y2="598.2" stroke="#666" stroke-width=".8"/>
<rect x="1050.3" y="563.3" width="9.7" height="32.4" fill="#8fd4fa"/>
<ellipse cx="1055.2" cy="595.7" rx="4.85" ry="2.5" fill="#5fc4f9"/>
<ellipse cx="1055.2" cy="563.3" rx="4.85" ry="2.5" fill="#5fc4f9"/>
<rect x="1063.1" y="554.9" width="9.7" height="40.8" fill="#f7c295"/>
<ellipse cx="1068" cy="595.7" rx="4.85" ry="2.5" fill="#f5a964"/>
<ellipse cx="1068" cy="554.9" rx="4.85" ry="2.5" fill="#f5a964"/>
<text x="1061.6" y="606.600" font-size="8.200" fill="#555" text-anchor="middle">3月</text>
<rect x="1084.7" y="560.7" width="9.7" height="35" fill="#8fd4fa"/>
<ellipse cx="1089.5" cy="595.7" rx="4.85" ry="2.5" fill="#5fc4f9"/>
<ellipse cx="1089.5" cy="560.7" rx="4.85" ry="2.5" fill="#5fc4f9"/>
<rect x="1097.5" y="556.2" width="9.7" height="39.5" fill="#f7c295"/>
<ellipse cx="1102.3" cy="595.7" rx="4.85" ry="2.5" fill="#f5a964"/>
<ellipse cx="1102.3" cy="556.2" rx="4.85" ry="2.5" fill="#f5a964"/>
<text x="1095.9" y="606.600" font-size="8.200" fill="#555" text-anchor="middle">4月</text>
<rect x="1119" y="560.7" width="9.7" height="35" fill="#8fd4fa"/>
<ellipse cx="1123.8" cy="595.7" rx="4.85" ry="2.5" fill="#5fc4f9"/>
<ellipse cx="1123.8" cy="560.7" rx="4.85" ry="2.5" fill="#5fc4f9"/>
<rect x="1131.8" y="526" width="9.7" height="69.7" fill="#f7c295"/>
<ellipse cx="1136.6" cy="595.7" rx="4.85" ry="2.5" fill="#f5a964"/>
<ellipse cx="1136.6" cy="526" rx="4.85" ry="2.5" fill="#f5a964"/>
<text x="1130.2" y="606.600" font-size="8.200" fill="#555" text-anchor="middle">5月</text>
<rect x="1153.3" y="564.6" width="9.7" height="31.1" fill="#8fd4fa"/>
<ellipse cx="1158.2" cy="595.7" rx="4.85" ry="2.5" fill="#5fc4f9"/>
<ellipse cx="1158.2" cy="564.6" rx="4.85" ry="2.5" fill="#5fc4f9"/>
<rect x="1166.1" y="535.7" width="9.7" height="60" fill="#f7c295"/>
<ellipse cx="1171" cy="595.7" rx="4.85" ry="2.5" fill="#f5a964"/>
<ellipse cx="1171" cy="535.7" rx="4.85" ry="2.5" fill="#f5a964"/>
<text x="1164.6" y="606.600" font-size="8.200" fill="#555" text-anchor="middle">6月</text>
<rect x="1187.7" y="560.2" width="9.7" height="35.5" fill="#8fd4fa"/>
<ellipse cx="1192.5" cy="595.7" rx="4.85" ry="2.5" fill="#5fc4f9"/>
<ellipse cx="1192.5" cy="560.2" rx="4.85" ry="2.5" fill="#5fc4f9"/>
<ellipse cx="1205.3" cy="595.7" rx="4.85" ry="2.5" fill="#f5a964"/>
<text x="1198.9" y="606.600" font-size="8.200" fill="#555" text-anchor="middle">7月</text>
<rect x="1222" y="558.8" width="9.7" height="36.9" fill="#8fd4fa"/>
<ellipse cx="1226.8" cy="595.7" rx="4.85" ry="2.5" fill="#5fc4f9"/>
<ellipse cx="1226.8" cy="558.8" rx="4.85" ry="2.5" fill="#5fc4f9"/>
<ellipse cx="1239.6" cy="595.7" rx="4.85" ry="2.5" fill="#f5a964"/>
<text x="1233.2" y="606.600" font-size="8.200" fill="#555" text-anchor="middle">8月</text>
  </svg>
</div>

<div class="abs" style="left:0;top:626px;width:1268px;height:1px;background:#b4b9bc"></div>
</body>
</html>
